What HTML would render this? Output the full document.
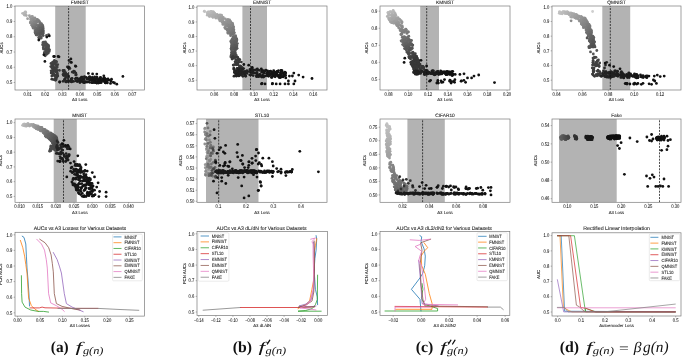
<!DOCTYPE html>
<html><head><meta charset="utf-8"><style>
html,body{margin:0;padding:0;background:#fff;}
body{width:682px;height:357px;overflow:hidden;position:relative;}
svg{position:absolute;left:0;top:0;will-change:transform;}
svg text{font-family:"Liberation Sans", sans-serif;fill:#262626;text-rendering:geometricPrecision;stroke:#262626;stroke-width:0.09px;}
svg text.cs{font-family:"Liberation Serif",serif;fill:#111;stroke:none;}
.cap{position:absolute;top:337px;font-family:"Liberation Serif",serif;font-size:14px;color:#111;white-space:nowrap;}
.cap b{font-weight:bold;}
.cap i{font-style:italic;}
.cap sub{font-size:9.5px;vertical-align:-3px;font-style:italic;}
</style></head><body>
<svg width="682" height="357" viewBox="0 0 682 357" xmlns="http://www.w3.org/2000/svg">
<clipPath id="c0"><rect x="15" y="6" width="129.5" height="84"/></clipPath>
<clipPath id="c1"><rect x="197" y="6" width="130" height="84"/></clipPath>
<clipPath id="c2"><rect x="380" y="6" width="130" height="84"/></clipPath>
<clipPath id="c3"><rect x="552" y="6" width="129" height="84"/></clipPath>
<clipPath id="c4"><rect x="15" y="119" width="129.6" height="83.30000000000001"/></clipPath>
<clipPath id="c5"><rect x="197" y="119" width="130" height="83.30000000000001"/></clipPath>
<clipPath id="c6"><rect x="380" y="119" width="130" height="83.30000000000001"/></clipPath>
<clipPath id="c7"><rect x="552" y="119" width="129" height="83.30000000000001"/></clipPath>
<clipPath id="c8"><rect x="15" y="232.3" width="129.6" height="83.80000000000001"/></clipPath>
<clipPath id="c9"><rect x="197" y="231.5" width="130.39999999999998" height="84.0"/></clipPath>
<clipPath id="c10"><rect x="380" y="231.5" width="129.8" height="84.0"/></clipPath>
<clipPath id="c11"><rect x="552" y="232.8" width="129" height="83.19999999999999"/></clipPath>
<g clip-path="url(#c0)">
<rect x="55.2" y="6" width="30.5" height="84" fill="#b3b3b3"/>
<circle cx="22.6" cy="13.3" r="1.4" fill="#bcbcbc"/>
<circle cx="25.0" cy="12.2" r="1.4" fill="#b9b9b9"/>
<circle cx="25.5" cy="12.0" r="1.4" fill="#b9b9b9"/>
<circle cx="23.9" cy="13.3" r="1.4" fill="#b9b9b9"/>
<circle cx="24.8" cy="12.7" r="1.4" fill="#b8b8b8"/>
<circle cx="23.8" cy="13.7" r="1.4" fill="#b8b8b8"/>
<circle cx="25.8" cy="12.7" r="1.4" fill="#b6b6b6"/>
<circle cx="24.3" cy="15.0" r="1.4" fill="#b3b3b3"/>
<circle cx="24.9" cy="14.9" r="1.4" fill="#b1b1b1"/>
<circle cx="26.3" cy="15.5" r="1.4" fill="#acacac"/>
<circle cx="29.4" cy="15.7" r="1.4" fill="#a4a4a4"/>
<circle cx="27.6" cy="18.7" r="1.4" fill="#a0a0a0"/>
<circle cx="30.7" cy="17.2" r="1.4" fill="#9d9d9d"/>
<circle cx="30.5" cy="17.4" r="1.4" fill="#9d9d9d"/>
<circle cx="31.3" cy="16.9" r="1.4" fill="#9c9c9c"/>
<circle cx="32.4" cy="16.3" r="1.4" fill="#9c9c9c"/>
<circle cx="31.8" cy="17.0" r="1.4" fill="#9b9b9b"/>
<circle cx="31.3" cy="17.8" r="1.4" fill="#9a9a9a"/>
<circle cx="30.7" cy="19.4" r="1.4" fill="#969696"/>
<circle cx="33.4" cy="18.4" r="1.4" fill="#939393"/>
<circle cx="32.2" cy="19.6" r="1.4" fill="#929292"/>
<circle cx="32.6" cy="19.4" r="1.4" fill="#929292"/>
<circle cx="33.1" cy="19.1" r="1.4" fill="#929292"/>
<circle cx="34.9" cy="17.9" r="1.4" fill="#919191"/>
<circle cx="34.2" cy="18.8" r="1.4" fill="#909090"/>
<circle cx="31.1" cy="21.3" r="1.4" fill="#909090"/>
<circle cx="30.5" cy="22.2" r="1.4" fill="#8f8f8f"/>
<circle cx="30.4" cy="22.9" r="1.4" fill="#8d8d8d"/>
<circle cx="33.3" cy="20.8" r="1.4" fill="#8c8c8c"/>
<circle cx="34.0" cy="20.9" r="1.4" fill="#8a8a8a"/>
<circle cx="31.4" cy="22.9" r="1.4" fill="#8a8a8a"/>
<circle cx="32.4" cy="22.6" r="1.4" fill="#898989"/>
<circle cx="37.2" cy="19.3" r="1.4" fill="#888888"/>
<circle cx="37.0" cy="19.7" r="1.4" fill="#878787"/>
<circle cx="36.7" cy="20.1" r="1.4" fill="#868686"/>
<circle cx="34.5" cy="22.0" r="1.4" fill="#868686"/>
<circle cx="36.7" cy="20.4" r="1.4" fill="#858585"/>
<circle cx="33.9" cy="22.9" r="1.4" fill="#858585"/>
<circle cx="33.8" cy="23.0" r="1.4" fill="#848484"/>
<circle cx="35.8" cy="21.7" r="1.4" fill="#848484"/>
<circle cx="31.6" cy="25.0" r="1.4" fill="#848484"/>
<circle cx="37.0" cy="20.9" r="1.4" fill="#838383"/>
<circle cx="36.2" cy="21.7" r="1.4" fill="#838383"/>
<circle cx="38.4" cy="20.1" r="1.4" fill="#828282"/>
<circle cx="35.7" cy="22.3" r="1.4" fill="#828282"/>
<circle cx="36.2" cy="22.0" r="1.4" fill="#828282"/>
<circle cx="32.1" cy="25.2" r="1.4" fill="#828282"/>
<circle cx="32.9" cy="24.9" r="1.4" fill="#818181"/>
<circle cx="37.0" cy="21.9" r="1.4" fill="#808080"/>
<circle cx="37.3" cy="22.1" r="1.4" fill="#7f7f7f"/>
<circle cx="37.7" cy="21.7" r="1.4" fill="#7f7f7f"/>
<circle cx="34.2" cy="24.5" r="1.4" fill="#7f7f7f"/>
<circle cx="32.5" cy="26.0" r="1.4" fill="#7f7f7f"/>
<circle cx="39.4" cy="21.3" r="1.4" fill="#7c7c7c"/>
<circle cx="35.9" cy="24.3" r="1.4" fill="#7c7c7c"/>
<circle cx="34.6" cy="25.6" r="1.4" fill="#7b7b7b"/>
<circle cx="32.9" cy="27.0" r="1.4" fill="#7b7b7b"/>
<circle cx="36.1" cy="24.9" r="1.4" fill="#797979"/>
<circle cx="33.1" cy="27.8" r="1.4" fill="#777777"/>
<circle cx="33.9" cy="27.3" r="1.4" fill="#777777"/>
<circle cx="33.4" cy="28.2" r="1.4" fill="#767676"/>
<circle cx="40.2" cy="23.0" r="1.4" fill="#757575"/>
<circle cx="37.4" cy="25.2" r="1.4" fill="#757575"/>
<circle cx="34.6" cy="27.4" r="1.4" fill="#757575"/>
<circle cx="35.2" cy="27.1" r="1.4" fill="#757575"/>
<circle cx="34.1" cy="28.0" r="1.4" fill="#757575"/>
<circle cx="38.3" cy="25.3" r="1.4" fill="#737373"/>
<circle cx="39.2" cy="24.7" r="1.4" fill="#727272"/>
<circle cx="37.6" cy="26.4" r="1.4" fill="#717171"/>
<circle cx="41.4" cy="23.6" r="1.4" fill="#717171"/>
<circle cx="35.8" cy="28.1" r="1.4" fill="#707070"/>
<circle cx="35.3" cy="28.7" r="1.4" fill="#707070"/>
<circle cx="40.0" cy="25.4" r="1.4" fill="#6f6f6f"/>
<circle cx="36.2" cy="28.4" r="1.4" fill="#6f6f6f"/>
<circle cx="41.3" cy="24.8" r="1.4" fill="#6e6e6e"/>
<circle cx="39.3" cy="26.4" r="1.4" fill="#6d6d6d"/>
<circle cx="39.3" cy="26.6" r="1.4" fill="#6d6d6d"/>
<circle cx="37.1" cy="28.4" r="1.4" fill="#6d6d6d"/>
<circle cx="41.4" cy="25.2" r="1.4" fill="#6c6c6c"/>
<circle cx="40.9" cy="25.7" r="1.4" fill="#6c6c6c"/>
<circle cx="42.1" cy="24.8" r="1.4" fill="#6c6c6c"/>
<circle cx="41.7" cy="25.2" r="1.4" fill="#6b6b6b"/>
<circle cx="37.9" cy="28.2" r="1.4" fill="#6b6b6b"/>
<circle cx="39.0" cy="27.6" r="1.4" fill="#6b6b6b"/>
<circle cx="35.1" cy="30.7" r="1.4" fill="#6a6a6a"/>
<circle cx="42.2" cy="25.5" r="1.4" fill="#696969"/>
<circle cx="39.9" cy="27.4" r="1.4" fill="#696969"/>
<circle cx="36.3" cy="30.3" r="1.4" fill="#696969"/>
<circle cx="37.6" cy="29.3" r="1.4" fill="#696969"/>
<circle cx="35.3" cy="31.2" r="1.4" fill="#696969"/>
<circle cx="36.4" cy="30.3" r="1.4" fill="#686868"/>
<circle cx="42.3" cy="25.8" r="1.4" fill="#686868"/>
<circle cx="37.5" cy="29.6" r="1.4" fill="#686868"/>
<circle cx="40.9" cy="27.0" r="1.4" fill="#686868"/>
<circle cx="40.3" cy="27.5" r="1.4" fill="#686868"/>
<circle cx="39.8" cy="27.9" r="1.4" fill="#686868"/>
<circle cx="42.8" cy="26.0" r="1.4" fill="#666666"/>
<circle cx="39.9" cy="28.4" r="1.4" fill="#666666"/>
<circle cx="42.8" cy="26.2" r="1.4" fill="#666666"/>
<circle cx="35.2" cy="32.3" r="1.4" fill="#656565"/>
<circle cx="36.3" cy="31.7" r="1.4" fill="#646464"/>
<circle cx="38.0" cy="30.4" r="1.4" fill="#646464"/>
<circle cx="38.3" cy="30.2" r="1.4" fill="#646464"/>
<circle cx="39.1" cy="29.7" r="1.4" fill="#646464"/>
<circle cx="35.9" cy="32.3" r="1.4" fill="#646464"/>
<circle cx="41.2" cy="28.2" r="1.4" fill="#636363"/>
<circle cx="40.7" cy="28.8" r="1.4" fill="#636363"/>
<circle cx="41.9" cy="28.0" r="1.4" fill="#626262"/>
<circle cx="42.7" cy="27.4" r="1.4" fill="#626262"/>
<circle cx="40.9" cy="28.9" r="1.4" fill="#626262"/>
<circle cx="37.2" cy="31.9" r="1.4" fill="#626262"/>
<circle cx="40.9" cy="29.1" r="1.4" fill="#626262"/>
<circle cx="35.9" cy="33.2" r="1.4" fill="#616161"/>
<circle cx="35.5" cy="33.6" r="1.4" fill="#616161"/>
<circle cx="41.9" cy="28.6" r="1.4" fill="#616161"/>
<circle cx="39.2" cy="31.1" r="1.4" fill="#606060"/>
<circle cx="43.1" cy="28.1" r="1.4" fill="#5f5f5f"/>
<circle cx="38.5" cy="31.9" r="1.4" fill="#5f5f5f"/>
<circle cx="42.9" cy="28.6" r="1.4" fill="#5e5e5e"/>
<circle cx="40.2" cy="30.8" r="1.4" fill="#5e5e5e"/>
<circle cx="42.4" cy="29.5" r="1.4" fill="#5d5d5d"/>
<circle cx="37.8" cy="33.3" r="1.4" fill="#5c5c5c"/>
<circle cx="42.4" cy="29.7" r="1.4" fill="#5c5c5c"/>
<circle cx="36.2" cy="34.9" r="1.4" fill="#5b5b5b"/>
<circle cx="39.9" cy="32.0" r="1.4" fill="#5b5b5b"/>
<circle cx="40.8" cy="31.5" r="1.4" fill="#5b5b5b"/>
<circle cx="37.7" cy="34.0" r="1.4" fill="#5a5a5a"/>
<circle cx="41.3" cy="31.3" r="1.4" fill="#5a5a5a"/>
<circle cx="36.9" cy="34.9" r="1.4" fill="#5a5a5a"/>
<circle cx="43.2" cy="30.0" r="1.4" fill="#5a5a5a"/>
<circle cx="42.8" cy="30.3" r="1.4" fill="#595959"/>
<circle cx="42.1" cy="31.6" r="1.4" fill="#575757"/>
<circle cx="42.7" cy="31.7" r="1.4" fill="#555555"/>
<circle cx="43.2" cy="31.4" r="1.4" fill="#555555"/>
<circle cx="41.0" cy="36.6" r="1.4" fill="#555555"/>
<circle cx="39.6" cy="38.5" r="1.4" fill="#555555"/>
<circle cx="40.0" cy="34.5" r="1.4" fill="#555555"/>
<circle cx="39.7" cy="38.0" r="1.4" fill="#555555"/>
<circle cx="38.7" cy="37.4" r="1.4" fill="#555555"/>
<circle cx="42.4" cy="33.8" r="1.4" fill="#555555"/>
<circle cx="42.3" cy="32.7" r="1.4" fill="#555555"/>
<circle cx="43.2" cy="35.6" r="1.4" fill="#555555"/>
<circle cx="41.3" cy="38.0" r="1.4" fill="#555555"/>
<circle cx="40.7" cy="33.5" r="1.4" fill="#555555"/>
<circle cx="42.8" cy="34.9" r="1.4" fill="#555555"/>
<circle cx="41.9" cy="32.6" r="1.4" fill="#555555"/>
<circle cx="43.3" cy="32.9" r="1.4" fill="#555555"/>
<circle cx="40.8" cy="34.0" r="1.4" fill="#555555"/>
<circle cx="39.4" cy="36.1" r="1.4" fill="#555555"/>
<circle cx="42.9" cy="33.5" r="1.4" fill="#555555"/>
<circle cx="46.5" cy="35.4" r="1.4" fill="#555555"/>
<circle cx="48.6" cy="34.6" r="1.4" fill="#555555"/>
<circle cx="43.5" cy="42.1" r="1.4" fill="#545454"/>
<circle cx="42.9" cy="42.7" r="1.4" fill="#535353"/>
<circle cx="45.3" cy="41.8" r="1.4" fill="#535353"/>
<circle cx="45.2" cy="42.3" r="1.4" fill="#535353"/>
<circle cx="44.4" cy="42.8" r="1.4" fill="#535353"/>
<circle cx="42.7" cy="44.7" r="1.4" fill="#525252"/>
<circle cx="44.4" cy="43.9" r="1.4" fill="#525252"/>
<circle cx="43.0" cy="44.9" r="1.4" fill="#515151"/>
<circle cx="46.0" cy="43.6" r="1.4" fill="#515151"/>
<circle cx="45.9" cy="43.8" r="1.4" fill="#515151"/>
<circle cx="44.0" cy="45.1" r="1.4" fill="#515151"/>
<circle cx="46.6" cy="43.9" r="1.4" fill="#515151"/>
<circle cx="44.8" cy="45.4" r="1.4" fill="#505050"/>
<circle cx="46.4" cy="44.8" r="1.4" fill="#505050"/>
<circle cx="46.7" cy="44.9" r="1.4" fill="#505050"/>
<circle cx="43.5" cy="47.1" r="1.4" fill="#4f4f4f"/>
<circle cx="47.9" cy="44.9" r="1.4" fill="#4f4f4f"/>
<circle cx="43.3" cy="47.7" r="1.4" fill="#4f4f4f"/>
<circle cx="46.6" cy="46.1" r="1.4" fill="#4f4f4f"/>
<circle cx="48.4" cy="45.3" r="1.4" fill="#4f4f4f"/>
<circle cx="47.6" cy="45.8" r="1.4" fill="#4f4f4f"/>
<circle cx="46.6" cy="46.8" r="1.4" fill="#4e4e4e"/>
<circle cx="48.5" cy="46.3" r="1.4" fill="#4e4e4e"/>
<circle cx="46.3" cy="47.5" r="1.4" fill="#4e4e4e"/>
<circle cx="43.4" cy="49.1" r="1.4" fill="#4e4e4e"/>
<circle cx="44.9" cy="49.1" r="1.4" fill="#4d4d4d"/>
<circle cx="47.0" cy="48.1" r="1.4" fill="#4d4d4d"/>
<circle cx="47.3" cy="48.2" r="1.4" fill="#4d4d4d"/>
<circle cx="46.2" cy="48.8" r="1.4" fill="#4d4d4d"/>
<circle cx="48.6" cy="48.0" r="1.4" fill="#4c4c4c"/>
<circle cx="45.4" cy="49.6" r="1.4" fill="#4c4c4c"/>
<circle cx="47.1" cy="49.0" r="1.4" fill="#4c4c4c"/>
<circle cx="45.7" cy="49.7" r="1.4" fill="#4c4c4c"/>
<circle cx="46.7" cy="50.5" r="1.4" fill="#4b4b4b"/>
<circle cx="45.8" cy="51.2" r="1.4" fill="#4b4b4b"/>
<circle cx="49.2" cy="49.8" r="1.4" fill="#4b4b4b"/>
<circle cx="46.7" cy="51.1" r="1.4" fill="#4b4b4b"/>
<circle cx="49.4" cy="49.8" r="1.4" fill="#4a4a4a"/>
<circle cx="46.9" cy="51.3" r="1.4" fill="#4a4a4a"/>
<circle cx="44.4" cy="52.7" r="1.4" fill="#4a4a4a"/>
<circle cx="44.3" cy="52.9" r="1.4" fill="#4a4a4a"/>
<circle cx="44.5" cy="52.9" r="1.4" fill="#4a4a4a"/>
<circle cx="49.2" cy="51.4" r="1.4" fill="#494949"/>
<circle cx="45.3" cy="53.5" r="1.4" fill="#494949"/>
<circle cx="47.9" cy="52.4" r="1.4" fill="#494949"/>
<circle cx="47.1" cy="53.3" r="1.4" fill="#484848"/>
<circle cx="46.5" cy="53.8" r="1.4" fill="#484848"/>
<circle cx="48.1" cy="53.2" r="1.4" fill="#484848"/>
<circle cx="46.4" cy="54.4" r="1.4" fill="#484848"/>
<circle cx="45.2" cy="55.8" r="1.4" fill="#474747"/>
<circle cx="54.4" cy="60.5" r="1.4" fill="#414141"/>
<circle cx="52.7" cy="62.1" r="1.4" fill="#414141"/>
<circle cx="53.1" cy="62.2" r="1.4" fill="#414141"/>
<circle cx="51.0" cy="63.4" r="1.4" fill="#404040"/>
<circle cx="55.6" cy="61.6" r="1.4" fill="#404040"/>
<circle cx="54.4" cy="62.2" r="1.4" fill="#404040"/>
<circle cx="56.2" cy="61.6" r="1.4" fill="#404040"/>
<circle cx="56.3" cy="61.9" r="1.4" fill="#404040"/>
<circle cx="56.2" cy="61.9" r="1.4" fill="#404040"/>
<circle cx="53.0" cy="63.4" r="1.4" fill="#404040"/>
<circle cx="51.8" cy="65.0" r="1.4" fill="#3f3f3f"/>
<circle cx="55.3" cy="63.5" r="1.4" fill="#3f3f3f"/>
<circle cx="53.7" cy="64.7" r="1.4" fill="#3f3f3f"/>
<circle cx="50.8" cy="66.6" r="1.4" fill="#3f3f3f"/>
<circle cx="53.2" cy="66.2" r="1.4" fill="#3f3f3f"/>
<circle cx="56.4" cy="64.9" r="1.4" fill="#3f3f3f"/>
<circle cx="52.8" cy="66.8" r="1.4" fill="#3e3e3e"/>
<circle cx="57.7" cy="64.6" r="1.4" fill="#3e3e3e"/>
<circle cx="56.6" cy="65.7" r="1.4" fill="#3e3e3e"/>
<circle cx="51.9" cy="68.0" r="1.4" fill="#3e3e3e"/>
<circle cx="56.9" cy="65.9" r="1.4" fill="#3e3e3e"/>
<circle cx="54.5" cy="67.9" r="1.4" fill="#3d3d3d"/>
<circle cx="54.7" cy="68.0" r="1.4" fill="#3d3d3d"/>
<circle cx="57.1" cy="67.0" r="1.4" fill="#3d3d3d"/>
<circle cx="54.9" cy="68.0" r="1.4" fill="#3d3d3d"/>
<circle cx="56.8" cy="67.3" r="1.4" fill="#3d3d3d"/>
<circle cx="52.9" cy="69.4" r="1.4" fill="#3d3d3d"/>
<circle cx="55.7" cy="68.5" r="1.4" fill="#3d3d3d"/>
<circle cx="54.4" cy="69.1" r="1.4" fill="#3d3d3d"/>
<circle cx="51.1" cy="70.8" r="1.4" fill="#3d3d3d"/>
<circle cx="55.9" cy="68.7" r="1.4" fill="#3d3d3d"/>
<circle cx="53.0" cy="70.3" r="1.4" fill="#3d3d3d"/>
<circle cx="53.7" cy="70.5" r="1.4" fill="#3c3c3c"/>
<circle cx="55.0" cy="70.5" r="1.4" fill="#3c3c3c"/>
<circle cx="54.1" cy="71.4" r="1.4" fill="#3c3c3c"/>
<circle cx="52.2" cy="72.3" r="1.4" fill="#3c3c3c"/>
<circle cx="52.5" cy="72.2" r="1.4" fill="#3c3c3c"/>
<circle cx="57.2" cy="70.3" r="1.4" fill="#3c3c3c"/>
<circle cx="51.2" cy="73.0" r="1.4" fill="#3c3c3c"/>
<circle cx="56.4" cy="71.0" r="1.4" fill="#3c3c3c"/>
<circle cx="59.4" cy="70.4" r="1.4" fill="#3b3b3b"/>
<circle cx="53.6" cy="73.4" r="1.4" fill="#3b3b3b"/>
<circle cx="56.5" cy="72.3" r="1.4" fill="#3b3b3b"/>
<circle cx="56.8" cy="72.3" r="1.4" fill="#3b3b3b"/>
<circle cx="52.7" cy="75.0" r="1.4" fill="#3a3a3a"/>
<circle cx="51.8" cy="76.1" r="1.4" fill="#3a3a3a"/>
<circle cx="57.4" cy="73.7" r="1.4" fill="#3a3a3a"/>
<circle cx="54.9" cy="75.1" r="1.4" fill="#3a3a3a"/>
<circle cx="57.0" cy="74.7" r="1.4" fill="#3a3a3a"/>
<circle cx="54.5" cy="76.1" r="1.4" fill="#3a3a3a"/>
<circle cx="57.4" cy="75.4" r="1.4" fill="#393939"/>
<circle cx="57.8" cy="76.1" r="1.4" fill="#393939"/>
<circle cx="51.8" cy="79.2" r="1.4" fill="#393939"/>
<circle cx="56.3" cy="77.4" r="1.4" fill="#393939"/>
<circle cx="56.6" cy="77.6" r="1.4" fill="#383838"/>
<circle cx="55.8" cy="78.2" r="1.4" fill="#383838"/>
<circle cx="53.3" cy="79.6" r="1.4" fill="#383838"/>
<circle cx="55.2" cy="78.7" r="1.4" fill="#383838"/>
<circle cx="56.1" cy="79.6" r="1.4" fill="#383838"/>
<circle cx="55.4" cy="80.3" r="1.4" fill="#373737"/>
<circle cx="63.0" cy="70.4" r="1.4" fill="#303030"/>
<circle cx="63.5" cy="71.1" r="1.4" fill="#303030"/>
<circle cx="64.3" cy="70.5" r="1.4" fill="#303030"/>
<circle cx="63.7" cy="71.2" r="1.4" fill="#303030"/>
<circle cx="63.7" cy="71.8" r="1.4" fill="#303030"/>
<circle cx="64.4" cy="71.9" r="1.4" fill="#303030"/>
<circle cx="64.4" cy="73.0" r="1.4" fill="#303030"/>
<circle cx="65.6" cy="72.6" r="1.4" fill="#303030"/>
<circle cx="66.2" cy="74.3" r="1.4" fill="#303030"/>
<circle cx="66.7" cy="74.6" r="1.4" fill="#303030"/>
<circle cx="66.9" cy="75.0" r="1.4" fill="#303030"/>
<circle cx="67.6" cy="74.7" r="1.4" fill="#303030"/>
<circle cx="68.4" cy="75.8" r="1.4" fill="#303030"/>
<circle cx="68.6" cy="76.7" r="1.4" fill="#303030"/>
<circle cx="67.3" cy="66.8" r="1.4" fill="#303030"/>
<circle cx="68.9" cy="67.1" r="1.4" fill="#303030"/>
<circle cx="68.9" cy="67.3" r="1.4" fill="#303030"/>
<circle cx="69.2" cy="68.4" r="1.4" fill="#303030"/>
<circle cx="69.9" cy="68.4" r="1.4" fill="#303030"/>
<circle cx="72.2" cy="72.1" r="1.4" fill="#303030"/>
<circle cx="73.7" cy="71.1" r="1.4" fill="#2a2a2a"/>
<circle cx="74.7" cy="71.7" r="1.4" fill="#2a2a2a"/>
<circle cx="73.7" cy="72.6" r="1.4" fill="#2a2a2a"/>
<circle cx="75.8" cy="73.1" r="1.4" fill="#2a2a2a"/>
<circle cx="75.7" cy="74.9" r="1.4" fill="#2a2a2a"/>
<circle cx="76.2" cy="74.7" r="1.4" fill="#2a2a2a"/>
<circle cx="63.1" cy="74.4" r="1.4" fill="#2c2c2c"/>
<circle cx="63.3" cy="75.1" r="1.4" fill="#2c2c2c"/>
<circle cx="63.6" cy="75.0" r="1.4" fill="#2c2c2c"/>
<circle cx="63.6" cy="75.3" r="1.4" fill="#2c2c2c"/>
<circle cx="64.6" cy="74.4" r="1.4" fill="#2c2c2c"/>
<circle cx="64.6" cy="74.6" r="1.4" fill="#2c2c2c"/>
<circle cx="65.0" cy="74.7" r="1.4" fill="#2c2c2c"/>
<circle cx="65.2" cy="75.6" r="1.4" fill="#2c2c2c"/>
<circle cx="66.2" cy="74.9" r="1.4" fill="#2c2c2c"/>
<circle cx="65.6" cy="76.9" r="1.4" fill="#2c2c2c"/>
<circle cx="66.6" cy="75.6" r="1.4" fill="#2c2c2c"/>
<circle cx="67.6" cy="75.5" r="1.4" fill="#2c2c2c"/>
<circle cx="67.2" cy="77.6" r="1.4" fill="#2c2c2c"/>
<circle cx="68.2" cy="77.5" r="1.4" fill="#2c2c2c"/>
<circle cx="63.0" cy="81.3" r="1.4" fill="#262626"/>
<circle cx="64.4" cy="79.7" r="1.4" fill="#252525"/>
<circle cx="65.0" cy="78.9" r="1.4" fill="#252525"/>
<circle cx="65.7" cy="81.7" r="1.4" fill="#242424"/>
<circle cx="66.1" cy="81.8" r="1.4" fill="#242424"/>
<circle cx="66.1" cy="81.9" r="1.4" fill="#242424"/>
<circle cx="67.1" cy="81.4" r="1.4" fill="#242424"/>
<circle cx="67.4" cy="80.6" r="1.4" fill="#242424"/>
<circle cx="68.3" cy="81.0" r="1.4" fill="#232323"/>
<circle cx="68.7" cy="81.4" r="1.4" fill="#232323"/>
<circle cx="70.4" cy="81.2" r="1.4" fill="#222222"/>
<circle cx="70.9" cy="80.3" r="1.4" fill="#222222"/>
<circle cx="71.1" cy="78.9" r="1.4" fill="#222222"/>
<circle cx="71.1" cy="81.3" r="1.4" fill="#222222"/>
<circle cx="71.1" cy="80.6" r="1.4" fill="#222222"/>
<circle cx="71.3" cy="79.8" r="1.4" fill="#222222"/>
<circle cx="71.6" cy="81.4" r="1.4" fill="#222222"/>
<circle cx="71.6" cy="81.9" r="1.4" fill="#222222"/>
<circle cx="72.1" cy="78.4" r="1.4" fill="#222222"/>
<circle cx="73.6" cy="81.4" r="1.4" fill="#212121"/>
<circle cx="75.3" cy="78.8" r="1.4" fill="#202020"/>
<circle cx="76.0" cy="80.8" r="1.4" fill="#202020"/>
<circle cx="76.2" cy="78.1" r="1.4" fill="#202020"/>
<circle cx="76.6" cy="81.1" r="1.4" fill="#202020"/>
<circle cx="77.0" cy="78.2" r="1.4" fill="#1f1f1f"/>
<circle cx="77.4" cy="81.5" r="1.4" fill="#1f1f1f"/>
<circle cx="78.3" cy="79.9" r="1.4" fill="#1f1f1f"/>
<circle cx="78.9" cy="79.0" r="1.4" fill="#1f1f1f"/>
<circle cx="79.0" cy="81.0" r="1.4" fill="#1f1f1f"/>
<circle cx="79.9" cy="82.5" r="1.4" fill="#1e1e1e"/>
<circle cx="80.2" cy="78.7" r="1.4" fill="#1e1e1e"/>
<circle cx="80.2" cy="80.3" r="1.4" fill="#1e1e1e"/>
<circle cx="80.3" cy="81.8" r="1.4" fill="#1e1e1e"/>
<circle cx="80.9" cy="79.0" r="1.4" fill="#1e1e1e"/>
<circle cx="81.1" cy="81.0" r="1.4" fill="#1e1e1e"/>
<circle cx="81.4" cy="77.2" r="1.4" fill="#1e1e1e"/>
<circle cx="81.6" cy="78.1" r="1.4" fill="#1d1d1d"/>
<circle cx="81.7" cy="79.0" r="1.4" fill="#1d1d1d"/>
<circle cx="82.0" cy="79.7" r="1.4" fill="#1d1d1d"/>
<circle cx="82.2" cy="78.2" r="1.4" fill="#1d1d1d"/>
<circle cx="82.5" cy="77.1" r="1.4" fill="#1d1d1d"/>
<circle cx="82.6" cy="82.1" r="1.4" fill="#1d1d1d"/>
<circle cx="83.7" cy="79.6" r="1.4" fill="#1c1c1c"/>
<circle cx="83.9" cy="82.5" r="1.4" fill="#1c1c1c"/>
<circle cx="84.2" cy="79.0" r="1.4" fill="#1c1c1c"/>
<circle cx="84.5" cy="76.7" r="1.4" fill="#1c1c1c"/>
<circle cx="84.6" cy="82.7" r="1.4" fill="#1c1c1c"/>
<circle cx="84.6" cy="81.7" r="1.4" fill="#1c1c1c"/>
<circle cx="85.9" cy="81.6" r="1.4" fill="#1c1c1c"/>
<circle cx="86.3" cy="77.5" r="1.4" fill="#1b1b1b"/>
<circle cx="86.9" cy="82.2" r="1.4" fill="#1b1b1b"/>
<circle cx="87.1" cy="79.0" r="1.4" fill="#1b1b1b"/>
<circle cx="87.7" cy="78.5" r="1.4" fill="#1b1b1b"/>
<circle cx="88.0" cy="81.6" r="1.4" fill="#1b1b1b"/>
<circle cx="89.1" cy="79.3" r="1.4" fill="#1a1a1a"/>
<circle cx="89.3" cy="76.8" r="1.4" fill="#1a1a1a"/>
<circle cx="89.5" cy="82.3" r="1.4" fill="#1a1a1a"/>
<circle cx="89.8" cy="77.7" r="1.4" fill="#1a1a1a"/>
<circle cx="89.9" cy="79.7" r="1.4" fill="#1a1a1a"/>
<circle cx="89.9" cy="77.0" r="1.4" fill="#1a1a1a"/>
<circle cx="90.0" cy="79.5" r="1.4" fill="#1a1a1a"/>
<circle cx="90.7" cy="79.9" r="1.4" fill="#191919"/>
<circle cx="90.8" cy="79.1" r="1.4" fill="#191919"/>
<circle cx="91.2" cy="78.4" r="1.4" fill="#191919"/>
<circle cx="91.2" cy="77.8" r="1.4" fill="#191919"/>
<circle cx="91.5" cy="82.5" r="1.4" fill="#191919"/>
<circle cx="91.7" cy="80.1" r="1.4" fill="#191919"/>
<circle cx="91.7" cy="78.2" r="1.4" fill="#191919"/>
<circle cx="92.5" cy="77.5" r="1.4" fill="#191919"/>
<circle cx="92.5" cy="82.7" r="1.4" fill="#191919"/>
<circle cx="93.0" cy="80.2" r="1.4" fill="#181818"/>
<circle cx="93.0" cy="82.6" r="1.4" fill="#181818"/>
<circle cx="93.2" cy="78.3" r="1.4" fill="#181818"/>
<circle cx="93.4" cy="79.4" r="1.4" fill="#181818"/>
<circle cx="94.0" cy="80.6" r="1.4" fill="#181818"/>
<circle cx="94.0" cy="79.1" r="1.4" fill="#181818"/>
<circle cx="94.2" cy="80.3" r="1.4" fill="#181818"/>
<circle cx="94.4" cy="79.7" r="1.4" fill="#181818"/>
<circle cx="94.5" cy="80.9" r="1.4" fill="#181818"/>
<circle cx="94.7" cy="77.0" r="1.4" fill="#181818"/>
<circle cx="95.0" cy="82.7" r="1.4" fill="#181818"/>
<circle cx="95.3" cy="79.8" r="1.4" fill="#171717"/>
<circle cx="95.4" cy="82.2" r="1.4" fill="#171717"/>
<circle cx="95.7" cy="79.4" r="1.4" fill="#171717"/>
<circle cx="96.0" cy="79.4" r="1.4" fill="#171717"/>
<circle cx="96.6" cy="82.9" r="1.4" fill="#171717"/>
<circle cx="96.7" cy="82.3" r="1.4" fill="#171717"/>
<circle cx="96.8" cy="83.0" r="1.4" fill="#171717"/>
<circle cx="96.9" cy="77.2" r="1.4" fill="#171717"/>
<circle cx="97.2" cy="79.4" r="1.4" fill="#171717"/>
<circle cx="97.9" cy="80.8" r="1.4" fill="#161616"/>
<circle cx="98.1" cy="79.3" r="1.4" fill="#161616"/>
<circle cx="98.4" cy="82.4" r="1.4" fill="#161616"/>
<circle cx="98.4" cy="83.0" r="1.4" fill="#161616"/>
<circle cx="99.2" cy="82.7" r="1.4" fill="#161616"/>
<circle cx="99.7" cy="79.4" r="1.4" fill="#161616"/>
<circle cx="99.7" cy="80.6" r="1.4" fill="#151515"/>
<circle cx="99.9" cy="77.8" r="1.4" fill="#151515"/>
<circle cx="100.2" cy="82.5" r="1.4" fill="#151515"/>
<circle cx="101.3" cy="82.5" r="1.4" fill="#151515"/>
<circle cx="101.6" cy="81.1" r="1.4" fill="#151515"/>
<circle cx="102.2" cy="80.4" r="1.4" fill="#141414"/>
<circle cx="102.5" cy="79.2" r="1.4" fill="#141414"/>
<circle cx="102.6" cy="78.8" r="1.4" fill="#141414"/>
<circle cx="103.3" cy="79.4" r="1.4" fill="#141414"/>
<circle cx="104.2" cy="81.5" r="1.4" fill="#141414"/>
<circle cx="104.2" cy="77.7" r="1.4" fill="#141414"/>
<circle cx="104.4" cy="80.2" r="1.4" fill="#131313"/>
<circle cx="104.8" cy="79.3" r="1.4" fill="#131313"/>
<circle cx="105.0" cy="78.6" r="1.4" fill="#131313"/>
<circle cx="105.2" cy="82.8" r="1.4" fill="#131313"/>
<circle cx="105.3" cy="79.1" r="1.4" fill="#131313"/>
<circle cx="105.5" cy="80.7" r="1.4" fill="#131313"/>
<circle cx="105.6" cy="82.9" r="1.4" fill="#131313"/>
<circle cx="106.4" cy="79.8" r="1.4" fill="#131313"/>
<circle cx="106.6" cy="80.2" r="1.4" fill="#121212"/>
<circle cx="106.6" cy="80.7" r="1.4" fill="#121212"/>
<circle cx="106.9" cy="82.3" r="1.4" fill="#121212"/>
<circle cx="107.3" cy="82.9" r="1.4" fill="#121212"/>
<circle cx="108.0" cy="79.0" r="1.4" fill="#121212"/>
<circle cx="59.8" cy="82" r="1.4" fill="#2a2a2a"/>
<circle cx="75.3" cy="66" r="1.4" fill="#2a2a2a"/>
<circle cx="69" cy="60.5" r="1.4" fill="#2a2a2a"/>
<circle cx="70.7" cy="62.2" r="1.4" fill="#2a2a2a"/>
<circle cx="68.2" cy="67.2" r="1.4" fill="#2a2a2a"/>
<circle cx="111" cy="81" r="1.4" fill="#111111"/>
<circle cx="113.2" cy="82.3" r="1.4" fill="#111111"/>
<circle cx="110.5" cy="83.4" r="1.4" fill="#111111"/>
<circle cx="114.5" cy="83.0" r="1.4" fill="#111111"/>
<circle cx="108.8" cy="80.2" r="1.4" fill="#111111"/>
<circle cx="46.8" cy="37.1" r="1.4" fill="#151515"/>
<circle cx="49.3" cy="35.9" r="1.4" fill="#151515"/>
<circle cx="38.8" cy="40" r="1.4" fill="#151515"/>
<circle cx="43.9" cy="54.8" r="1.4" fill="#151515"/>
<circle cx="54.4" cy="56.5" r="1.4" fill="#151515"/>
<circle cx="59" cy="56.8" r="1.4" fill="#151515"/>
<circle cx="44.9" cy="61.4" r="1.4" fill="#151515"/>
<circle cx="53.7" cy="56.5" r="1.4" fill="#151515"/>
<circle cx="58.1" cy="56.5" r="1.4" fill="#151515"/>
<circle cx="70.9" cy="58.9" r="1.4" fill="#151515"/>
<circle cx="71.4" cy="62.4" r="1.4" fill="#151515"/>
<circle cx="75.8" cy="66.3" r="1.4" fill="#151515"/>
<circle cx="68.4" cy="67.7" r="1.4" fill="#151515"/>
<circle cx="59.6" cy="82" r="1.4" fill="#151515"/>
<circle cx="88.4" cy="73.4" r="1.4" fill="#151515"/>
<circle cx="92.6" cy="73.9" r="1.4" fill="#151515"/>
<circle cx="96.8" cy="74.1" r="1.4" fill="#151515"/>
<circle cx="103.8" cy="75.8" r="1.4" fill="#151515"/>
<circle cx="100.6" cy="77.5" r="1.4" fill="#151515"/>
<circle cx="111.5" cy="79.2" r="1.4" fill="#151515"/>
<circle cx="106.9" cy="80" r="1.4" fill="#151515"/>
<circle cx="122.9" cy="76.4" r="1.4" fill="#151515"/>
<circle cx="116.8" cy="84.2" r="1.4" fill="#151515"/>
<line x1="68.6" y1="90" x2="68.6" y2="6" stroke="#111" stroke-width="0.75" stroke-dasharray="2,1.2"/>
</g>
<rect x="15" y="6" width="129.5" height="84" fill="none" stroke="#7a7a7a" stroke-width="0.7"/>
<line x1="27.50" y1="90" x2="27.50" y2="91.3" stroke="#7a7a7a" stroke-width="0.6"/>
<text x="27.50" y="96.1" font-size="5.3" text-anchor="middle" textLength="8.15" lengthAdjust="spacingAndGlyphs">0.01</text>
<line x1="44.95" y1="90" x2="44.95" y2="91.3" stroke="#7a7a7a" stroke-width="0.6"/>
<text x="44.95" y="96.1" font-size="5.3" text-anchor="middle" textLength="8.15" lengthAdjust="spacingAndGlyphs">0.02</text>
<line x1="62.40" y1="90" x2="62.40" y2="91.3" stroke="#7a7a7a" stroke-width="0.6"/>
<text x="62.40" y="96.1" font-size="5.3" text-anchor="middle" textLength="8.15" lengthAdjust="spacingAndGlyphs">0.03</text>
<line x1="79.85" y1="90" x2="79.85" y2="91.3" stroke="#7a7a7a" stroke-width="0.6"/>
<text x="79.85" y="96.1" font-size="5.3" text-anchor="middle" textLength="8.15" lengthAdjust="spacingAndGlyphs">0.04</text>
<line x1="97.30" y1="90" x2="97.30" y2="91.3" stroke="#7a7a7a" stroke-width="0.6"/>
<text x="97.30" y="96.1" font-size="5.3" text-anchor="middle" textLength="8.15" lengthAdjust="spacingAndGlyphs">0.05</text>
<line x1="114.75" y1="90" x2="114.75" y2="91.3" stroke="#7a7a7a" stroke-width="0.6"/>
<text x="114.75" y="96.1" font-size="5.3" text-anchor="middle" textLength="8.15" lengthAdjust="spacingAndGlyphs">0.06</text>
<line x1="132.20" y1="90" x2="132.20" y2="91.3" stroke="#7a7a7a" stroke-width="0.6"/>
<text x="132.20" y="96.1" font-size="5.3" text-anchor="middle" textLength="8.15" lengthAdjust="spacingAndGlyphs">0.07</text>
<line x1="13.7" y1="82.50" x2="15" y2="82.50" stroke="#7a7a7a" stroke-width="0.6"/>
<text x="12.3" y="84.20" font-size="5.3" text-anchor="end" textLength="5.82" lengthAdjust="spacingAndGlyphs">0.5</text>
<line x1="13.7" y1="67.26" x2="15" y2="67.26" stroke="#7a7a7a" stroke-width="0.6"/>
<text x="12.3" y="68.96" font-size="5.3" text-anchor="end" textLength="5.82" lengthAdjust="spacingAndGlyphs">0.6</text>
<line x1="13.7" y1="52.02" x2="15" y2="52.02" stroke="#7a7a7a" stroke-width="0.6"/>
<text x="12.3" y="53.72" font-size="5.3" text-anchor="end" textLength="5.82" lengthAdjust="spacingAndGlyphs">0.7</text>
<line x1="13.7" y1="36.78" x2="15" y2="36.78" stroke="#7a7a7a" stroke-width="0.6"/>
<text x="12.3" y="38.48" font-size="5.3" text-anchor="end" textLength="5.82" lengthAdjust="spacingAndGlyphs">0.8</text>
<line x1="13.7" y1="21.54" x2="15" y2="21.54" stroke="#7a7a7a" stroke-width="0.6"/>
<text x="12.3" y="23.24" font-size="5.3" text-anchor="end" textLength="5.82" lengthAdjust="spacingAndGlyphs">0.9</text>
<line x1="13.7" y1="6.30" x2="15" y2="6.30" stroke="#7a7a7a" stroke-width="0.6"/>
<text x="12.3" y="8.00" font-size="5.3" text-anchor="end" textLength="5.82" lengthAdjust="spacingAndGlyphs">1.0</text>
<text x="79.75" y="3.7" font-size="4.8" text-anchor="middle">FMNIST</text>
<text x="79.75" y="101.2" font-size="4.3" text-anchor="middle">A3 Loss</text>
<text x="0" y="0" font-size="4.3" text-anchor="middle" transform="translate(2.5,48.0) rotate(-90)">AUCs</text>
<g clip-path="url(#c1)">
<rect x="242.4" y="6" width="24.599999999999994" height="84" fill="#b3b3b3"/>
<circle cx="204.3" cy="11.2" r="1.4" fill="#c3c3c3"/>
<circle cx="204.6" cy="11.6" r="1.4" fill="#c2c2c2"/>
<circle cx="207.1" cy="12.6" r="1.4" fill="#bdbdbd"/>
<circle cx="208.1" cy="12.0" r="1.4" fill="#bdbdbd"/>
<circle cx="208.6" cy="12.2" r="1.4" fill="#bcbcbc"/>
<circle cx="209.6" cy="11.9" r="1.4" fill="#bbbbbb"/>
<circle cx="207.5" cy="13.7" r="1.4" fill="#bbbbbb"/>
<circle cx="210.9" cy="11.5" r="1.4" fill="#bababa"/>
<circle cx="211.5" cy="11.4" r="1.4" fill="#bababa"/>
<circle cx="208.1" cy="14.5" r="1.4" fill="#b8b8b8"/>
<circle cx="207.3" cy="15.2" r="1.4" fill="#b8b8b8"/>
<circle cx="209.1" cy="14.3" r="1.4" fill="#b7b7b7"/>
<circle cx="213.0" cy="11.9" r="1.4" fill="#b7b7b7"/>
<circle cx="213.4" cy="11.9" r="1.4" fill="#b6b6b6"/>
<circle cx="208.9" cy="15.2" r="1.4" fill="#b6b6b6"/>
<circle cx="212.0" cy="13.1" r="1.4" fill="#b6b6b6"/>
<circle cx="211.6" cy="13.6" r="1.4" fill="#b6b6b6"/>
<circle cx="211.6" cy="13.8" r="1.4" fill="#b5b5b5"/>
<circle cx="209.2" cy="15.6" r="1.4" fill="#b5b5b5"/>
<circle cx="213.7" cy="12.7" r="1.4" fill="#b5b5b5"/>
<circle cx="211.9" cy="13.9" r="1.4" fill="#b5b5b5"/>
<circle cx="213.5" cy="13.0" r="1.4" fill="#b4b4b4"/>
<circle cx="210.8" cy="15.5" r="1.4" fill="#b3b3b3"/>
<circle cx="213.7" cy="13.5" r="1.4" fill="#b3b3b3"/>
<circle cx="209.4" cy="16.5" r="1.4" fill="#b3b3b3"/>
<circle cx="214.6" cy="13.1" r="1.4" fill="#b3b3b3"/>
<circle cx="214.4" cy="13.3" r="1.4" fill="#b3b3b3"/>
<circle cx="210.7" cy="16.1" r="1.4" fill="#b2b2b2"/>
<circle cx="212.1" cy="15.5" r="1.4" fill="#b1b1b1"/>
<circle cx="211.7" cy="15.8" r="1.4" fill="#b1b1b1"/>
<circle cx="214.2" cy="14.1" r="1.4" fill="#b1b1b1"/>
<circle cx="211.8" cy="15.7" r="1.4" fill="#b1b1b1"/>
<circle cx="213.6" cy="14.6" r="1.4" fill="#b1b1b1"/>
<circle cx="213.2" cy="15.7" r="1.4" fill="#b0b0b0"/>
<circle cx="213.8" cy="15.8" r="1.4" fill="#afafaf"/>
<circle cx="214.0" cy="15.7" r="1.4" fill="#afafaf"/>
<circle cx="215.3" cy="15.0" r="1.4" fill="#aeaeae"/>
<circle cx="212.9" cy="17.1" r="1.4" fill="#adadad"/>
<circle cx="217.2" cy="14.4" r="1.4" fill="#adadad"/>
<circle cx="216.4" cy="15.0" r="1.4" fill="#adadad"/>
<circle cx="212.9" cy="17.3" r="1.4" fill="#adadad"/>
<circle cx="214.7" cy="16.3" r="1.4" fill="#adadad"/>
<circle cx="215.9" cy="15.6" r="1.4" fill="#adadad"/>
<circle cx="216.8" cy="15.7" r="1.4" fill="#ababab"/>
<circle cx="217.9" cy="15.4" r="1.4" fill="#aaaaaa"/>
<circle cx="215.7" cy="16.9" r="1.4" fill="#aaaaaa"/>
<circle cx="216.8" cy="16.2" r="1.4" fill="#aaaaaa"/>
<circle cx="218.6" cy="15.7" r="1.4" fill="#a9a9a9"/>
<circle cx="218.6" cy="15.7" r="1.4" fill="#a9a9a9"/>
<circle cx="220.0" cy="15.0" r="1.4" fill="#a9a9a9"/>
<circle cx="215.8" cy="17.8" r="1.4" fill="#a8a8a8"/>
<circle cx="219.1" cy="15.8" r="1.4" fill="#a8a8a8"/>
<circle cx="215.9" cy="17.9" r="1.4" fill="#a8a8a8"/>
<circle cx="218.7" cy="16.2" r="1.4" fill="#a8a8a8"/>
<circle cx="216.2" cy="17.9" r="1.4" fill="#a8a8a8"/>
<circle cx="220.1" cy="15.6" r="1.4" fill="#a7a7a7"/>
<circle cx="220.5" cy="15.6" r="1.4" fill="#a7a7a7"/>
<circle cx="220.0" cy="16.0" r="1.4" fill="#a7a7a7"/>
<circle cx="219.4" cy="16.6" r="1.4" fill="#a6a6a6"/>
<circle cx="221.6" cy="15.2" r="1.4" fill="#a6a6a6"/>
<circle cx="218.4" cy="17.8" r="1.4" fill="#a5a5a5"/>
<circle cx="218.8" cy="17.8" r="1.4" fill="#a5a5a5"/>
<circle cx="220.0" cy="17.4" r="1.4" fill="#a4a4a4"/>
<circle cx="219.8" cy="18.6" r="1.4" fill="#a2a2a2"/>
<circle cx="219.1" cy="19.2" r="1.4" fill="#a2a2a2"/>
<circle cx="222.0" cy="17.3" r="1.4" fill="#a2a2a2"/>
<circle cx="220.7" cy="18.4" r="1.4" fill="#a1a1a1"/>
<circle cx="221.5" cy="18.1" r="1.4" fill="#a1a1a1"/>
<circle cx="219.8" cy="19.3" r="1.4" fill="#a1a1a1"/>
<circle cx="221.8" cy="18.0" r="1.4" fill="#a1a1a1"/>
<circle cx="223.3" cy="17.4" r="1.4" fill="#a0a0a0"/>
<circle cx="221.8" cy="18.6" r="1.4" fill="#a0a0a0"/>
<circle cx="222.1" cy="18.6" r="1.4" fill="#9f9f9f"/>
<circle cx="220.4" cy="20.2" r="1.4" fill="#9e9e9e"/>
<circle cx="223.1" cy="18.5" r="1.4" fill="#9e9e9e"/>
<circle cx="219.8" cy="20.8" r="1.4" fill="#9e9e9e"/>
<circle cx="222.1" cy="19.4" r="1.4" fill="#9d9d9d"/>
<circle cx="222.6" cy="19.7" r="1.4" fill="#9c9c9c"/>
<circle cx="223.1" cy="19.9" r="1.4" fill="#9b9b9b"/>
<circle cx="225.3" cy="18.8" r="1.4" fill="#9b9b9b"/>
<circle cx="221.7" cy="21.6" r="1.4" fill="#9a9a9a"/>
<circle cx="222.0" cy="21.5" r="1.4" fill="#9a9a9a"/>
<circle cx="227.5" cy="19.6" r="1.4" fill="#969696"/>
<circle cx="222.7" cy="23.0" r="1.4" fill="#969696"/>
<circle cx="224.2" cy="22.1" r="1.4" fill="#969696"/>
<circle cx="227.4" cy="20.1" r="1.4" fill="#969696"/>
<circle cx="226.6" cy="20.6" r="1.4" fill="#969696"/>
<circle cx="228.2" cy="19.7" r="1.4" fill="#959595"/>
<circle cx="224.7" cy="22.3" r="1.4" fill="#959595"/>
<circle cx="223.7" cy="23.2" r="1.4" fill="#949494"/>
<circle cx="228.2" cy="20.4" r="1.4" fill="#949494"/>
<circle cx="224.9" cy="22.6" r="1.4" fill="#949494"/>
<circle cx="226.7" cy="21.4" r="1.4" fill="#949494"/>
<circle cx="229.6" cy="19.9" r="1.4" fill="#939393"/>
<circle cx="222.9" cy="24.4" r="1.4" fill="#939393"/>
<circle cx="225.1" cy="23.3" r="1.4" fill="#929292"/>
<circle cx="224.8" cy="23.7" r="1.4" fill="#929292"/>
<circle cx="228.8" cy="21.2" r="1.4" fill="#929292"/>
<circle cx="226.3" cy="23.1" r="1.4" fill="#919191"/>
<circle cx="224.5" cy="24.4" r="1.4" fill="#919191"/>
<circle cx="225.1" cy="24.0" r="1.4" fill="#919191"/>
<circle cx="229.9" cy="20.9" r="1.4" fill="#919191"/>
<circle cx="228.4" cy="22.2" r="1.4" fill="#909090"/>
<circle cx="228.2" cy="22.7" r="1.4" fill="#909090"/>
<circle cx="230.5" cy="21.8" r="1.4" fill="#8f8f8f"/>
<circle cx="226.4" cy="24.5" r="1.4" fill="#8f8f8f"/>
<circle cx="230.6" cy="21.7" r="1.4" fill="#8e8e8e"/>
<circle cx="230.2" cy="22.1" r="1.4" fill="#8e8e8e"/>
<circle cx="227.4" cy="24.5" r="1.4" fill="#8d8d8d"/>
<circle cx="225.8" cy="26.2" r="1.4" fill="#8c8c8c"/>
<circle cx="225.9" cy="26.2" r="1.4" fill="#8c8c8c"/>
<circle cx="228.3" cy="24.6" r="1.4" fill="#8c8c8c"/>
<circle cx="224.8" cy="27.6" r="1.4" fill="#8b8b8b"/>
<circle cx="229.9" cy="24.3" r="1.4" fill="#8b8b8b"/>
<circle cx="227.9" cy="26.0" r="1.4" fill="#8a8a8a"/>
<circle cx="232.3" cy="23.2" r="1.4" fill="#8a8a8a"/>
<circle cx="229.0" cy="25.6" r="1.4" fill="#898989"/>
<circle cx="232.0" cy="23.6" r="1.4" fill="#898989"/>
<circle cx="228.4" cy="26.1" r="1.4" fill="#898989"/>
<circle cx="230.3" cy="24.9" r="1.4" fill="#898989"/>
<circle cx="225.3" cy="28.5" r="1.4" fill="#898989"/>
<circle cx="232.5" cy="23.9" r="1.4" fill="#888888"/>
<circle cx="232.0" cy="24.2" r="1.4" fill="#888888"/>
<circle cx="229.9" cy="25.8" r="1.4" fill="#888888"/>
<circle cx="231.5" cy="25.3" r="1.4" fill="#878787"/>
<circle cx="229.7" cy="26.5" r="1.4" fill="#878787"/>
<circle cx="232.9" cy="25.1" r="1.4" fill="#858585"/>
<circle cx="227.3" cy="28.8" r="1.4" fill="#858585"/>
<circle cx="226.8" cy="29.2" r="1.4" fill="#858585"/>
<circle cx="229.0" cy="28.0" r="1.4" fill="#858585"/>
<circle cx="227.0" cy="29.4" r="1.4" fill="#858585"/>
<circle cx="230.1" cy="27.6" r="1.4" fill="#848484"/>
<circle cx="227.2" cy="29.5" r="1.4" fill="#848484"/>
<circle cx="228.5" cy="29.2" r="1.4" fill="#838383"/>
<circle cx="228.1" cy="29.4" r="1.4" fill="#838383"/>
<circle cx="230.7" cy="28.0" r="1.4" fill="#838383"/>
<circle cx="229.3" cy="29.0" r="1.4" fill="#838383"/>
<circle cx="227.6" cy="30.5" r="1.4" fill="#828282"/>
<circle cx="233.1" cy="26.9" r="1.4" fill="#828282"/>
<circle cx="232.3" cy="27.5" r="1.4" fill="#828282"/>
<circle cx="228.2" cy="30.2" r="1.4" fill="#828282"/>
<circle cx="233.6" cy="26.8" r="1.4" fill="#818181"/>
<circle cx="228.2" cy="30.4" r="1.4" fill="#818181"/>
<circle cx="232.8" cy="27.6" r="1.4" fill="#818181"/>
<circle cx="228.8" cy="30.4" r="1.4" fill="#818181"/>
<circle cx="232.9" cy="28.0" r="1.4" fill="#808080"/>
<circle cx="232.4" cy="28.5" r="1.4" fill="#808080"/>
<circle cx="233.1" cy="28.1" r="1.4" fill="#7f7f7f"/>
<circle cx="231.1" cy="29.5" r="1.4" fill="#7f7f7f"/>
<circle cx="230.2" cy="30.2" r="1.4" fill="#7f7f7f"/>
<circle cx="232.3" cy="28.8" r="1.4" fill="#7f7f7f"/>
<circle cx="228.2" cy="31.7" r="1.4" fill="#7f7f7f"/>
<circle cx="232.7" cy="29.0" r="1.4" fill="#7e7e7e"/>
<circle cx="227.9" cy="32.3" r="1.4" fill="#7e7e7e"/>
<circle cx="229.1" cy="32.2" r="1.4" fill="#7d7d7d"/>
<circle cx="228.1" cy="33.3" r="1.4" fill="#7c7c7c"/>
<circle cx="233.8" cy="29.7" r="1.4" fill="#7c7c7c"/>
<circle cx="232.0" cy="31.1" r="1.4" fill="#7b7b7b"/>
<circle cx="233.8" cy="29.9" r="1.4" fill="#7b7b7b"/>
<circle cx="230.8" cy="32.1" r="1.4" fill="#7b7b7b"/>
<circle cx="232.9" cy="31.0" r="1.4" fill="#7a7a7a"/>
<circle cx="232.0" cy="31.8" r="1.4" fill="#7a7a7a"/>
<circle cx="232.5" cy="32.1" r="1.4" fill="#797979"/>
<circle cx="230.5" cy="33.8" r="1.4" fill="#787878"/>
<circle cx="232.1" cy="33.0" r="1.4" fill="#777777"/>
<circle cx="230.7" cy="34.0" r="1.4" fill="#777777"/>
<circle cx="233.8" cy="32.2" r="1.4" fill="#777777"/>
<circle cx="232.2" cy="33.3" r="1.4" fill="#777777"/>
<circle cx="234.4" cy="32.8" r="1.4" fill="#757575"/>
<circle cx="232.4" cy="34.2" r="1.4" fill="#757575"/>
<circle cx="233.2" cy="33.8" r="1.4" fill="#757575"/>
<circle cx="230.6" cy="35.7" r="1.4" fill="#747474"/>
<circle cx="233.4" cy="33.9" r="1.4" fill="#747474"/>
<circle cx="233.3" cy="36.4" r="1.4" fill="#707070"/>
<circle cx="233.1" cy="37.2" r="1.4" fill="#6e6e6e"/>
<circle cx="235.5" cy="35.6" r="1.4" fill="#6e6e6e"/>
<circle cx="233.5" cy="37.6" r="1.4" fill="#6d6d6d"/>
<circle cx="235.6" cy="36.6" r="1.4" fill="#6c6c6c"/>
<circle cx="233.6" cy="38.1" r="1.4" fill="#6c6c6c"/>
<circle cx="232.1" cy="39.2" r="1.4" fill="#6c6c6c"/>
<circle cx="233.7" cy="38.5" r="1.4" fill="#6b6b6b"/>
<circle cx="232.2" cy="40.1" r="1.4" fill="#6a6a6a"/>
<circle cx="231.4" cy="40.8" r="1.4" fill="#6a6a6a"/>
<circle cx="231.0" cy="41.1" r="1.4" fill="#6a6a6a"/>
<circle cx="235.7" cy="38.2" r="1.4" fill="#696969"/>
<circle cx="231.8" cy="41.0" r="1.4" fill="#696969"/>
<circle cx="230.9" cy="41.6" r="1.4" fill="#696969"/>
<circle cx="232.5" cy="40.8" r="1.4" fill="#686868"/>
<circle cx="233.7" cy="40.5" r="1.4" fill="#686868"/>
<circle cx="236.6" cy="38.9" r="1.4" fill="#676767"/>
<circle cx="231.3" cy="42.5" r="1.4" fill="#676767"/>
<circle cx="236.7" cy="39.0" r="1.4" fill="#676767"/>
<circle cx="232.5" cy="42.2" r="1.4" fill="#666666"/>
<circle cx="234.3" cy="41.1" r="1.4" fill="#666666"/>
<circle cx="232.0" cy="42.6" r="1.4" fill="#666666"/>
<circle cx="236.4" cy="39.8" r="1.4" fill="#656565"/>
<circle cx="235.7" cy="40.5" r="1.4" fill="#656565"/>
<circle cx="232.4" cy="42.7" r="1.4" fill="#656565"/>
<circle cx="235.8" cy="40.4" r="1.4" fill="#656565"/>
<circle cx="236.3" cy="40.4" r="1.4" fill="#656565"/>
<circle cx="236.9" cy="40.0" r="1.4" fill="#646464"/>
<circle cx="233.8" cy="42.1" r="1.4" fill="#646464"/>
<circle cx="234.4" cy="41.9" r="1.4" fill="#646464"/>
<circle cx="234.4" cy="42.1" r="1.4" fill="#636363"/>
<circle cx="231.9" cy="43.9" r="1.4" fill="#636363"/>
<circle cx="236.5" cy="40.9" r="1.4" fill="#636363"/>
<circle cx="235.8" cy="41.4" r="1.4" fill="#636363"/>
<circle cx="236.3" cy="41.1" r="1.4" fill="#636363"/>
<circle cx="234.0" cy="42.8" r="1.4" fill="#636363"/>
<circle cx="232.0" cy="44.4" r="1.4" fill="#626262"/>
<circle cx="232.4" cy="44.6" r="1.4" fill="#616161"/>
<circle cx="234.8" cy="43.2" r="1.4" fill="#616161"/>
<circle cx="234.3" cy="43.6" r="1.4" fill="#616161"/>
<circle cx="236.0" cy="42.4" r="1.4" fill="#616161"/>
<circle cx="235.9" cy="42.9" r="1.4" fill="#606060"/>
<circle cx="231.6" cy="45.8" r="1.4" fill="#606060"/>
<circle cx="231.9" cy="46.1" r="1.4" fill="#5f5f5f"/>
<circle cx="235.2" cy="44.0" r="1.4" fill="#5f5f5f"/>
<circle cx="231.8" cy="46.6" r="1.4" fill="#5e5e5e"/>
<circle cx="233.7" cy="45.3" r="1.4" fill="#5e5e5e"/>
<circle cx="237.4" cy="43.6" r="1.4" fill="#5d5d5d"/>
<circle cx="231.7" cy="47.8" r="1.4" fill="#5c5c5c"/>
<circle cx="234.9" cy="45.8" r="1.4" fill="#5c5c5c"/>
<circle cx="235.4" cy="45.5" r="1.4" fill="#5c5c5c"/>
<circle cx="231.3" cy="48.3" r="1.4" fill="#5c5c5c"/>
<circle cx="231.2" cy="48.5" r="1.4" fill="#5c5c5c"/>
<circle cx="234.8" cy="46.4" r="1.4" fill="#5b5b5b"/>
<circle cx="234.9" cy="46.4" r="1.4" fill="#5b5b5b"/>
<circle cx="235.4" cy="46.1" r="1.4" fill="#5b5b5b"/>
<circle cx="235.6" cy="46.0" r="1.4" fill="#5b5b5b"/>
<circle cx="233.4" cy="47.6" r="1.4" fill="#5a5a5a"/>
<circle cx="233.3" cy="47.8" r="1.4" fill="#5a5a5a"/>
<circle cx="236.5" cy="45.7" r="1.4" fill="#5a5a5a"/>
<circle cx="236.9" cy="45.7" r="1.4" fill="#5a5a5a"/>
<circle cx="232.8" cy="48.6" r="1.4" fill="#595959"/>
<circle cx="235.4" cy="46.9" r="1.4" fill="#595959"/>
<circle cx="231.3" cy="49.7" r="1.4" fill="#595959"/>
<circle cx="234.5" cy="47.7" r="1.4" fill="#595959"/>
<circle cx="236.7" cy="46.6" r="1.4" fill="#585858"/>
<circle cx="232.7" cy="49.6" r="1.4" fill="#585858"/>
<circle cx="234.9" cy="48.5" r="1.4" fill="#575757"/>
<circle cx="235.5" cy="48.4" r="1.4" fill="#565656"/>
<circle cx="236.1" cy="48.2" r="1.4" fill="#565656"/>
<circle cx="235.6" cy="48.9" r="1.4" fill="#555555"/>
<circle cx="237.1" cy="48.3" r="1.4" fill="#555555"/>
<circle cx="236.2" cy="49.0" r="1.4" fill="#545454"/>
<circle cx="232.3" cy="51.8" r="1.4" fill="#545454"/>
<circle cx="231.9" cy="52.1" r="1.4" fill="#545454"/>
<circle cx="235.2" cy="50.0" r="1.4" fill="#545454"/>
<circle cx="231.5" cy="52.6" r="1.4" fill="#535353"/>
<circle cx="234.9" cy="50.4" r="1.4" fill="#535353"/>
<circle cx="234.0" cy="51.8" r="1.4" fill="#525252"/>
<circle cx="232.7" cy="52.6" r="1.4" fill="#525252"/>
<circle cx="233.7" cy="52.0" r="1.4" fill="#525252"/>
<circle cx="232.9" cy="53.0" r="1.4" fill="#515151"/>
<circle cx="233.9" cy="52.5" r="1.4" fill="#515151"/>
<circle cx="232.0" cy="53.8" r="1.4" fill="#515151"/>
<circle cx="231.8" cy="54.5" r="1.4" fill="#4f4f4f"/>
<circle cx="232.4" cy="54.3" r="1.4" fill="#4f4f4f"/>
<circle cx="231.2" cy="55.1" r="1.4" fill="#4f4f4f"/>
<circle cx="235.3" cy="52.4" r="1.4" fill="#4f4f4f"/>
<circle cx="231.6" cy="54.9" r="1.4" fill="#4f4f4f"/>
<circle cx="231.0" cy="56.1" r="1.4" fill="#4e4e4e"/>
<circle cx="232.8" cy="54.9" r="1.4" fill="#4e4e4e"/>
<circle cx="232.6" cy="55.2" r="1.4" fill="#4d4d4d"/>
<circle cx="233.7" cy="54.8" r="1.4" fill="#4d4d4d"/>
<circle cx="234.8" cy="54.2" r="1.4" fill="#4c4c4c"/>
<circle cx="231.5" cy="56.5" r="1.4" fill="#4c4c4c"/>
<circle cx="230.9" cy="57.1" r="1.4" fill="#4c4c4c"/>
<circle cx="235.7" cy="54.3" r="1.4" fill="#4b4b4b"/>
<circle cx="233.7" cy="55.8" r="1.4" fill="#4b4b4b"/>
<circle cx="234.8" cy="55.2" r="1.4" fill="#4b4b4b"/>
<circle cx="234.9" cy="55.3" r="1.4" fill="#4a4a4a"/>
<circle cx="235.8" cy="57.1" r="1.4" fill="#4a4a4a"/>
<circle cx="233.8" cy="57.1" r="1.4" fill="#4a4a4a"/>
<circle cx="234.6" cy="56.4" r="1.4" fill="#4a4a4a"/>
<circle cx="234.7" cy="55.6" r="1.4" fill="#4a4a4a"/>
<circle cx="236.4" cy="55.7" r="1.4" fill="#4a4a4a"/>
<circle cx="235.9" cy="57.1" r="1.4" fill="#4a4a4a"/>
<circle cx="234.0" cy="56.1" r="1.4" fill="#4a4a4a"/>
<circle cx="233.2" cy="56.3" r="1.4" fill="#3c3c3c"/>
<circle cx="232.4" cy="57.7" r="1.4" fill="#3b3b3b"/>
<circle cx="232.7" cy="57.8" r="1.4" fill="#3b3b3b"/>
<circle cx="232.8" cy="58.2" r="1.4" fill="#3b3b3b"/>
<circle cx="232.4" cy="58.6" r="1.4" fill="#3b3b3b"/>
<circle cx="234.3" cy="57.6" r="1.4" fill="#3b3b3b"/>
<circle cx="235.5" cy="57.1" r="1.4" fill="#3b3b3b"/>
<circle cx="232.1" cy="59.1" r="1.4" fill="#3b3b3b"/>
<circle cx="237.5" cy="57.3" r="1.4" fill="#3a3a3a"/>
<circle cx="237.7" cy="57.4" r="1.4" fill="#3a3a3a"/>
<circle cx="235.7" cy="59.7" r="1.4" fill="#3a3a3a"/>
<circle cx="238.4" cy="59.0" r="1.4" fill="#3a3a3a"/>
<circle cx="237.2" cy="60.5" r="1.4" fill="#393939"/>
<circle cx="238.1" cy="60.2" r="1.4" fill="#393939"/>
<circle cx="235.1" cy="61.8" r="1.4" fill="#393939"/>
<circle cx="238.9" cy="60.0" r="1.4" fill="#393939"/>
<circle cx="239.4" cy="59.8" r="1.4" fill="#393939"/>
<circle cx="239.8" cy="59.6" r="1.4" fill="#393939"/>
<circle cx="235.7" cy="61.9" r="1.4" fill="#393939"/>
<circle cx="238.6" cy="60.8" r="1.4" fill="#393939"/>
<circle cx="233.2" cy="65.1" r="1.4" fill="#383838"/>
<circle cx="234.4" cy="64.6" r="1.4" fill="#383838"/>
<circle cx="238.8" cy="62.3" r="1.4" fill="#383838"/>
<circle cx="237.3" cy="63.2" r="1.4" fill="#383838"/>
<circle cx="235.5" cy="64.3" r="1.4" fill="#383838"/>
<circle cx="237.2" cy="64.1" r="1.4" fill="#383838"/>
<circle cx="237.1" cy="64.1" r="1.4" fill="#383838"/>
<circle cx="236.3" cy="64.8" r="1.4" fill="#383838"/>
<circle cx="241.3" cy="62.1" r="1.4" fill="#383838"/>
<circle cx="237.8" cy="64.5" r="1.4" fill="#383838"/>
<circle cx="233.8" cy="68.0" r="1.4" fill="#373737"/>
<circle cx="239.2" cy="65.8" r="1.4" fill="#373737"/>
<circle cx="234.1" cy="68.9" r="1.4" fill="#373737"/>
<circle cx="240.6" cy="65.9" r="1.4" fill="#373737"/>
<circle cx="240.3" cy="66.4" r="1.4" fill="#373737"/>
<circle cx="237.2" cy="68.5" r="1.4" fill="#363636"/>
<circle cx="237.6" cy="68.4" r="1.4" fill="#363636"/>
<circle cx="240.0" cy="67.5" r="1.4" fill="#363636"/>
<circle cx="239.9" cy="67.6" r="1.4" fill="#363636"/>
<circle cx="240.6" cy="67.2" r="1.4" fill="#363636"/>
<circle cx="241.7" cy="67.5" r="1.4" fill="#363636"/>
<circle cx="242.2" cy="67.6" r="1.4" fill="#363636"/>
<circle cx="240.0" cy="68.9" r="1.4" fill="#363636"/>
<circle cx="241.8" cy="68.6" r="1.4" fill="#353535"/>
<circle cx="234.9" cy="72.3" r="1.4" fill="#353535"/>
<circle cx="236.0" cy="72.0" r="1.4" fill="#353535"/>
<circle cx="240.9" cy="69.5" r="1.4" fill="#353535"/>
<circle cx="238.7" cy="71.3" r="1.4" fill="#353535"/>
<circle cx="235.1" cy="73.4" r="1.4" fill="#353535"/>
<circle cx="236.1" cy="72.9" r="1.4" fill="#353535"/>
<circle cx="241.0" cy="71.9" r="1.4" fill="#343434"/>
<circle cx="241.1" cy="72.0" r="1.4" fill="#343434"/>
<circle cx="239.6" cy="72.8" r="1.4" fill="#343434"/>
<circle cx="240.8" cy="74.6" r="1.4" fill="#333333"/>
<circle cx="241.0" cy="74.7" r="1.4" fill="#333333"/>
<circle cx="233.9" cy="68.9" r="1.4" fill="#262626"/>
<circle cx="234.1" cy="69.4" r="1.4" fill="#262626"/>
<circle cx="234.0" cy="76.2" r="1.4" fill="#262626"/>
<circle cx="234.4" cy="72.2" r="1.4" fill="#252525"/>
<circle cx="234.7" cy="70.8" r="1.4" fill="#252525"/>
<circle cx="235.2" cy="71.7" r="1.4" fill="#252525"/>
<circle cx="235.5" cy="75.8" r="1.4" fill="#252525"/>
<circle cx="235.9" cy="73.2" r="1.4" fill="#252525"/>
<circle cx="236.4" cy="70.6" r="1.4" fill="#252525"/>
<circle cx="236.3" cy="75.0" r="1.4" fill="#252525"/>
<circle cx="236.5" cy="72.2" r="1.4" fill="#252525"/>
<circle cx="236.5" cy="76.0" r="1.4" fill="#252525"/>
<circle cx="236.7" cy="75.8" r="1.4" fill="#242424"/>
<circle cx="236.8" cy="74.6" r="1.4" fill="#242424"/>
<circle cx="237.1" cy="73.9" r="1.4" fill="#242424"/>
<circle cx="237.4" cy="73.7" r="1.4" fill="#242424"/>
<circle cx="237.6" cy="72.2" r="1.4" fill="#242424"/>
<circle cx="237.8" cy="69.0" r="1.4" fill="#242424"/>
<circle cx="237.7" cy="75.1" r="1.4" fill="#242424"/>
<circle cx="237.9" cy="70.9" r="1.4" fill="#242424"/>
<circle cx="238.7" cy="75.1" r="1.4" fill="#242424"/>
<circle cx="238.9" cy="75.9" r="1.4" fill="#242424"/>
<circle cx="239.2" cy="68.7" r="1.4" fill="#242424"/>
<circle cx="239.1" cy="74.0" r="1.4" fill="#242424"/>
<circle cx="239.3" cy="73.7" r="1.4" fill="#242424"/>
<circle cx="239.6" cy="69.8" r="1.4" fill="#232323"/>
<circle cx="239.4" cy="75.5" r="1.4" fill="#232323"/>
<circle cx="239.7" cy="71.4" r="1.4" fill="#232323"/>
<circle cx="239.7" cy="73.9" r="1.4" fill="#232323"/>
<circle cx="239.8" cy="73.6" r="1.4" fill="#232323"/>
<circle cx="240.2" cy="70.6" r="1.4" fill="#232323"/>
<circle cx="240.2" cy="72.6" r="1.4" fill="#232323"/>
<circle cx="240.7" cy="69.6" r="1.4" fill="#232323"/>
<circle cx="240.9" cy="68.9" r="1.4" fill="#232323"/>
<circle cx="241.7" cy="74.4" r="1.4" fill="#232323"/>
<circle cx="241.9" cy="72.0" r="1.4" fill="#232323"/>
<circle cx="242.6" cy="69.5" r="1.4" fill="#222222"/>
<circle cx="242.7" cy="71.8" r="1.4" fill="#222222"/>
<circle cx="242.7" cy="72.6" r="1.4" fill="#222222"/>
<circle cx="242.8" cy="76.3" r="1.4" fill="#222222"/>
<circle cx="243.6" cy="68.6" r="1.4" fill="#222222"/>
<circle cx="243.7" cy="71.7" r="1.4" fill="#222222"/>
<circle cx="244.3" cy="73.5" r="1.4" fill="#222222"/>
<circle cx="244.5" cy="74.6" r="1.4" fill="#222222"/>
<circle cx="244.7" cy="73.4" r="1.4" fill="#212121"/>
<circle cx="245.1" cy="71.5" r="1.4" fill="#212121"/>
<circle cx="245.1" cy="75.1" r="1.4" fill="#212121"/>
<circle cx="245.4" cy="72.5" r="1.4" fill="#212121"/>
<circle cx="245.6" cy="76.1" r="1.4" fill="#212121"/>
<circle cx="245.7" cy="76.2" r="1.4" fill="#212121"/>
<circle cx="246.9" cy="70.7" r="1.4" fill="#212121"/>
<circle cx="246.9" cy="73.4" r="1.4" fill="#212121"/>
<circle cx="248.0" cy="71.6" r="1.4" fill="#202020"/>
<circle cx="249.7" cy="74.8" r="1.4" fill="#1f1f1f"/>
<circle cx="249.9" cy="69.4" r="1.4" fill="#1f1f1f"/>
<circle cx="250.1" cy="71.8" r="1.4" fill="#1f1f1f"/>
<circle cx="250.4" cy="70.5" r="1.4" fill="#1f1f1f"/>
<circle cx="251.2" cy="69.2" r="1.4" fill="#1f1f1f"/>
<circle cx="251.6" cy="69.2" r="1.4" fill="#1f1f1f"/>
<circle cx="251.4" cy="74.8" r="1.4" fill="#1f1f1f"/>
<circle cx="251.6" cy="72.4" r="1.4" fill="#1f1f1f"/>
<circle cx="251.9" cy="70.6" r="1.4" fill="#1f1f1f"/>
<circle cx="252.0" cy="72.2" r="1.4" fill="#1f1f1f"/>
<circle cx="252.4" cy="72.5" r="1.4" fill="#1e1e1e"/>
<circle cx="252.8" cy="71.8" r="1.4" fill="#1e1e1e"/>
<circle cx="253.2" cy="69.8" r="1.4" fill="#1e1e1e"/>
<circle cx="253.3" cy="69.8" r="1.4" fill="#1e1e1e"/>
<circle cx="253.2" cy="75.6" r="1.4" fill="#1e1e1e"/>
<circle cx="254.1" cy="73.0" r="1.4" fill="#1e1e1e"/>
<circle cx="255.2" cy="70.2" r="1.4" fill="#1d1d1d"/>
<circle cx="256.3" cy="73.2" r="1.4" fill="#1d1d1d"/>
<circle cx="256.7" cy="69.3" r="1.4" fill="#1d1d1d"/>
<circle cx="256.4" cy="76.0" r="1.4" fill="#1d1d1d"/>
<circle cx="256.6" cy="76.7" r="1.4" fill="#1d1d1d"/>
<circle cx="256.9" cy="74.0" r="1.4" fill="#1d1d1d"/>
<circle cx="257.0" cy="72.4" r="1.4" fill="#1d1d1d"/>
<circle cx="257.3" cy="69.0" r="1.4" fill="#1d1d1d"/>
<circle cx="257.4" cy="69.7" r="1.4" fill="#1d1d1d"/>
<circle cx="257.6" cy="76.0" r="1.4" fill="#1c1c1c"/>
<circle cx="258.5" cy="76.7" r="1.4" fill="#1c1c1c"/>
<circle cx="259.2" cy="70.3" r="1.4" fill="#1c1c1c"/>
<circle cx="259.2" cy="74.7" r="1.4" fill="#1c1c1c"/>
<circle cx="259.7" cy="75.6" r="1.4" fill="#1c1c1c"/>
<circle cx="259.8" cy="76.1" r="1.4" fill="#1c1c1c"/>
<circle cx="260.0" cy="74.4" r="1.4" fill="#1b1b1b"/>
<circle cx="260.4" cy="76.0" r="1.4" fill="#1b1b1b"/>
<circle cx="261.5" cy="72.1" r="1.4" fill="#1b1b1b"/>
<circle cx="261.8" cy="70.4" r="1.4" fill="#1b1b1b"/>
<circle cx="261.7" cy="76.5" r="1.4" fill="#1b1b1b"/>
<circle cx="261.9" cy="77.1" r="1.4" fill="#1b1b1b"/>
<circle cx="262.4" cy="71.7" r="1.4" fill="#1b1b1b"/>
<circle cx="262.6" cy="75.2" r="1.4" fill="#1a1a1a"/>
<circle cx="263.0" cy="70.7" r="1.4" fill="#1a1a1a"/>
<circle cx="263.4" cy="76.7" r="1.4" fill="#1a1a1a"/>
<circle cx="263.5" cy="77.0" r="1.4" fill="#1a1a1a"/>
<circle cx="263.8" cy="73.3" r="1.4" fill="#1a1a1a"/>
<circle cx="263.9" cy="71.7" r="1.4" fill="#1a1a1a"/>
<circle cx="263.9" cy="71.3" r="1.4" fill="#1a1a1a"/>
<circle cx="264.7" cy="70.9" r="1.4" fill="#1a1a1a"/>
<circle cx="264.9" cy="76.1" r="1.4" fill="#1a1a1a"/>
<circle cx="265.1" cy="71.1" r="1.4" fill="#1a1a1a"/>
<circle cx="265.9" cy="70.2" r="1.4" fill="#191919"/>
<circle cx="266.5" cy="73.5" r="1.4" fill="#191919"/>
<circle cx="267.1" cy="75.7" r="1.4" fill="#191919"/>
<circle cx="267.6" cy="73.0" r="1.4" fill="#191919"/>
<circle cx="267.6" cy="75.7" r="1.4" fill="#191919"/>
<circle cx="267.7" cy="74.0" r="1.4" fill="#181818"/>
<circle cx="268.6" cy="73.4" r="1.4" fill="#181818"/>
<circle cx="268.5" cy="76.3" r="1.4" fill="#181818"/>
<circle cx="269.2" cy="74.0" r="1.4" fill="#181818"/>
<circle cx="269.5" cy="73.5" r="1.4" fill="#181818"/>
<circle cx="269.6" cy="71.5" r="1.4" fill="#181818"/>
<circle cx="269.8" cy="74.4" r="1.4" fill="#181818"/>
<circle cx="269.9" cy="75.6" r="1.4" fill="#181818"/>
<circle cx="270.6" cy="71.2" r="1.4" fill="#171717"/>
<circle cx="270.5" cy="74.8" r="1.4" fill="#171717"/>
<circle cx="271.6" cy="71.8" r="1.4" fill="#171717"/>
<circle cx="271.6" cy="73.4" r="1.4" fill="#171717"/>
<circle cx="271.5" cy="77.4" r="1.4" fill="#171717"/>
<circle cx="271.9" cy="77.3" r="1.4" fill="#171717"/>
<circle cx="272.0" cy="74.1" r="1.4" fill="#171717"/>
<circle cx="272.1" cy="72.9" r="1.4" fill="#171717"/>
<circle cx="272.7" cy="75.5" r="1.4" fill="#171717"/>
<circle cx="272.9" cy="72.7" r="1.4" fill="#161616"/>
<circle cx="273.2" cy="73.9" r="1.4" fill="#161616"/>
<circle cx="273.2" cy="75.8" r="1.4" fill="#161616"/>
<circle cx="273.2" cy="75.7" r="1.4" fill="#161616"/>
<circle cx="273.7" cy="70.7" r="1.4" fill="#161616"/>
<circle cx="273.7" cy="75.5" r="1.4" fill="#161616"/>
<circle cx="273.9" cy="73.8" r="1.4" fill="#161616"/>
<circle cx="274.8" cy="72.2" r="1.4" fill="#161616"/>
<circle cx="275.0" cy="75.0" r="1.4" fill="#161616"/>
<circle cx="275.1" cy="76.8" r="1.4" fill="#161616"/>
<circle cx="275.7" cy="73.6" r="1.4" fill="#151515"/>
<circle cx="276.7" cy="73.8" r="1.4" fill="#151515"/>
<circle cx="277.0" cy="71.3" r="1.4" fill="#151515"/>
<circle cx="277.2" cy="72.0" r="1.4" fill="#151515"/>
<circle cx="277.3" cy="72.4" r="1.4" fill="#151515"/>
<circle cx="277.6" cy="71.9" r="1.4" fill="#151515"/>
<circle cx="277.5" cy="75.7" r="1.4" fill="#151515"/>
<circle cx="277.7" cy="72.1" r="1.4" fill="#151515"/>
<circle cx="277.6" cy="75.7" r="1.4" fill="#151515"/>
<circle cx="277.8" cy="76.1" r="1.4" fill="#151515"/>
<circle cx="278.1" cy="75.5" r="1.4" fill="#141414"/>
<circle cx="278.5" cy="70.7" r="1.4" fill="#141414"/>
<circle cx="279.2" cy="77.5" r="1.4" fill="#141414"/>
<circle cx="279.9" cy="76.6" r="1.4" fill="#141414"/>
<circle cx="280.0" cy="77.0" r="1.4" fill="#141414"/>
<circle cx="280.3" cy="72.8" r="1.4" fill="#141414"/>
<circle cx="280.2" cy="75.2" r="1.4" fill="#141414"/>
<circle cx="280.5" cy="77.6" r="1.4" fill="#131313"/>
<circle cx="280.8" cy="73.8" r="1.4" fill="#131313"/>
<circle cx="280.8" cy="76.1" r="1.4" fill="#131313"/>
<circle cx="281.1" cy="70.3" r="1.4" fill="#131313"/>
<circle cx="281.2" cy="71.0" r="1.4" fill="#131313"/>
<circle cx="281.2" cy="70.9" r="1.4" fill="#131313"/>
<circle cx="281.5" cy="74.0" r="1.4" fill="#131313"/>
<circle cx="281.8" cy="76.5" r="1.4" fill="#131313"/>
<circle cx="282.1" cy="76.6" r="1.4" fill="#131313"/>
<circle cx="282.7" cy="72.7" r="1.4" fill="#131313"/>
<circle cx="283.0" cy="73.4" r="1.4" fill="#131313"/>
<circle cx="283.1" cy="76.9" r="1.4" fill="#121212"/>
<circle cx="283.9" cy="75.0" r="1.4" fill="#121212"/>
<circle cx="284.5" cy="75.7" r="1.4" fill="#121212"/>
<circle cx="284.8" cy="72.1" r="1.4" fill="#121212"/>
<circle cx="285.1" cy="72.6" r="1.4" fill="#121212"/>
<circle cx="285.0" cy="74.8" r="1.4" fill="#121212"/>
<circle cx="285.6" cy="75.4" r="1.4" fill="#121212"/>
<circle cx="285.7" cy="72.9" r="1.4" fill="#121212"/>
<circle cx="285.8" cy="77.9" r="1.4" fill="#111111"/>
<circle cx="243.8" cy="64.5" r="1.4" fill="#111111"/>
<circle cx="248.7" cy="65.2" r="1.4" fill="#111111"/>
<circle cx="252.2" cy="67.3" r="1.4" fill="#111111"/>
<circle cx="261.3" cy="68.8" r="1.4" fill="#111111"/>
<circle cx="267.6" cy="70.9" r="1.4" fill="#111111"/>
<circle cx="282" cy="70.7" r="1.4" fill="#111111"/>
<circle cx="293.8" cy="73.1" r="1.4" fill="#111111"/>
<circle cx="289.4" cy="76.1" r="1.4" fill="#111111"/>
<circle cx="292.4" cy="76" r="1.4" fill="#111111"/>
<circle cx="298.7" cy="75.1" r="1.4" fill="#111111"/>
<circle cx="303.1" cy="77.1" r="1.4" fill="#111111"/>
<circle cx="312" cy="78.5" r="1.4" fill="#111111"/>
<circle cx="261.5" cy="83.9" r="1.4" fill="#111111"/>
<circle cx="265" cy="83.9" r="1.4" fill="#111111"/>
<circle cx="272.3" cy="83.9" r="1.4" fill="#111111"/>
<circle cx="276.2" cy="83.9" r="1.4" fill="#111111"/>
<circle cx="280.1" cy="83.9" r="1.4" fill="#111111"/>
<circle cx="285" cy="83.9" r="1.4" fill="#111111"/>
<circle cx="288.4" cy="83.9" r="1.4" fill="#111111"/>
<circle cx="293.8" cy="83.9" r="1.4" fill="#111111"/>
<circle cx="288.4" cy="81" r="1.4" fill="#111111"/>
<circle cx="295" cy="81" r="1.4" fill="#111111"/>
<circle cx="262" cy="83.5" r="1.4" fill="#111111"/>
<circle cx="272.5" cy="83.5" r="1.4" fill="#111111"/>
<line x1="250.5" y1="90" x2="250.5" y2="6" stroke="#111" stroke-width="0.75" stroke-dasharray="2,1.2"/>
</g>
<rect x="197" y="6" width="130" height="84" fill="none" stroke="#7a7a7a" stroke-width="0.7"/>
<line x1="214.30" y1="90" x2="214.30" y2="91.3" stroke="#7a7a7a" stroke-width="0.6"/>
<text x="214.30" y="96.1" font-size="5.3" text-anchor="middle" textLength="8.15" lengthAdjust="spacingAndGlyphs">0.06</text>
<line x1="234.08" y1="90" x2="234.08" y2="91.3" stroke="#7a7a7a" stroke-width="0.6"/>
<text x="234.08" y="96.1" font-size="5.3" text-anchor="middle" textLength="8.15" lengthAdjust="spacingAndGlyphs">0.08</text>
<line x1="253.86" y1="90" x2="253.86" y2="91.3" stroke="#7a7a7a" stroke-width="0.6"/>
<text x="253.86" y="96.1" font-size="5.3" text-anchor="middle" textLength="8.15" lengthAdjust="spacingAndGlyphs">0.10</text>
<line x1="273.64" y1="90" x2="273.64" y2="91.3" stroke="#7a7a7a" stroke-width="0.6"/>
<text x="273.64" y="96.1" font-size="5.3" text-anchor="middle" textLength="8.15" lengthAdjust="spacingAndGlyphs">0.12</text>
<line x1="293.42" y1="90" x2="293.42" y2="91.3" stroke="#7a7a7a" stroke-width="0.6"/>
<text x="293.42" y="96.1" font-size="5.3" text-anchor="middle" textLength="8.15" lengthAdjust="spacingAndGlyphs">0.14</text>
<line x1="313.20" y1="90" x2="313.20" y2="91.3" stroke="#7a7a7a" stroke-width="0.6"/>
<text x="313.20" y="96.1" font-size="5.3" text-anchor="middle" textLength="8.15" lengthAdjust="spacingAndGlyphs">0.16</text>
<line x1="195.7" y1="80.20" x2="197" y2="80.20" stroke="#7a7a7a" stroke-width="0.6"/>
<text x="194.3" y="81.90" font-size="5.3" text-anchor="end" textLength="5.82" lengthAdjust="spacingAndGlyphs">0.5</text>
<line x1="195.7" y1="65.64" x2="197" y2="65.64" stroke="#7a7a7a" stroke-width="0.6"/>
<text x="194.3" y="67.34" font-size="5.3" text-anchor="end" textLength="5.82" lengthAdjust="spacingAndGlyphs">0.6</text>
<line x1="195.7" y1="51.08" x2="197" y2="51.08" stroke="#7a7a7a" stroke-width="0.6"/>
<text x="194.3" y="52.78" font-size="5.3" text-anchor="end" textLength="5.82" lengthAdjust="spacingAndGlyphs">0.7</text>
<line x1="195.7" y1="36.52" x2="197" y2="36.52" stroke="#7a7a7a" stroke-width="0.6"/>
<text x="194.3" y="38.22" font-size="5.3" text-anchor="end" textLength="5.82" lengthAdjust="spacingAndGlyphs">0.8</text>
<line x1="195.7" y1="21.96" x2="197" y2="21.96" stroke="#7a7a7a" stroke-width="0.6"/>
<text x="194.3" y="23.66" font-size="5.3" text-anchor="end" textLength="5.82" lengthAdjust="spacingAndGlyphs">0.9</text>
<line x1="195.7" y1="7.40" x2="197" y2="7.40" stroke="#7a7a7a" stroke-width="0.6"/>
<text x="194.3" y="9.10" font-size="5.3" text-anchor="end" textLength="5.82" lengthAdjust="spacingAndGlyphs">1.0</text>
<text x="262.0" y="3.7" font-size="4.8" text-anchor="middle">EMNIST</text>
<text x="262.0" y="101.2" font-size="4.3" text-anchor="middle">A3 Loss</text>
<text x="0" y="0" font-size="4.3" text-anchor="middle" transform="translate(185.5,48.0) rotate(-90)">AUCs</text>
<g clip-path="url(#c2)">
<rect x="420.2" y="6" width="18.80000000000001" height="84" fill="#b3b3b3"/>
<circle cx="387.9" cy="12.6" r="1.4" fill="#bbbbbb"/>
<circle cx="388.7" cy="12.4" r="1.4" fill="#bababa"/>
<circle cx="389.8" cy="12.0" r="1.4" fill="#bababa"/>
<circle cx="388.1" cy="12.9" r="1.4" fill="#bababa"/>
<circle cx="390.5" cy="11.7" r="1.4" fill="#bababa"/>
<circle cx="393.2" cy="10.5" r="1.4" fill="#b9b9b9"/>
<circle cx="389.8" cy="12.4" r="1.4" fill="#b9b9b9"/>
<circle cx="391.6" cy="11.9" r="1.4" fill="#b8b8b8"/>
<circle cx="389.1" cy="14.3" r="1.4" fill="#b6b6b6"/>
<circle cx="388.8" cy="14.5" r="1.4" fill="#b6b6b6"/>
<circle cx="392.6" cy="12.6" r="1.4" fill="#b6b6b6"/>
<circle cx="394.1" cy="11.9" r="1.4" fill="#b5b5b5"/>
<circle cx="388.9" cy="14.9" r="1.4" fill="#b5b5b5"/>
<circle cx="389.2" cy="15.2" r="1.4" fill="#b4b4b4"/>
<circle cx="389.6" cy="15.1" r="1.4" fill="#b3b3b3"/>
<circle cx="387.3" cy="16.4" r="1.4" fill="#b3b3b3"/>
<circle cx="392.1" cy="14.1" r="1.4" fill="#b3b3b3"/>
<circle cx="392.2" cy="15.0" r="1.4" fill="#b1b1b1"/>
<circle cx="391.7" cy="15.3" r="1.4" fill="#b1b1b1"/>
<circle cx="395.1" cy="13.5" r="1.4" fill="#b1b1b1"/>
<circle cx="393.3" cy="14.9" r="1.4" fill="#b0b0b0"/>
<circle cx="392.6" cy="15.7" r="1.4" fill="#afafaf"/>
<circle cx="395.1" cy="14.5" r="1.4" fill="#aeaeae"/>
<circle cx="388.7" cy="18.0" r="1.4" fill="#aeaeae"/>
<circle cx="392.9" cy="15.9" r="1.4" fill="#aeaeae"/>
<circle cx="394.3" cy="15.5" r="1.4" fill="#adadad"/>
<circle cx="394.6" cy="15.3" r="1.4" fill="#adadad"/>
<circle cx="392.7" cy="16.4" r="1.4" fill="#adadad"/>
<circle cx="391.1" cy="17.6" r="1.4" fill="#acacac"/>
<circle cx="388.8" cy="19.0" r="1.4" fill="#acacac"/>
<circle cx="395.9" cy="15.4" r="1.4" fill="#acacac"/>
<circle cx="393.7" cy="17.0" r="1.4" fill="#ababab"/>
<circle cx="390.1" cy="19.1" r="1.4" fill="#aaaaaa"/>
<circle cx="395.1" cy="16.6" r="1.4" fill="#aaaaaa"/>
<circle cx="390.8" cy="19.0" r="1.4" fill="#aaaaaa"/>
<circle cx="393.6" cy="17.5" r="1.4" fill="#aaaaaa"/>
<circle cx="389.6" cy="19.6" r="1.4" fill="#aaaaaa"/>
<circle cx="389.5" cy="20.0" r="1.4" fill="#a9a9a9"/>
<circle cx="393.8" cy="18.3" r="1.4" fill="#a8a8a8"/>
<circle cx="392.5" cy="19.1" r="1.4" fill="#a8a8a8"/>
<circle cx="393.4" cy="18.7" r="1.4" fill="#a7a7a7"/>
<circle cx="394.8" cy="18.2" r="1.4" fill="#a7a7a7"/>
<circle cx="393.2" cy="19.3" r="1.4" fill="#a6a6a6"/>
<circle cx="392.4" cy="19.9" r="1.4" fill="#a6a6a6"/>
<circle cx="396.6" cy="18.1" r="1.4" fill="#a5a5a5"/>
<circle cx="390.3" cy="21.7" r="1.4" fill="#a5a5a5"/>
<circle cx="392.8" cy="20.4" r="1.4" fill="#a5a5a5"/>
<circle cx="398.0" cy="17.7" r="1.4" fill="#a4a4a4"/>
<circle cx="397.7" cy="18.1" r="1.4" fill="#a4a4a4"/>
<circle cx="395.7" cy="19.7" r="1.4" fill="#a3a3a3"/>
<circle cx="398.1" cy="18.7" r="1.4" fill="#a2a2a2"/>
<circle cx="395.7" cy="20.2" r="1.4" fill="#a2a2a2"/>
<circle cx="391.8" cy="22.2" r="1.4" fill="#a2a2a2"/>
<circle cx="391.5" cy="22.4" r="1.4" fill="#a2a2a2"/>
<circle cx="396.9" cy="19.6" r="1.4" fill="#a2a2a2"/>
<circle cx="398.3" cy="18.9" r="1.4" fill="#a2a2a2"/>
<circle cx="398.2" cy="19.0" r="1.4" fill="#a1a1a1"/>
<circle cx="391.7" cy="22.6" r="1.4" fill="#a1a1a1"/>
<circle cx="394.1" cy="21.5" r="1.4" fill="#a1a1a1"/>
<circle cx="394.8" cy="21.3" r="1.4" fill="#a0a0a0"/>
<circle cx="397.2" cy="20.3" r="1.4" fill="#a0a0a0"/>
<circle cx="393.1" cy="22.7" r="1.4" fill="#9f9f9f"/>
<circle cx="394.7" cy="21.8" r="1.4" fill="#9f9f9f"/>
<circle cx="399.8" cy="19.5" r="1.4" fill="#9e9e9e"/>
<circle cx="393.6" cy="22.9" r="1.4" fill="#9e9e9e"/>
<circle cx="393.7" cy="23.2" r="1.4" fill="#9e9e9e"/>
<circle cx="395.5" cy="23.2" r="1.4" fill="#9b9b9b"/>
<circle cx="397.7" cy="22.1" r="1.4" fill="#9b9b9b"/>
<circle cx="397.6" cy="22.1" r="1.4" fill="#9b9b9b"/>
<circle cx="397.7" cy="22.1" r="1.4" fill="#9b9b9b"/>
<circle cx="401.0" cy="20.6" r="1.4" fill="#9b9b9b"/>
<circle cx="396.0" cy="23.4" r="1.4" fill="#9a9a9a"/>
<circle cx="399.0" cy="22.5" r="1.4" fill="#999999"/>
<circle cx="396.3" cy="23.9" r="1.4" fill="#999999"/>
<circle cx="397.8" cy="23.1" r="1.4" fill="#999999"/>
<circle cx="396.3" cy="24.1" r="1.4" fill="#999999"/>
<circle cx="398.1" cy="23.3" r="1.4" fill="#989898"/>
<circle cx="402.0" cy="21.8" r="1.4" fill="#979797"/>
<circle cx="397.6" cy="24.7" r="1.4" fill="#969696"/>
<circle cx="401.8" cy="22.5" r="1.4" fill="#969696"/>
<circle cx="401.8" cy="22.8" r="1.4" fill="#959595"/>
<circle cx="397.2" cy="25.2" r="1.4" fill="#959595"/>
<circle cx="396.9" cy="25.4" r="1.4" fill="#959595"/>
<circle cx="399.8" cy="24.8" r="1.4" fill="#939393"/>
<circle cx="397.8" cy="26.0" r="1.4" fill="#939393"/>
<circle cx="398.2" cy="26.3" r="1.4" fill="#929292"/>
<circle cx="401.2" cy="25.7" r="1.4" fill="#909090"/>
<circle cx="402.2" cy="25.8" r="1.4" fill="#8e8e8e"/>
<circle cx="401.9" cy="26.5" r="1.4" fill="#8d8d8d"/>
<circle cx="398.8" cy="28.1" r="1.4" fill="#8d8d8d"/>
<circle cx="402.0" cy="27.0" r="1.4" fill="#8c8c8c"/>
<circle cx="402.4" cy="27.4" r="1.4" fill="#8b8b8b"/>
<circle cx="401.1" cy="28.6" r="1.4" fill="#8a8a8a"/>
<circle cx="400.4" cy="30.0" r="1.4" fill="#878787"/>
<circle cx="400.3" cy="30.3" r="1.4" fill="#878787"/>
<circle cx="402.0" cy="29.7" r="1.4" fill="#868686"/>
<circle cx="400.4" cy="30.6" r="1.4" fill="#868686"/>
<circle cx="401.6" cy="30.4" r="1.4" fill="#858585"/>
<circle cx="401.1" cy="30.9" r="1.4" fill="#858585"/>
<circle cx="402.4" cy="30.2" r="1.4" fill="#858585"/>
<circle cx="403.0" cy="30.5" r="1.4" fill="#838383"/>
<circle cx="405.8" cy="29.2" r="1.4" fill="#838383"/>
<circle cx="405.7" cy="29.4" r="1.4" fill="#838383"/>
<circle cx="403.9" cy="30.4" r="1.4" fill="#838383"/>
<circle cx="405.9" cy="29.7" r="1.4" fill="#828282"/>
<circle cx="406.3" cy="29.8" r="1.4" fill="#818181"/>
<circle cx="405.6" cy="30.2" r="1.4" fill="#818181"/>
<circle cx="403.5" cy="31.5" r="1.4" fill="#818181"/>
<circle cx="402.2" cy="32.4" r="1.4" fill="#808080"/>
<circle cx="401.9" cy="33.6" r="1.4" fill="#7e7e7e"/>
<circle cx="404.4" cy="32.3" r="1.4" fill="#7e7e7e"/>
<circle cx="406.4" cy="31.3" r="1.4" fill="#7e7e7e"/>
<circle cx="400.8" cy="34.4" r="1.4" fill="#7e7e7e"/>
<circle cx="401.7" cy="34.2" r="1.4" fill="#7d7d7d"/>
<circle cx="401.4" cy="34.5" r="1.4" fill="#7d7d7d"/>
<circle cx="408.0" cy="31.9" r="1.4" fill="#7b7b7b"/>
<circle cx="408.4" cy="31.9" r="1.4" fill="#7a7a7a"/>
<circle cx="406.9" cy="33.4" r="1.4" fill="#797979"/>
<circle cx="402.3" cy="37.2" r="1.4" fill="#767676"/>
<circle cx="403.1" cy="37.1" r="1.4" fill="#757575"/>
<circle cx="404.4" cy="36.7" r="1.4" fill="#757575"/>
<circle cx="403.9" cy="37.1" r="1.4" fill="#747474"/>
<circle cx="404.4" cy="37.5" r="1.4" fill="#737373"/>
<circle cx="404.9" cy="37.4" r="1.4" fill="#737373"/>
<circle cx="403.7" cy="38.1" r="1.4" fill="#727272"/>
<circle cx="404.0" cy="38.7" r="1.4" fill="#717171"/>
<circle cx="405.0" cy="38.1" r="1.4" fill="#717171"/>
<circle cx="408.8" cy="36.2" r="1.4" fill="#717171"/>
<circle cx="402.5" cy="39.7" r="1.4" fill="#707070"/>
<circle cx="408.2" cy="36.8" r="1.4" fill="#707070"/>
<circle cx="406.7" cy="37.7" r="1.4" fill="#707070"/>
<circle cx="401.1" cy="40.8" r="1.4" fill="#707070"/>
<circle cx="403.6" cy="39.8" r="1.4" fill="#6f6f6f"/>
<circle cx="406.4" cy="38.4" r="1.4" fill="#6f6f6f"/>
<circle cx="407.2" cy="38.2" r="1.4" fill="#6e6e6e"/>
<circle cx="402.8" cy="40.8" r="1.4" fill="#6e6e6e"/>
<circle cx="401.8" cy="41.4" r="1.4" fill="#6e6e6e"/>
<circle cx="403.8" cy="40.8" r="1.4" fill="#6c6c6c"/>
<circle cx="405.2" cy="40.1" r="1.4" fill="#6c6c6c"/>
<circle cx="403.5" cy="41.7" r="1.4" fill="#6b6b6b"/>
<circle cx="408.6" cy="39.0" r="1.4" fill="#6b6b6b"/>
<circle cx="408.1" cy="39.5" r="1.4" fill="#6a6a6a"/>
<circle cx="404.2" cy="41.6" r="1.4" fill="#6a6a6a"/>
<circle cx="406.5" cy="40.7" r="1.4" fill="#6a6a6a"/>
<circle cx="405.5" cy="41.3" r="1.4" fill="#696969"/>
<circle cx="404.4" cy="42.1" r="1.4" fill="#696969"/>
<circle cx="403.3" cy="42.8" r="1.4" fill="#696969"/>
<circle cx="409.7" cy="39.8" r="1.4" fill="#686868"/>
<circle cx="404.4" cy="42.7" r="1.4" fill="#686868"/>
<circle cx="409.4" cy="40.3" r="1.4" fill="#676767"/>
<circle cx="407.4" cy="41.4" r="1.4" fill="#676767"/>
<circle cx="402.6" cy="44.6" r="1.4" fill="#666666"/>
<circle cx="407.4" cy="42.2" r="1.4" fill="#656565"/>
<circle cx="405.3" cy="43.4" r="1.4" fill="#656565"/>
<circle cx="410.9" cy="40.6" r="1.4" fill="#656565"/>
<circle cx="409.8" cy="41.3" r="1.4" fill="#656565"/>
<circle cx="411.5" cy="40.5" r="1.4" fill="#646464"/>
<circle cx="404.8" cy="44.5" r="1.4" fill="#636363"/>
<circle cx="406.3" cy="43.7" r="1.4" fill="#636363"/>
<circle cx="406.6" cy="43.7" r="1.4" fill="#636363"/>
<circle cx="405.8" cy="44.5" r="1.4" fill="#626262"/>
<circle cx="406.7" cy="44.3" r="1.4" fill="#626262"/>
<circle cx="404.0" cy="45.9" r="1.4" fill="#616161"/>
<circle cx="404.6" cy="45.9" r="1.4" fill="#616161"/>
<circle cx="410.0" cy="43.4" r="1.4" fill="#606060"/>
<circle cx="409.5" cy="43.7" r="1.4" fill="#606060"/>
<circle cx="410.7" cy="43.3" r="1.4" fill="#606060"/>
<circle cx="409.1" cy="44.1" r="1.4" fill="#5f5f5f"/>
<circle cx="409.2" cy="44.1" r="1.4" fill="#5f5f5f"/>
<circle cx="405.9" cy="46.1" r="1.4" fill="#5f5f5f"/>
<circle cx="406.6" cy="46.1" r="1.4" fill="#5e5e5e"/>
<circle cx="408.4" cy="45.3" r="1.4" fill="#5e5e5e"/>
<circle cx="411.6" cy="43.8" r="1.4" fill="#5d5d5d"/>
<circle cx="406.7" cy="46.5" r="1.4" fill="#5d5d5d"/>
<circle cx="408.8" cy="45.6" r="1.4" fill="#5d5d5d"/>
<circle cx="406.0" cy="47.2" r="1.4" fill="#5c5c5c"/>
<circle cx="406.3" cy="47.1" r="1.4" fill="#5c5c5c"/>
<circle cx="411.0" cy="44.8" r="1.4" fill="#5c5c5c"/>
<circle cx="404.5" cy="48.6" r="1.4" fill="#5b5b5b"/>
<circle cx="407.0" cy="47.2" r="1.4" fill="#5b5b5b"/>
<circle cx="406.4" cy="47.6" r="1.4" fill="#5b5b5b"/>
<circle cx="407.9" cy="47.0" r="1.4" fill="#5b5b5b"/>
<circle cx="405.7" cy="48.2" r="1.4" fill="#5b5b5b"/>
<circle cx="407.5" cy="47.3" r="1.4" fill="#5a5a5a"/>
<circle cx="412.2" cy="45.3" r="1.4" fill="#5a5a5a"/>
<circle cx="405.6" cy="49.0" r="1.4" fill="#595959"/>
<circle cx="412.8" cy="45.1" r="1.4" fill="#595959"/>
<circle cx="412.6" cy="45.3" r="1.4" fill="#595959"/>
<circle cx="406.7" cy="48.5" r="1.4" fill="#595959"/>
<circle cx="409.4" cy="47.4" r="1.4" fill="#585858"/>
<circle cx="406.4" cy="49.3" r="1.4" fill="#575757"/>
<circle cx="406.2" cy="49.7" r="1.4" fill="#575757"/>
<circle cx="410.6" cy="47.8" r="1.4" fill="#565656"/>
<circle cx="409.3" cy="49.1" r="1.4" fill="#555555"/>
<circle cx="410.2" cy="48.7" r="1.4" fill="#545454"/>
<circle cx="412.2" cy="48.0" r="1.4" fill="#545454"/>
<circle cx="412.1" cy="48.6" r="1.4" fill="#535353"/>
<circle cx="410.1" cy="49.8" r="1.4" fill="#525252"/>
<circle cx="409.1" cy="50.3" r="1.4" fill="#525252"/>
<circle cx="409.4" cy="50.3" r="1.4" fill="#525252"/>
<circle cx="410.5" cy="49.9" r="1.4" fill="#525252"/>
<circle cx="406.8" cy="52.0" r="1.4" fill="#515151"/>
<circle cx="407.9" cy="51.9" r="1.4" fill="#505050"/>
<circle cx="408.5" cy="51.7" r="1.4" fill="#505050"/>
<circle cx="408.1" cy="53.5" r="1.4" fill="#4d4d4d"/>
<circle cx="409.2" cy="53.3" r="1.4" fill="#4c4c4c"/>
<circle cx="409.2" cy="54.0" r="1.4" fill="#4a4a4a"/>
<circle cx="412.9" cy="52.1" r="1.4" fill="#4a4a4a"/>
<circle cx="411.4" cy="53.0" r="1.4" fill="#4a4a4a"/>
<circle cx="408.8" cy="54.5" r="1.4" fill="#4a4a4a"/>
<circle cx="412.2" cy="53.4" r="1.4" fill="#484848"/>
<circle cx="413.6" cy="53.4" r="1.4" fill="#464646"/>
<circle cx="408.8" cy="56.8" r="1.4" fill="#454545"/>
<circle cx="413.4" cy="54.4" r="1.4" fill="#454545"/>
<circle cx="413.9" cy="54.3" r="1.4" fill="#444444"/>
<circle cx="413.0" cy="54.8" r="1.4" fill="#444444"/>
<circle cx="415.3" cy="53.7" r="1.4" fill="#444444"/>
<circle cx="414.6" cy="54.1" r="1.4" fill="#444444"/>
<circle cx="410.3" cy="56.5" r="1.4" fill="#444444"/>
<circle cx="409.2" cy="57.7" r="1.4" fill="#424242"/>
<circle cx="411.6" cy="56.6" r="1.4" fill="#424242"/>
<circle cx="411.4" cy="56.8" r="1.4" fill="#424242"/>
<circle cx="409.5" cy="57.9" r="1.4" fill="#424242"/>
<circle cx="414.1" cy="55.7" r="1.4" fill="#414141"/>
<circle cx="413.1" cy="56.3" r="1.4" fill="#414141"/>
<circle cx="413.2" cy="56.4" r="1.4" fill="#414141"/>
<circle cx="413.9" cy="56.1" r="1.4" fill="#414141"/>
<circle cx="412.3" cy="56.9" r="1.4" fill="#404040"/>
<circle cx="414.9" cy="55.7" r="1.4" fill="#404040"/>
<circle cx="412.1" cy="57.3" r="1.4" fill="#404040"/>
<circle cx="415.1" cy="55.7" r="1.4" fill="#404040"/>
<circle cx="410.6" cy="58.9" r="1.4" fill="#3e3e3e"/>
<circle cx="416.1" cy="56.1" r="1.4" fill="#3e3e3e"/>
<circle cx="416.6" cy="56.5" r="1.4" fill="#3c3c3c"/>
<circle cx="415.9" cy="57.0" r="1.4" fill="#3c3c3c"/>
<circle cx="413.8" cy="58.3" r="1.4" fill="#3c3c3c"/>
<circle cx="416.4" cy="57.2" r="1.4" fill="#3b3b3b"/>
<circle cx="414.7" cy="58.4" r="1.4" fill="#3b3b3b"/>
<circle cx="416.8" cy="57.3" r="1.4" fill="#3b3b3b"/>
<circle cx="414.3" cy="59.1" r="1.4" fill="#3a3a3a"/>
<circle cx="422.6" cy="66.7" r="1.4" fill="#383838"/>
<circle cx="413.2" cy="67.3" r="1.4" fill="#383838"/>
<circle cx="418.0" cy="62.5" r="1.4" fill="#383838"/>
<circle cx="416.3" cy="64.0" r="1.4" fill="#383838"/>
<circle cx="411.3" cy="64.3" r="1.4" fill="#383838"/>
<circle cx="416.2" cy="66.8" r="1.4" fill="#383838"/>
<circle cx="411.5" cy="63.3" r="1.4" fill="#383838"/>
<circle cx="414.0" cy="63.8" r="1.4" fill="#383838"/>
<circle cx="423.0" cy="67.8" r="1.4" fill="#383838"/>
<circle cx="414.7" cy="61.1" r="1.4" fill="#383838"/>
<circle cx="423.0" cy="66.5" r="1.4" fill="#383838"/>
<circle cx="420.0" cy="64.1" r="1.4" fill="#383838"/>
<circle cx="417.4" cy="58.5" r="1.4" fill="#383838"/>
<circle cx="418.5" cy="62.4" r="1.4" fill="#383838"/>
<circle cx="419.6" cy="65.4" r="1.4" fill="#383838"/>
<circle cx="422.3" cy="67.2" r="1.4" fill="#383838"/>
<circle cx="418.2" cy="61.0" r="1.4" fill="#383838"/>
<circle cx="416.5" cy="67.4" r="1.4" fill="#383838"/>
<circle cx="415.9" cy="65.1" r="1.4" fill="#383838"/>
<circle cx="413.7" cy="60.5" r="1.4" fill="#383838"/>
<circle cx="412.6" cy="65.9" r="1.4" fill="#383838"/>
<circle cx="413.5" cy="69.1" r="1.4" fill="#383838"/>
<circle cx="412.2" cy="65.5" r="1.4" fill="#383838"/>
<circle cx="418.6" cy="66.3" r="1.4" fill="#383838"/>
<circle cx="419.6" cy="69.2" r="1.4" fill="#383838"/>
<circle cx="417.1" cy="68.5" r="1.4" fill="#383838"/>
<circle cx="412.3" cy="63.9" r="1.4" fill="#383838"/>
<circle cx="423.8" cy="68.9" r="1.4" fill="#383838"/>
<circle cx="415.6" cy="59.5" r="1.4" fill="#383838"/>
<circle cx="416.8" cy="61.1" r="1.4" fill="#383838"/>
<circle cx="423.7" cy="67.3" r="1.4" fill="#383838"/>
<circle cx="416.0" cy="68.5" r="1.4" fill="#383838"/>
<circle cx="414.3" cy="61.4" r="1.4" fill="#383838"/>
<circle cx="416.3" cy="68.9" r="1.4" fill="#383838"/>
<circle cx="418.3" cy="61.2" r="1.4" fill="#383838"/>
<circle cx="419.0" cy="63.6" r="1.4" fill="#383838"/>
<circle cx="418.2" cy="64.2" r="1.4" fill="#383838"/>
<circle cx="411.8" cy="61.6" r="1.4" fill="#383838"/>
<circle cx="416.8" cy="65.8" r="1.4" fill="#383838"/>
<circle cx="412.5" cy="63.5" r="1.4" fill="#383838"/>
<circle cx="419.4" cy="66.8" r="1.4" fill="#383838"/>
<circle cx="417.7" cy="63.8" r="1.4" fill="#383838"/>
<circle cx="415.9" cy="63.5" r="1.4" fill="#383838"/>
<circle cx="417.1" cy="67.1" r="1.4" fill="#383838"/>
<circle cx="421.0" cy="68.4" r="1.4" fill="#383838"/>
<circle cx="418.6" cy="60.1" r="1.4" fill="#383838"/>
<circle cx="415.5" cy="61.2" r="1.4" fill="#383838"/>
<circle cx="421.6" cy="66.1" r="1.4" fill="#383838"/>
<circle cx="417.6" cy="64.7" r="1.4" fill="#383838"/>
<circle cx="414.2" cy="60.6" r="1.4" fill="#383838"/>
<circle cx="413.0" cy="63.1" r="1.4" fill="#383838"/>
<circle cx="417.8" cy="63.0" r="1.4" fill="#383838"/>
<circle cx="418.4" cy="64.2" r="1.4" fill="#383838"/>
<circle cx="418.2" cy="62.6" r="1.4" fill="#383838"/>
<circle cx="416.1" cy="61.6" r="1.4" fill="#383838"/>
<circle cx="416.7" cy="58.8" r="1.4" fill="#383838"/>
<circle cx="415.3" cy="68.8" r="1.4" fill="#383838"/>
<circle cx="418.4" cy="63.1" r="1.4" fill="#383838"/>
<circle cx="413.0" cy="60.9" r="1.4" fill="#383838"/>
<circle cx="410.7" cy="62.4" r="1.4" fill="#383838"/>
<circle cx="418.3" cy="66.9" r="1.4" fill="#383838"/>
<circle cx="412.5" cy="63.7" r="1.4" fill="#383838"/>
<circle cx="414.7" cy="65.5" r="1.4" fill="#383838"/>
<circle cx="417.1" cy="67.0" r="1.4" fill="#383838"/>
<circle cx="417.9" cy="61.4" r="1.4" fill="#383838"/>
<circle cx="414.6" cy="67.5" r="1.4" fill="#383838"/>
<circle cx="417.0" cy="67.9" r="1.4" fill="#383838"/>
<circle cx="414.5" cy="66.1" r="1.4" fill="#383838"/>
<circle cx="415.3" cy="66.2" r="1.4" fill="#383838"/>
<circle cx="415.5" cy="63.2" r="1.4" fill="#383838"/>
<circle cx="413.6" cy="72.5" r="1.4" fill="#252525"/>
<circle cx="414.1" cy="71.2" r="1.4" fill="#252525"/>
<circle cx="414.8" cy="72.0" r="1.4" fill="#252525"/>
<circle cx="414.8" cy="72.0" r="1.4" fill="#252525"/>
<circle cx="415.2" cy="74.1" r="1.4" fill="#242424"/>
<circle cx="415.4" cy="71.0" r="1.4" fill="#242424"/>
<circle cx="415.5" cy="73.6" r="1.4" fill="#242424"/>
<circle cx="416.1" cy="71.6" r="1.4" fill="#242424"/>
<circle cx="416.3" cy="72.8" r="1.4" fill="#242424"/>
<circle cx="416.7" cy="74.4" r="1.4" fill="#242424"/>
<circle cx="417.1" cy="71.2" r="1.4" fill="#232323"/>
<circle cx="417.7" cy="70.9" r="1.4" fill="#232323"/>
<circle cx="417.8" cy="72.1" r="1.4" fill="#232323"/>
<circle cx="418.1" cy="72.2" r="1.4" fill="#232323"/>
<circle cx="418.1" cy="74.0" r="1.4" fill="#232323"/>
<circle cx="418.3" cy="72.7" r="1.4" fill="#232323"/>
<circle cx="418.4" cy="72.9" r="1.4" fill="#232323"/>
<circle cx="418.5" cy="73.5" r="1.4" fill="#232323"/>
<circle cx="418.6" cy="73.2" r="1.4" fill="#232323"/>
<circle cx="418.7" cy="71.6" r="1.4" fill="#232323"/>
<circle cx="418.8" cy="71.8" r="1.4" fill="#232323"/>
<circle cx="419.0" cy="72.9" r="1.4" fill="#232323"/>
<circle cx="419.3" cy="71.7" r="1.4" fill="#222222"/>
<circle cx="419.8" cy="72.3" r="1.4" fill="#222222"/>
<circle cx="419.9" cy="72.3" r="1.4" fill="#222222"/>
<circle cx="420.4" cy="72.8" r="1.4" fill="#222222"/>
<circle cx="420.5" cy="73.4" r="1.4" fill="#222222"/>
<circle cx="420.9" cy="71.6" r="1.4" fill="#222222"/>
<circle cx="421.5" cy="70.6" r="1.4" fill="#212121"/>
<circle cx="422.5" cy="71.5" r="1.4" fill="#212121"/>
<circle cx="424.1" cy="74.1" r="1.4" fill="#202020"/>
<circle cx="424.3" cy="71.9" r="1.4" fill="#202020"/>
<circle cx="424.4" cy="72.6" r="1.4" fill="#202020"/>
<circle cx="424.4" cy="72.4" r="1.4" fill="#202020"/>
<circle cx="424.4" cy="74.5" r="1.4" fill="#202020"/>
<circle cx="425.0" cy="73.8" r="1.4" fill="#202020"/>
<circle cx="425.2" cy="74.3" r="1.4" fill="#1f1f1f"/>
<circle cx="425.3" cy="73.0" r="1.4" fill="#1f1f1f"/>
<circle cx="425.4" cy="73.5" r="1.4" fill="#1f1f1f"/>
<circle cx="425.5" cy="70.5" r="1.4" fill="#1f1f1f"/>
<circle cx="426.0" cy="72.2" r="1.4" fill="#1f1f1f"/>
<circle cx="426.1" cy="73.8" r="1.4" fill="#1f1f1f"/>
<circle cx="426.7" cy="74.1" r="1.4" fill="#1f1f1f"/>
<circle cx="426.8" cy="70.8" r="1.4" fill="#1f1f1f"/>
<circle cx="427.1" cy="71.4" r="1.4" fill="#1e1e1e"/>
<circle cx="427.2" cy="70.6" r="1.4" fill="#1e1e1e"/>
<circle cx="427.4" cy="73.9" r="1.4" fill="#1e1e1e"/>
<circle cx="427.6" cy="73.5" r="1.4" fill="#1e1e1e"/>
<circle cx="428.0" cy="72.5" r="1.4" fill="#1e1e1e"/>
<circle cx="428.6" cy="72.5" r="1.4" fill="#1e1e1e"/>
<circle cx="428.7" cy="73.5" r="1.4" fill="#1e1e1e"/>
<circle cx="429.1" cy="72.5" r="1.4" fill="#1d1d1d"/>
<circle cx="430.6" cy="73.1" r="1.4" fill="#1d1d1d"/>
<circle cx="430.7" cy="73.3" r="1.4" fill="#1d1d1d"/>
<circle cx="430.8" cy="73.4" r="1.4" fill="#1d1d1d"/>
<circle cx="431.7" cy="73.7" r="1.4" fill="#1c1c1c"/>
<circle cx="432.0" cy="71.3" r="1.4" fill="#1c1c1c"/>
<circle cx="432.1" cy="70.8" r="1.4" fill="#1c1c1c"/>
<circle cx="432.8" cy="71.0" r="1.4" fill="#1c1c1c"/>
<circle cx="432.9" cy="71.2" r="1.4" fill="#1c1c1c"/>
<circle cx="433.0" cy="72.3" r="1.4" fill="#1c1c1c"/>
<circle cx="433.4" cy="70.8" r="1.4" fill="#1b1b1b"/>
<circle cx="433.5" cy="73.8" r="1.4" fill="#1b1b1b"/>
<circle cx="433.6" cy="74.2" r="1.4" fill="#1b1b1b"/>
<circle cx="434.4" cy="73.8" r="1.4" fill="#1b1b1b"/>
<circle cx="434.5" cy="74.5" r="1.4" fill="#1b1b1b"/>
<circle cx="434.6" cy="74.8" r="1.4" fill="#1b1b1b"/>
<circle cx="434.7" cy="73.8" r="1.4" fill="#1b1b1b"/>
<circle cx="434.8" cy="74.5" r="1.4" fill="#1b1b1b"/>
<circle cx="435.4" cy="72.9" r="1.4" fill="#1a1a1a"/>
<circle cx="435.7" cy="74.3" r="1.4" fill="#1a1a1a"/>
<circle cx="436.5" cy="72.0" r="1.4" fill="#1a1a1a"/>
<circle cx="437.5" cy="71.7" r="1.4" fill="#191919"/>
<circle cx="437.8" cy="72.4" r="1.4" fill="#191919"/>
<circle cx="437.8" cy="73.6" r="1.4" fill="#191919"/>
<circle cx="438.0" cy="71.3" r="1.4" fill="#191919"/>
<circle cx="438.7" cy="74.5" r="1.4" fill="#191919"/>
<circle cx="440.2" cy="72.7" r="1.4" fill="#181818"/>
<circle cx="440.3" cy="74.0" r="1.4" fill="#181818"/>
<circle cx="440.6" cy="71.0" r="1.4" fill="#181818"/>
<circle cx="440.8" cy="73.7" r="1.4" fill="#181818"/>
<circle cx="441.3" cy="71.7" r="1.4" fill="#171717"/>
<circle cx="441.8" cy="71.9" r="1.4" fill="#171717"/>
<circle cx="441.8" cy="73.9" r="1.4" fill="#171717"/>
<circle cx="443.3" cy="72.4" r="1.4" fill="#161616"/>
<circle cx="443.3" cy="72.1" r="1.4" fill="#161616"/>
<circle cx="443.7" cy="72.5" r="1.4" fill="#161616"/>
<circle cx="443.7" cy="72.9" r="1.4" fill="#161616"/>
<circle cx="443.9" cy="71.8" r="1.4" fill="#161616"/>
<circle cx="444.5" cy="72.0" r="1.4" fill="#161616"/>
<circle cx="445.3" cy="72.4" r="1.4" fill="#151515"/>
<circle cx="445.8" cy="72.5" r="1.4" fill="#151515"/>
<circle cx="445.8" cy="73.9" r="1.4" fill="#151515"/>
<circle cx="445.8" cy="74.1" r="1.4" fill="#151515"/>
<circle cx="445.9" cy="74.1" r="1.4" fill="#151515"/>
<circle cx="446.1" cy="74.7" r="1.4" fill="#151515"/>
<circle cx="446.4" cy="71.6" r="1.4" fill="#151515"/>
<circle cx="446.7" cy="71.9" r="1.4" fill="#151515"/>
<circle cx="446.8" cy="72.5" r="1.4" fill="#151515"/>
<circle cx="447.2" cy="73.0" r="1.4" fill="#141414"/>
<circle cx="447.3" cy="72.9" r="1.4" fill="#141414"/>
<circle cx="447.4" cy="74.5" r="1.4" fill="#141414"/>
<circle cx="447.5" cy="71.9" r="1.4" fill="#141414"/>
<circle cx="447.6" cy="71.6" r="1.4" fill="#141414"/>
<circle cx="447.6" cy="71.9" r="1.4" fill="#141414"/>
<circle cx="447.9" cy="73.2" r="1.4" fill="#141414"/>
<circle cx="447.9" cy="73.5" r="1.4" fill="#141414"/>
<circle cx="448.0" cy="72.4" r="1.4" fill="#141414"/>
<circle cx="448.8" cy="72.9" r="1.4" fill="#141414"/>
<circle cx="449.3" cy="73.3" r="1.4" fill="#131313"/>
<circle cx="449.5" cy="74.1" r="1.4" fill="#131313"/>
<circle cx="449.5" cy="72.0" r="1.4" fill="#131313"/>
<circle cx="449.6" cy="74.3" r="1.4" fill="#131313"/>
<circle cx="450.0" cy="72.8" r="1.4" fill="#131313"/>
<circle cx="450.0" cy="72.1" r="1.4" fill="#131313"/>
<circle cx="450.6" cy="73.5" r="1.4" fill="#131313"/>
<circle cx="450.7" cy="74.0" r="1.4" fill="#131313"/>
<circle cx="450.7" cy="73.5" r="1.4" fill="#131313"/>
<circle cx="450.9" cy="73.0" r="1.4" fill="#131313"/>
<circle cx="451.0" cy="73.6" r="1.4" fill="#131313"/>
<circle cx="451.2" cy="73.2" r="1.4" fill="#121212"/>
<circle cx="451.5" cy="72.4" r="1.4" fill="#121212"/>
<circle cx="451.8" cy="75.3" r="1.4" fill="#121212"/>
<circle cx="451.8" cy="71.7" r="1.4" fill="#121212"/>
<circle cx="451.9" cy="72.9" r="1.4" fill="#121212"/>
<circle cx="452.4" cy="74.5" r="1.4" fill="#121212"/>
<circle cx="452.4" cy="75.6" r="1.4" fill="#121212"/>
<circle cx="452.7" cy="71.3" r="1.4" fill="#121212"/>
<circle cx="452.9" cy="74.6" r="1.4" fill="#121212"/>
<circle cx="453.2" cy="74.2" r="1.4" fill="#111111"/>
<circle cx="429.6" cy="81.2" r="1.4" fill="#111111"/>
<circle cx="430.6" cy="80.3" r="1.4" fill="#111111"/>
<circle cx="436.8" cy="83.1" r="1.4" fill="#111111"/>
<circle cx="437.8" cy="80.4" r="1.4" fill="#111111"/>
<circle cx="437.7" cy="82.1" r="1.4" fill="#111111"/>
<circle cx="438.4" cy="83.1" r="1.4" fill="#111111"/>
<circle cx="441.0" cy="80.8" r="1.4" fill="#111111"/>
<circle cx="441.6" cy="82.4" r="1.4" fill="#111111"/>
<circle cx="443.0" cy="82.1" r="1.4" fill="#111111"/>
<circle cx="444.5" cy="79.6" r="1.4" fill="#111111"/>
<circle cx="449.9" cy="80.2" r="1.4" fill="#111111"/>
<circle cx="449.8" cy="81.3" r="1.4" fill="#111111"/>
<circle cx="450.3" cy="80.7" r="1.4" fill="#111111"/>
<circle cx="451.1" cy="83.1" r="1.4" fill="#111111"/>
<circle cx="451.4" cy="82.0" r="1.4" fill="#111111"/>
<circle cx="453.4" cy="81.4" r="1.4" fill="#111111"/>
<circle cx="454.9" cy="79.7" r="1.4" fill="#111111"/>
<circle cx="454.6" cy="82.3" r="1.4" fill="#111111"/>
<circle cx="461.1" cy="81.2" r="1.4" fill="#111111"/>
<circle cx="461.5" cy="80.9" r="1.4" fill="#111111"/>
<circle cx="463.9" cy="80.3" r="1.4" fill="#111111"/>
<circle cx="465.6" cy="82.3" r="1.4" fill="#111111"/>
<circle cx="404.8" cy="58.2" r="1.4" fill="#111111"/>
<circle cx="404.1" cy="62.4" r="1.4" fill="#111111"/>
<circle cx="421" cy="60.3" r="1.4" fill="#111111"/>
<circle cx="426.6" cy="66" r="1.4" fill="#111111"/>
<circle cx="455.2" cy="74.4" r="1.4" fill="#111111"/>
<circle cx="459.9" cy="74.4" r="1.4" fill="#111111"/>
<circle cx="464" cy="73.8" r="1.4" fill="#111111"/>
<circle cx="467.5" cy="77.9" r="1.4" fill="#111111"/>
<circle cx="471.6" cy="77.9" r="1.4" fill="#111111"/>
<circle cx="474" cy="76.1" r="1.4" fill="#111111"/>
<circle cx="478.7" cy="75" r="1.4" fill="#111111"/>
<circle cx="494.5" cy="82.6" r="1.4" fill="#111111"/>
<line x1="426.7" y1="90" x2="426.7" y2="6" stroke="#111" stroke-width="0.75" stroke-dasharray="2,1.2"/>
</g>
<rect x="380" y="6" width="130" height="84" fill="none" stroke="#7a7a7a" stroke-width="0.7"/>
<line x1="388.60" y1="90" x2="388.60" y2="91.3" stroke="#7a7a7a" stroke-width="0.6"/>
<text x="388.60" y="96.1" font-size="5.3" text-anchor="middle" textLength="8.15" lengthAdjust="spacingAndGlyphs">0.08</text>
<line x1="408.35" y1="90" x2="408.35" y2="91.3" stroke="#7a7a7a" stroke-width="0.6"/>
<text x="408.35" y="96.1" font-size="5.3" text-anchor="middle" textLength="8.15" lengthAdjust="spacingAndGlyphs">0.10</text>
<line x1="428.10" y1="90" x2="428.10" y2="91.3" stroke="#7a7a7a" stroke-width="0.6"/>
<text x="428.10" y="96.1" font-size="5.3" text-anchor="middle" textLength="8.15" lengthAdjust="spacingAndGlyphs">0.12</text>
<line x1="447.85" y1="90" x2="447.85" y2="91.3" stroke="#7a7a7a" stroke-width="0.6"/>
<text x="447.85" y="96.1" font-size="5.3" text-anchor="middle" textLength="8.15" lengthAdjust="spacingAndGlyphs">0.14</text>
<line x1="467.60" y1="90" x2="467.60" y2="91.3" stroke="#7a7a7a" stroke-width="0.6"/>
<text x="467.60" y="96.1" font-size="5.3" text-anchor="middle" textLength="8.15" lengthAdjust="spacingAndGlyphs">0.16</text>
<line x1="487.35" y1="90" x2="487.35" y2="91.3" stroke="#7a7a7a" stroke-width="0.6"/>
<text x="487.35" y="96.1" font-size="5.3" text-anchor="middle" textLength="8.15" lengthAdjust="spacingAndGlyphs">0.18</text>
<line x1="507.10" y1="90" x2="507.10" y2="91.3" stroke="#7a7a7a" stroke-width="0.6"/>
<text x="507.10" y="96.1" font-size="5.3" text-anchor="middle" textLength="8.15" lengthAdjust="spacingAndGlyphs">0.20</text>
<line x1="378.7" y1="79.40" x2="380" y2="79.40" stroke="#7a7a7a" stroke-width="0.6"/>
<text x="377.3" y="81.10" font-size="5.3" text-anchor="end" textLength="5.82" lengthAdjust="spacingAndGlyphs">0.5</text>
<line x1="378.7" y1="62.35" x2="380" y2="62.35" stroke="#7a7a7a" stroke-width="0.6"/>
<text x="377.3" y="64.05" font-size="5.3" text-anchor="end" textLength="5.82" lengthAdjust="spacingAndGlyphs">0.6</text>
<line x1="378.7" y1="45.30" x2="380" y2="45.30" stroke="#7a7a7a" stroke-width="0.6"/>
<text x="377.3" y="47.00" font-size="5.3" text-anchor="end" textLength="5.82" lengthAdjust="spacingAndGlyphs">0.7</text>
<line x1="378.7" y1="28.25" x2="380" y2="28.25" stroke="#7a7a7a" stroke-width="0.6"/>
<text x="377.3" y="29.95" font-size="5.3" text-anchor="end" textLength="5.82" lengthAdjust="spacingAndGlyphs">0.8</text>
<line x1="378.7" y1="11.20" x2="380" y2="11.20" stroke="#7a7a7a" stroke-width="0.6"/>
<text x="377.3" y="12.90" font-size="5.3" text-anchor="end" textLength="5.82" lengthAdjust="spacingAndGlyphs">0.9</text>
<text x="445.0" y="3.7" font-size="4.8" text-anchor="middle">KMNIST</text>
<text x="445.0" y="101.2" font-size="4.3" text-anchor="middle">A3 Loss</text>
<text x="0" y="0" font-size="4.3" text-anchor="middle" transform="translate(367.5,48.0) rotate(-90)">AUCs</text>
<g clip-path="url(#c3)">
<rect x="602.3" y="6" width="27.90000000000009" height="84" fill="#b3b3b3"/>
<circle cx="559.4" cy="11.9" r="1.4" fill="#c3c3c3"/>
<circle cx="559.8" cy="11.9" r="1.4" fill="#c3c3c3"/>
<circle cx="559.3" cy="13.3" r="1.4" fill="#c1c1c1"/>
<circle cx="560.3" cy="12.4" r="1.4" fill="#c1c1c1"/>
<circle cx="560.6" cy="13.6" r="1.4" fill="#bfbfbf"/>
<circle cx="563.0" cy="11.6" r="1.4" fill="#bebebe"/>
<circle cx="562.1" cy="12.7" r="1.4" fill="#bebebe"/>
<circle cx="563.6" cy="12.0" r="1.4" fill="#bdbdbd"/>
<circle cx="562.5" cy="13.2" r="1.4" fill="#bcbcbc"/>
<circle cx="562.2" cy="13.8" r="1.4" fill="#bcbcbc"/>
<circle cx="564.8" cy="11.7" r="1.4" fill="#bbbbbb"/>
<circle cx="565.6" cy="12.3" r="1.4" fill="#b9b9b9"/>
<circle cx="565.1" cy="13.0" r="1.4" fill="#b8b8b8"/>
<circle cx="566.2" cy="12.6" r="1.4" fill="#b7b7b7"/>
<circle cx="565.1" cy="13.6" r="1.4" fill="#b7b7b7"/>
<circle cx="566.8" cy="12.2" r="1.4" fill="#b7b7b7"/>
<circle cx="567.1" cy="11.9" r="1.4" fill="#b7b7b7"/>
<circle cx="567.4" cy="11.8" r="1.4" fill="#b7b7b7"/>
<circle cx="566.4" cy="12.8" r="1.4" fill="#b7b7b7"/>
<circle cx="566.6" cy="12.8" r="1.4" fill="#b6b6b6"/>
<circle cx="566.8" cy="13.7" r="1.4" fill="#b4b4b4"/>
<circle cx="567.5" cy="13.1" r="1.4" fill="#b4b4b4"/>
<circle cx="568.4" cy="12.4" r="1.4" fill="#b4b4b4"/>
<circle cx="568.6" cy="13.6" r="1.4" fill="#b2b2b2"/>
<circle cx="568.7" cy="14.0" r="1.4" fill="#b1b1b1"/>
<circle cx="569.4" cy="13.7" r="1.4" fill="#b0b0b0"/>
<circle cx="569.0" cy="14.3" r="1.4" fill="#b0b0b0"/>
<circle cx="570.9" cy="13.0" r="1.4" fill="#afafaf"/>
<circle cx="569.5" cy="14.7" r="1.4" fill="#aeaeae"/>
<circle cx="570.8" cy="14.2" r="1.4" fill="#adadad"/>
<circle cx="572.0" cy="13.4" r="1.4" fill="#adadad"/>
<circle cx="571.8" cy="13.7" r="1.4" fill="#adadad"/>
<circle cx="572.3" cy="14.2" r="1.4" fill="#ababab"/>
<circle cx="573.8" cy="13.7" r="1.4" fill="#a9a9a9"/>
<circle cx="572.2" cy="15.2" r="1.4" fill="#a9a9a9"/>
<circle cx="572.6" cy="14.9" r="1.4" fill="#a9a9a9"/>
<circle cx="570.7" cy="16.8" r="1.4" fill="#a9a9a9"/>
<circle cx="572.7" cy="15.1" r="1.4" fill="#a8a8a8"/>
<circle cx="571.2" cy="16.9" r="1.4" fill="#a8a8a8"/>
<circle cx="571.3" cy="16.9" r="1.4" fill="#a8a8a8"/>
<circle cx="572.1" cy="17.0" r="1.4" fill="#a6a6a6"/>
<circle cx="574.9" cy="14.6" r="1.4" fill="#a6a6a6"/>
<circle cx="574.0" cy="15.8" r="1.4" fill="#a5a5a5"/>
<circle cx="576.0" cy="14.4" r="1.4" fill="#a4a4a4"/>
<circle cx="575.2" cy="15.9" r="1.4" fill="#a3a3a3"/>
<circle cx="576.0" cy="15.4" r="1.4" fill="#a3a3a3"/>
<circle cx="574.4" cy="17.1" r="1.4" fill="#a2a2a2"/>
<circle cx="575.7" cy="16.0" r="1.4" fill="#a2a2a2"/>
<circle cx="576.8" cy="15.0" r="1.4" fill="#a2a2a2"/>
<circle cx="574.6" cy="17.7" r="1.4" fill="#a1a1a1"/>
<circle cx="577.4" cy="15.5" r="1.4" fill="#a0a0a0"/>
<circle cx="575.5" cy="18.0" r="1.4" fill="#9f9f9f"/>
<circle cx="576.0" cy="18.1" r="1.4" fill="#9e9e9e"/>
<circle cx="576.3" cy="18.3" r="1.4" fill="#9d9d9d"/>
<circle cx="577.6" cy="17.2" r="1.4" fill="#9d9d9d"/>
<circle cx="579.1" cy="16.2" r="1.4" fill="#9c9c9c"/>
<circle cx="577.2" cy="18.1" r="1.4" fill="#9c9c9c"/>
<circle cx="579.6" cy="17.2" r="1.4" fill="#9a9a9a"/>
<circle cx="581.2" cy="16.5" r="1.4" fill="#989898"/>
<circle cx="578.5" cy="19.3" r="1.4" fill="#989898"/>
<circle cx="581.9" cy="17.3" r="1.4" fill="#969696"/>
<circle cx="581.3" cy="18.1" r="1.4" fill="#969696"/>
<circle cx="581.0" cy="18.9" r="1.4" fill="#959595"/>
<circle cx="582.5" cy="17.7" r="1.4" fill="#949494"/>
<circle cx="579.3" cy="21.0" r="1.4" fill="#949494"/>
<circle cx="582.1" cy="18.9" r="1.4" fill="#939393"/>
<circle cx="580.6" cy="20.6" r="1.4" fill="#929292"/>
<circle cx="582.7" cy="18.9" r="1.4" fill="#929292"/>
<circle cx="582.5" cy="19.1" r="1.4" fill="#929292"/>
<circle cx="580.6" cy="20.9" r="1.4" fill="#929292"/>
<circle cx="584.1" cy="18.1" r="1.4" fill="#919191"/>
<circle cx="580.9" cy="21.1" r="1.4" fill="#919191"/>
<circle cx="584.3" cy="18.1" r="1.4" fill="#919191"/>
<circle cx="581.2" cy="21.2" r="1.4" fill="#909090"/>
<circle cx="583.4" cy="19.6" r="1.4" fill="#8f8f8f"/>
<circle cx="585.0" cy="18.2" r="1.4" fill="#8f8f8f"/>
<circle cx="582.6" cy="20.6" r="1.4" fill="#8f8f8f"/>
<circle cx="583.8" cy="20.0" r="1.4" fill="#8e8e8e"/>
<circle cx="584.2" cy="19.7" r="1.4" fill="#8e8e8e"/>
<circle cx="585.3" cy="18.8" r="1.4" fill="#8e8e8e"/>
<circle cx="581.7" cy="22.4" r="1.4" fill="#8d8d8d"/>
<circle cx="584.9" cy="19.6" r="1.4" fill="#8d8d8d"/>
<circle cx="581.8" cy="22.5" r="1.4" fill="#8d8d8d"/>
<circle cx="583.7" cy="20.8" r="1.4" fill="#8d8d8d"/>
<circle cx="583.5" cy="21.0" r="1.4" fill="#8d8d8d"/>
<circle cx="584.7" cy="20.1" r="1.4" fill="#8d8d8d"/>
<circle cx="581.4" cy="23.5" r="1.4" fill="#8c8c8c"/>
<circle cx="584.9" cy="20.4" r="1.4" fill="#8c8c8c"/>
<circle cx="584.5" cy="20.9" r="1.4" fill="#8b8b8b"/>
<circle cx="581.3" cy="24.1" r="1.4" fill="#8b8b8b"/>
<circle cx="584.0" cy="21.7" r="1.4" fill="#8b8b8b"/>
<circle cx="583.9" cy="22.0" r="1.4" fill="#8b8b8b"/>
<circle cx="585.9" cy="20.2" r="1.4" fill="#8b8b8b"/>
<circle cx="585.3" cy="20.8" r="1.4" fill="#8a8a8a"/>
<circle cx="584.3" cy="21.8" r="1.4" fill="#8a8a8a"/>
<circle cx="583.8" cy="22.6" r="1.4" fill="#8a8a8a"/>
<circle cx="586.3" cy="20.5" r="1.4" fill="#898989"/>
<circle cx="583.0" cy="23.6" r="1.4" fill="#898989"/>
<circle cx="583.9" cy="23.3" r="1.4" fill="#888888"/>
<circle cx="582.4" cy="24.9" r="1.4" fill="#888888"/>
<circle cx="585.7" cy="21.9" r="1.4" fill="#888888"/>
<circle cx="587.1" cy="21.7" r="1.4" fill="#868686"/>
<circle cx="583.9" cy="24.9" r="1.4" fill="#868686"/>
<circle cx="585.2" cy="23.9" r="1.4" fill="#858585"/>
<circle cx="584.5" cy="25.1" r="1.4" fill="#848484"/>
<circle cx="583.9" cy="25.7" r="1.4" fill="#848484"/>
<circle cx="583.4" cy="26.3" r="1.4" fill="#848484"/>
<circle cx="587.5" cy="22.7" r="1.4" fill="#838383"/>
<circle cx="587.4" cy="23.0" r="1.4" fill="#838383"/>
<circle cx="586.2" cy="24.2" r="1.4" fill="#838383"/>
<circle cx="583.4" cy="27.7" r="1.4" fill="#818181"/>
<circle cx="587.1" cy="24.9" r="1.4" fill="#808080"/>
<circle cx="587.0" cy="25.1" r="1.4" fill="#808080"/>
<circle cx="587.5" cy="25.2" r="1.4" fill="#7f7f7f"/>
<circle cx="587.3" cy="25.4" r="1.4" fill="#7f7f7f"/>
<circle cx="588.0" cy="24.9" r="1.4" fill="#7f7f7f"/>
<circle cx="586.0" cy="26.8" r="1.4" fill="#7f7f7f"/>
<circle cx="585.3" cy="27.5" r="1.4" fill="#7f7f7f"/>
<circle cx="588.9" cy="24.5" r="1.4" fill="#7e7e7e"/>
<circle cx="589.0" cy="24.5" r="1.4" fill="#7e7e7e"/>
<circle cx="587.2" cy="26.4" r="1.4" fill="#7e7e7e"/>
<circle cx="585.9" cy="27.9" r="1.4" fill="#7d7d7d"/>
<circle cx="588.6" cy="25.8" r="1.4" fill="#7c7c7c"/>
<circle cx="588.6" cy="25.8" r="1.4" fill="#7c7c7c"/>
<circle cx="587.7" cy="26.7" r="1.4" fill="#7c7c7c"/>
<circle cx="588.1" cy="26.5" r="1.4" fill="#7c7c7c"/>
<circle cx="589.1" cy="26.4" r="1.4" fill="#7a7a7a"/>
<circle cx="589.9" cy="25.8" r="1.4" fill="#7a7a7a"/>
<circle cx="588.7" cy="27.3" r="1.4" fill="#797979"/>
<circle cx="586.0" cy="29.9" r="1.4" fill="#797979"/>
<circle cx="589.9" cy="26.5" r="1.4" fill="#797979"/>
<circle cx="589.2" cy="27.8" r="1.4" fill="#787878"/>
<circle cx="588.3" cy="28.9" r="1.4" fill="#777777"/>
<circle cx="588.6" cy="29.2" r="1.4" fill="#767676"/>
<circle cx="586.9" cy="30.8" r="1.4" fill="#767676"/>
<circle cx="589.9" cy="28.1" r="1.4" fill="#767676"/>
<circle cx="588.7" cy="29.9" r="1.4" fill="#757575"/>
<circle cx="586.4" cy="32.3" r="1.4" fill="#757575"/>
<circle cx="587.8" cy="31.0" r="1.4" fill="#757575"/>
<circle cx="586.9" cy="32.9" r="1.4" fill="#737373"/>
<circle cx="589.9" cy="30.3" r="1.4" fill="#727272"/>
<circle cx="588.8" cy="31.4" r="1.4" fill="#727272"/>
<circle cx="590.4" cy="30.0" r="1.4" fill="#727272"/>
<circle cx="591.0" cy="29.8" r="1.4" fill="#727272"/>
<circle cx="589.1" cy="31.6" r="1.4" fill="#717171"/>
<circle cx="588.9" cy="32.1" r="1.4" fill="#717171"/>
<circle cx="587.5" cy="33.6" r="1.4" fill="#707070"/>
<circle cx="588.0" cy="33.2" r="1.4" fill="#707070"/>
<circle cx="589.7" cy="31.9" r="1.4" fill="#707070"/>
<circle cx="589.9" cy="31.8" r="1.4" fill="#707070"/>
<circle cx="588.9" cy="32.9" r="1.4" fill="#6f6f6f"/>
<circle cx="589.5" cy="32.3" r="1.4" fill="#6f6f6f"/>
<circle cx="588.9" cy="33.0" r="1.4" fill="#6f6f6f"/>
<circle cx="591.6" cy="30.9" r="1.4" fill="#6f6f6f"/>
<circle cx="590.1" cy="32.3" r="1.4" fill="#6f6f6f"/>
<circle cx="588.6" cy="33.9" r="1.4" fill="#6e6e6e"/>
<circle cx="591.1" cy="32.4" r="1.4" fill="#6d6d6d"/>
<circle cx="590.6" cy="32.9" r="1.4" fill="#6d6d6d"/>
<circle cx="591.1" cy="32.7" r="1.4" fill="#6c6c6c"/>
<circle cx="588.6" cy="35.4" r="1.4" fill="#6c6c6c"/>
<circle cx="589.7" cy="34.4" r="1.4" fill="#6b6b6b"/>
<circle cx="591.4" cy="32.9" r="1.4" fill="#6b6b6b"/>
<circle cx="588.2" cy="36.2" r="1.4" fill="#6b6b6b"/>
<circle cx="589.7" cy="34.9" r="1.4" fill="#6b6b6b"/>
<circle cx="589.1" cy="35.5" r="1.4" fill="#6b6b6b"/>
<circle cx="590.1" cy="34.8" r="1.4" fill="#6a6a6a"/>
<circle cx="590.8" cy="34.5" r="1.4" fill="#696969"/>
<circle cx="591.0" cy="35.1" r="1.4" fill="#686868"/>
<circle cx="590.4" cy="36.0" r="1.4" fill="#686868"/>
<circle cx="590.4" cy="36.5" r="1.4" fill="#676767"/>
<circle cx="591.3" cy="35.6" r="1.4" fill="#676767"/>
<circle cx="591.4" cy="36.1" r="1.4" fill="#666666"/>
<circle cx="592.1" cy="36.1" r="1.4" fill="#656565"/>
<circle cx="589.6" cy="38.4" r="1.4" fill="#656565"/>
<circle cx="590.1" cy="38.3" r="1.4" fill="#646464"/>
<circle cx="591.9" cy="37.0" r="1.4" fill="#636363"/>
<circle cx="592.8" cy="36.1" r="1.4" fill="#636363"/>
<circle cx="589.6" cy="39.7" r="1.4" fill="#626262"/>
<circle cx="593.2" cy="36.9" r="1.4" fill="#626262"/>
<circle cx="591.8" cy="38.4" r="1.4" fill="#616161"/>
<circle cx="589.3" cy="40.8" r="1.4" fill="#616161"/>
<circle cx="590.7" cy="39.6" r="1.4" fill="#616161"/>
<circle cx="589.7" cy="40.6" r="1.4" fill="#616161"/>
<circle cx="590.0" cy="40.4" r="1.4" fill="#616161"/>
<circle cx="589.7" cy="40.9" r="1.4" fill="#606060"/>
<circle cx="593.7" cy="37.3" r="1.4" fill="#606060"/>
<circle cx="591.3" cy="39.6" r="1.4" fill="#606060"/>
<circle cx="591.2" cy="40.2" r="1.4" fill="#5f5f5f"/>
<circle cx="590.0" cy="41.4" r="1.4" fill="#5f5f5f"/>
<circle cx="593.0" cy="38.7" r="1.4" fill="#5f5f5f"/>
<circle cx="590.8" cy="41.2" r="1.4" fill="#5e5e5e"/>
<circle cx="590.5" cy="41.6" r="1.4" fill="#5e5e5e"/>
<circle cx="591.1" cy="41.2" r="1.4" fill="#5d5d5d"/>
<circle cx="593.6" cy="39.0" r="1.4" fill="#5d5d5d"/>
<circle cx="591.9" cy="41.3" r="1.4" fill="#5c5c5c"/>
<circle cx="590.7" cy="42.5" r="1.4" fill="#5c5c5c"/>
<circle cx="593.3" cy="40.3" r="1.4" fill="#5b5b5b"/>
<circle cx="593.2" cy="40.5" r="1.4" fill="#5b5b5b"/>
<circle cx="593.1" cy="41.2" r="1.4" fill="#5a5a5a"/>
<circle cx="592.8" cy="42.0" r="1.4" fill="#595959"/>
<circle cx="593.3" cy="42.0" r="1.4" fill="#585858"/>
<circle cx="592.4" cy="42.9" r="1.4" fill="#585858"/>
<circle cx="591.0" cy="44.4" r="1.4" fill="#585858"/>
<circle cx="594.3" cy="42.0" r="1.4" fill="#575757"/>
<circle cx="593.6" cy="42.7" r="1.4" fill="#575757"/>
<circle cx="594.5" cy="41.8" r="1.4" fill="#575757"/>
<circle cx="589.3" cy="46.6" r="1.4" fill="#575757"/>
<circle cx="591.2" cy="45.1" r="1.4" fill="#565656"/>
<circle cx="593.5" cy="43.0" r="1.4" fill="#565656"/>
<circle cx="592.2" cy="44.3" r="1.4" fill="#565656"/>
<circle cx="592.5" cy="44.1" r="1.4" fill="#565656"/>
<circle cx="592.5" cy="44.5" r="1.4" fill="#555555"/>
<circle cx="589.0" cy="47.7" r="1.4" fill="#555555"/>
<circle cx="590.7" cy="46.3" r="1.4" fill="#555555"/>
<circle cx="591.2" cy="45.8" r="1.4" fill="#555555"/>
<circle cx="593.8" cy="43.5" r="1.4" fill="#555555"/>
<circle cx="589.9" cy="47.6" r="1.4" fill="#545454"/>
<circle cx="592.8" cy="45.2" r="1.4" fill="#545454"/>
<circle cx="592.6" cy="45.4" r="1.4" fill="#545454"/>
<circle cx="593.8" cy="44.5" r="1.4" fill="#535353"/>
<circle cx="591.7" cy="46.8" r="1.4" fill="#535353"/>
<circle cx="592.2" cy="46.8" r="1.4" fill="#525252"/>
<circle cx="593.0" cy="46.4" r="1.4" fill="#515151"/>
<circle cx="593.4" cy="46.5" r="1.4" fill="#505050"/>
<circle cx="593.0" cy="46.9" r="1.4" fill="#505050"/>
<circle cx="594.5" cy="45.7" r="1.4" fill="#505050"/>
<circle cx="593.3" cy="46.9" r="1.4" fill="#505050"/>
<circle cx="593.5" cy="46.7" r="1.4" fill="#505050"/>
<circle cx="594.0" cy="46.7" r="1.4" fill="#505050"/>
<circle cx="595.0" cy="46.9" r="1.4" fill="#505050"/>
<circle cx="594.9" cy="57.2" r="1.4" fill="#444444"/>
<circle cx="593.0" cy="58.1" r="1.4" fill="#444444"/>
<circle cx="594.0" cy="57.8" r="1.4" fill="#444444"/>
<circle cx="594.3" cy="57.7" r="1.4" fill="#444444"/>
<circle cx="596.0" cy="57.3" r="1.4" fill="#444444"/>
<circle cx="593.1" cy="60.5" r="1.4" fill="#434343"/>
<circle cx="593.3" cy="61.7" r="1.4" fill="#424242"/>
<circle cx="598.4" cy="59.8" r="1.4" fill="#424242"/>
<circle cx="592.9" cy="62.3" r="1.4" fill="#424242"/>
<circle cx="597.2" cy="60.9" r="1.4" fill="#424242"/>
<circle cx="597.9" cy="60.6" r="1.4" fill="#424242"/>
<circle cx="597.1" cy="61.8" r="1.4" fill="#424242"/>
<circle cx="595.8" cy="62.4" r="1.4" fill="#424242"/>
<circle cx="593.2" cy="64.2" r="1.4" fill="#414141"/>
<circle cx="592.6" cy="65.0" r="1.4" fill="#414141"/>
<circle cx="594.0" cy="64.5" r="1.4" fill="#414141"/>
<circle cx="595.8" cy="63.9" r="1.4" fill="#414141"/>
<circle cx="599.7" cy="62.9" r="1.4" fill="#414141"/>
<circle cx="595.0" cy="65.1" r="1.4" fill="#404040"/>
<circle cx="597.6" cy="64.3" r="1.4" fill="#404040"/>
<circle cx="595.9" cy="65.9" r="1.4" fill="#404040"/>
<circle cx="597.4" cy="65.5" r="1.4" fill="#404040"/>
<circle cx="592.3" cy="68.0" r="1.4" fill="#404040"/>
<circle cx="599.0" cy="65.5" r="1.4" fill="#3f3f3f"/>
<circle cx="594.0" cy="68.0" r="1.4" fill="#3f3f3f"/>
<circle cx="593.2" cy="68.3" r="1.4" fill="#3f3f3f"/>
<circle cx="599.2" cy="66.6" r="1.4" fill="#3f3f3f"/>
<circle cx="593.5" cy="69.2" r="1.4" fill="#3f3f3f"/>
<circle cx="593.8" cy="70.4" r="1.4" fill="#3e3e3e"/>
<circle cx="593.1" cy="71.1" r="1.4" fill="#3e3e3e"/>
<circle cx="594.1" cy="70.9" r="1.4" fill="#3e3e3e"/>
<circle cx="598.0" cy="70.2" r="1.4" fill="#3e3e3e"/>
<circle cx="593.4" cy="72.3" r="1.4" fill="#3d3d3d"/>
<circle cx="597.7" cy="71.1" r="1.4" fill="#3d3d3d"/>
<circle cx="598.2" cy="70.9" r="1.4" fill="#3d3d3d"/>
<circle cx="597.5" cy="71.2" r="1.4" fill="#3d3d3d"/>
<circle cx="592.5" cy="74.1" r="1.4" fill="#3d3d3d"/>
<circle cx="599.8" cy="71.6" r="1.4" fill="#3d3d3d"/>
<circle cx="592.8" cy="74.5" r="1.4" fill="#3d3d3d"/>
<circle cx="593.5" cy="75.3" r="1.4" fill="#3c3c3c"/>
<circle cx="600.0" cy="73.0" r="1.4" fill="#3c3c3c"/>
<circle cx="596.2" cy="74.7" r="1.4" fill="#3c3c3c"/>
<circle cx="596.6" cy="74.6" r="1.4" fill="#3c3c3c"/>
<circle cx="598.3" cy="74.0" r="1.4" fill="#3c3c3c"/>
<circle cx="598.0" cy="74.6" r="1.4" fill="#3b3b3b"/>
<circle cx="599.2" cy="74.3" r="1.4" fill="#3b3b3b"/>
<circle cx="594.6" cy="76.3" r="1.4" fill="#3b3b3b"/>
<circle cx="597.0" cy="75.8" r="1.4" fill="#3b3b3b"/>
<circle cx="598.8" cy="75.2" r="1.4" fill="#3b3b3b"/>
<circle cx="599.7" cy="75.2" r="1.4" fill="#3b3b3b"/>
<circle cx="602.6" cy="74.6" r="1.4" fill="#2a2a2a"/>
<circle cx="603.5" cy="71" r="1.4" fill="#2a2a2a"/>
<circle cx="604.5" cy="68" r="1.4" fill="#2a2a2a"/>
<circle cx="605.5" cy="65" r="1.4" fill="#2a2a2a"/>
<circle cx="606.7" cy="62.3" r="1.4" fill="#2a2a2a"/>
<circle cx="601.1" cy="76.3" r="1.4" fill="#262626"/>
<circle cx="601.7" cy="76.1" r="1.4" fill="#252525"/>
<circle cx="602.6" cy="73.2" r="1.4" fill="#252525"/>
<circle cx="603.2" cy="75.4" r="1.4" fill="#252525"/>
<circle cx="604.6" cy="75.6" r="1.4" fill="#242424"/>
<circle cx="604.9" cy="76.6" r="1.4" fill="#242424"/>
<circle cx="605.0" cy="72.7" r="1.4" fill="#242424"/>
<circle cx="605.3" cy="72.9" r="1.4" fill="#242424"/>
<circle cx="605.3" cy="73.5" r="1.4" fill="#242424"/>
<circle cx="605.8" cy="71.7" r="1.4" fill="#242424"/>
<circle cx="605.8" cy="74.1" r="1.4" fill="#242424"/>
<circle cx="606.0" cy="72.0" r="1.4" fill="#232323"/>
<circle cx="606.1" cy="76.8" r="1.4" fill="#232323"/>
<circle cx="606.8" cy="72.7" r="1.4" fill="#232323"/>
<circle cx="606.9" cy="77.1" r="1.4" fill="#232323"/>
<circle cx="607.3" cy="75.7" r="1.4" fill="#232323"/>
<circle cx="608.0" cy="77.1" r="1.4" fill="#232323"/>
<circle cx="608.3" cy="76.8" r="1.4" fill="#232323"/>
<circle cx="608.5" cy="73.4" r="1.4" fill="#222222"/>
<circle cx="608.6" cy="77.0" r="1.4" fill="#222222"/>
<circle cx="609.3" cy="72.1" r="1.4" fill="#222222"/>
<circle cx="609.9" cy="74.5" r="1.4" fill="#222222"/>
<circle cx="610.0" cy="72.6" r="1.4" fill="#222222"/>
<circle cx="610.2" cy="76.3" r="1.4" fill="#222222"/>
<circle cx="610.2" cy="73.9" r="1.4" fill="#222222"/>
<circle cx="610.3" cy="74.9" r="1.4" fill="#222222"/>
<circle cx="610.4" cy="77.6" r="1.4" fill="#222222"/>
<circle cx="610.6" cy="77.2" r="1.4" fill="#222222"/>
<circle cx="610.8" cy="75.3" r="1.4" fill="#212121"/>
<circle cx="611.2" cy="71.6" r="1.4" fill="#212121"/>
<circle cx="611.5" cy="75.7" r="1.4" fill="#212121"/>
<circle cx="611.5" cy="75.6" r="1.4" fill="#212121"/>
<circle cx="611.5" cy="72.3" r="1.4" fill="#212121"/>
<circle cx="611.7" cy="74.4" r="1.4" fill="#212121"/>
<circle cx="611.9" cy="75.4" r="1.4" fill="#212121"/>
<circle cx="612.0" cy="72.7" r="1.4" fill="#212121"/>
<circle cx="612.4" cy="76.7" r="1.4" fill="#212121"/>
<circle cx="613.0" cy="74.1" r="1.4" fill="#212121"/>
<circle cx="613.1" cy="74.2" r="1.4" fill="#202020"/>
<circle cx="613.9" cy="76.4" r="1.4" fill="#202020"/>
<circle cx="614.2" cy="73.1" r="1.4" fill="#202020"/>
<circle cx="614.6" cy="74.3" r="1.4" fill="#202020"/>
<circle cx="614.8" cy="71.0" r="1.4" fill="#202020"/>
<circle cx="614.8" cy="71.3" r="1.4" fill="#202020"/>
<circle cx="615.6" cy="71.0" r="1.4" fill="#1f1f1f"/>
<circle cx="616.0" cy="75.5" r="1.4" fill="#1f1f1f"/>
<circle cx="616.3" cy="74.2" r="1.4" fill="#1f1f1f"/>
<circle cx="616.6" cy="75.1" r="1.4" fill="#1f1f1f"/>
<circle cx="616.9" cy="73.2" r="1.4" fill="#1f1f1f"/>
<circle cx="617.2" cy="74.7" r="1.4" fill="#1f1f1f"/>
<circle cx="617.4" cy="75.7" r="1.4" fill="#1f1f1f"/>
<circle cx="617.6" cy="71.2" r="1.4" fill="#1f1f1f"/>
<circle cx="617.7" cy="73.7" r="1.4" fill="#1f1f1f"/>
<circle cx="617.9" cy="76.3" r="1.4" fill="#1e1e1e"/>
<circle cx="618.3" cy="75.4" r="1.4" fill="#1e1e1e"/>
<circle cx="618.7" cy="75.0" r="1.4" fill="#1e1e1e"/>
<circle cx="620.2" cy="74.8" r="1.4" fill="#1d1d1d"/>
<circle cx="620.8" cy="77.4" r="1.4" fill="#1d1d1d"/>
<circle cx="620.8" cy="72.7" r="1.4" fill="#1d1d1d"/>
<circle cx="621.0" cy="75.3" r="1.4" fill="#1d1d1d"/>
<circle cx="621.4" cy="71.7" r="1.4" fill="#1d1d1d"/>
<circle cx="621.5" cy="77.2" r="1.4" fill="#1d1d1d"/>
<circle cx="622.1" cy="73.1" r="1.4" fill="#1d1d1d"/>
<circle cx="622.3" cy="74.9" r="1.4" fill="#1d1d1d"/>
<circle cx="622.3" cy="72.9" r="1.4" fill="#1d1d1d"/>
<circle cx="622.4" cy="75.8" r="1.4" fill="#1d1d1d"/>
<circle cx="622.5" cy="74.6" r="1.4" fill="#1d1d1d"/>
<circle cx="623.2" cy="75.3" r="1.4" fill="#1c1c1c"/>
<circle cx="623.4" cy="74.3" r="1.4" fill="#1c1c1c"/>
<circle cx="623.5" cy="77.8" r="1.4" fill="#1c1c1c"/>
<circle cx="623.9" cy="77.8" r="1.4" fill="#1c1c1c"/>
<circle cx="624.3" cy="74.9" r="1.4" fill="#1c1c1c"/>
<circle cx="624.6" cy="76.0" r="1.4" fill="#1c1c1c"/>
<circle cx="624.7" cy="76.0" r="1.4" fill="#1c1c1c"/>
<circle cx="626.7" cy="74.4" r="1.4" fill="#1b1b1b"/>
<circle cx="627.2" cy="76.1" r="1.4" fill="#1b1b1b"/>
<circle cx="627.4" cy="77.6" r="1.4" fill="#1a1a1a"/>
<circle cx="627.4" cy="76.1" r="1.4" fill="#1a1a1a"/>
<circle cx="628.7" cy="73.7" r="1.4" fill="#1a1a1a"/>
<circle cx="628.9" cy="72.8" r="1.4" fill="#1a1a1a"/>
<circle cx="629.0" cy="75.8" r="1.4" fill="#1a1a1a"/>
<circle cx="629.2" cy="74.9" r="1.4" fill="#1a1a1a"/>
<circle cx="629.2" cy="77.6" r="1.4" fill="#1a1a1a"/>
<circle cx="630.5" cy="75.2" r="1.4" fill="#191919"/>
<circle cx="630.6" cy="73.8" r="1.4" fill="#191919"/>
<circle cx="631.2" cy="75.7" r="1.4" fill="#191919"/>
<circle cx="632.5" cy="76.3" r="1.4" fill="#181818"/>
<circle cx="632.6" cy="75.7" r="1.4" fill="#181818"/>
<circle cx="633.8" cy="76.4" r="1.4" fill="#181818"/>
<circle cx="634.5" cy="73.9" r="1.4" fill="#181818"/>
<circle cx="634.5" cy="74.8" r="1.4" fill="#181818"/>
<circle cx="635.4" cy="77.3" r="1.4" fill="#171717"/>
<circle cx="635.7" cy="75.2" r="1.4" fill="#171717"/>
<circle cx="635.7" cy="75.0" r="1.4" fill="#171717"/>
<circle cx="636.1" cy="76.0" r="1.4" fill="#171717"/>
<circle cx="636.1" cy="76.0" r="1.4" fill="#171717"/>
<circle cx="636.7" cy="77.9" r="1.4" fill="#171717"/>
<circle cx="636.7" cy="74.3" r="1.4" fill="#171717"/>
<circle cx="636.8" cy="77.5" r="1.4" fill="#171717"/>
<circle cx="637.7" cy="75.6" r="1.4" fill="#161616"/>
<circle cx="637.8" cy="77.6" r="1.4" fill="#161616"/>
<circle cx="637.8" cy="77.3" r="1.4" fill="#161616"/>
<circle cx="637.9" cy="77.6" r="1.4" fill="#161616"/>
<circle cx="640.5" cy="75.0" r="1.4" fill="#151515"/>
<circle cx="641.0" cy="76.5" r="1.4" fill="#151515"/>
<circle cx="641.0" cy="76.6" r="1.4" fill="#151515"/>
<circle cx="641.8" cy="77.1" r="1.4" fill="#141414"/>
<circle cx="643.0" cy="75.6" r="1.4" fill="#141414"/>
<circle cx="643.2" cy="77.5" r="1.4" fill="#141414"/>
<circle cx="645.5" cy="76.8" r="1.4" fill="#131313"/>
<circle cx="645.8" cy="76.2" r="1.4" fill="#131313"/>
<circle cx="646.8" cy="76.9" r="1.4" fill="#121212"/>
<circle cx="646.8" cy="77.7" r="1.4" fill="#121212"/>
<circle cx="647.0" cy="76.0" r="1.4" fill="#121212"/>
<circle cx="648.9" cy="76.1" r="1.4" fill="#111111"/>
<circle cx="625.2" cy="83.6" r="1.4" fill="#111111"/>
<circle cx="625.9" cy="83.4" r="1.4" fill="#111111"/>
<circle cx="626.4" cy="83.4" r="1.4" fill="#111111"/>
<circle cx="627.0" cy="83.3" r="1.4" fill="#111111"/>
<circle cx="627.0" cy="84.1" r="1.4" fill="#111111"/>
<circle cx="629.9" cy="84.0" r="1.4" fill="#111111"/>
<circle cx="633.6" cy="84.0" r="1.4" fill="#111111"/>
<circle cx="634.4" cy="84.1" r="1.4" fill="#111111"/>
<circle cx="634.7" cy="83.2" r="1.4" fill="#111111"/>
<circle cx="636.7" cy="84.1" r="1.4" fill="#111111"/>
<circle cx="637.9" cy="83.4" r="1.4" fill="#111111"/>
<circle cx="641.3" cy="84.3" r="1.4" fill="#111111"/>
<circle cx="643.0" cy="83.3" r="1.4" fill="#111111"/>
<circle cx="649.1" cy="83.8" r="1.4" fill="#111111"/>
<circle cx="651.6" cy="84.3" r="1.4" fill="#111111"/>
<circle cx="656.4" cy="83.4" r="1.4" fill="#111111"/>
<circle cx="571.1" cy="20.8" r="1.4" fill="#8a8a8a"/>
<circle cx="592.6" cy="11.5" r="1.4" fill="#cfcfcf"/>
<circle cx="590.5" cy="51.9" r="1.4" fill="#555555"/>
<circle cx="596.8" cy="50.5" r="1.4" fill="#555555"/>
<circle cx="593.3" cy="54" r="1.4" fill="#555555"/>
<circle cx="587.1" cy="38" r="1.4" fill="#555555"/>
<circle cx="589" cy="46.6" r="1.4" fill="#555555"/>
<circle cx="605.2" cy="63.1" r="1.4" fill="#111111"/>
<circle cx="609.5" cy="65.2" r="1.4" fill="#111111"/>
<circle cx="613.7" cy="66.6" r="1.4" fill="#111111"/>
<circle cx="620" cy="68.8" r="1.4" fill="#111111"/>
<circle cx="654.3" cy="76.1" r="1.4" fill="#111111"/>
<circle cx="657.3" cy="75.1" r="1.4" fill="#111111"/>
<circle cx="660.2" cy="76.6" r="1.4" fill="#111111"/>
<circle cx="664.2" cy="76.1" r="1.4" fill="#111111"/>
<circle cx="653.4" cy="80" r="1.4" fill="#111111"/>
<circle cx="654.8" cy="81" r="1.4" fill="#111111"/>
<line x1="610.3" y1="90" x2="610.3" y2="6" stroke="#111" stroke-width="0.75" stroke-dasharray="2,1.2"/>
</g>
<rect x="552" y="6" width="129" height="84" fill="none" stroke="#7a7a7a" stroke-width="0.7"/>
<line x1="556.50" y1="90" x2="556.50" y2="91.3" stroke="#7a7a7a" stroke-width="0.6"/>
<text x="556.50" y="96.1" font-size="5.3" text-anchor="middle" textLength="8.15" lengthAdjust="spacingAndGlyphs">0.04</text>
<line x1="582.40" y1="90" x2="582.40" y2="91.3" stroke="#7a7a7a" stroke-width="0.6"/>
<text x="582.40" y="96.1" font-size="5.3" text-anchor="middle" textLength="8.15" lengthAdjust="spacingAndGlyphs">0.06</text>
<line x1="608.30" y1="90" x2="608.30" y2="91.3" stroke="#7a7a7a" stroke-width="0.6"/>
<text x="608.30" y="96.1" font-size="5.3" text-anchor="middle" textLength="8.15" lengthAdjust="spacingAndGlyphs">0.08</text>
<line x1="634.20" y1="90" x2="634.20" y2="91.3" stroke="#7a7a7a" stroke-width="0.6"/>
<text x="634.20" y="96.1" font-size="5.3" text-anchor="middle" textLength="8.15" lengthAdjust="spacingAndGlyphs">0.10</text>
<line x1="660.10" y1="90" x2="660.10" y2="91.3" stroke="#7a7a7a" stroke-width="0.6"/>
<text x="660.10" y="96.1" font-size="5.3" text-anchor="middle" textLength="8.15" lengthAdjust="spacingAndGlyphs">0.12</text>
<line x1="550.7" y1="80.20" x2="552" y2="80.20" stroke="#7a7a7a" stroke-width="0.6"/>
<text x="549.3" y="81.90" font-size="5.3" text-anchor="end" textLength="5.82" lengthAdjust="spacingAndGlyphs">0.5</text>
<line x1="550.7" y1="65.52" x2="552" y2="65.52" stroke="#7a7a7a" stroke-width="0.6"/>
<text x="549.3" y="67.22" font-size="5.3" text-anchor="end" textLength="5.82" lengthAdjust="spacingAndGlyphs">0.6</text>
<line x1="550.7" y1="50.84" x2="552" y2="50.84" stroke="#7a7a7a" stroke-width="0.6"/>
<text x="549.3" y="52.54" font-size="5.3" text-anchor="end" textLength="5.82" lengthAdjust="spacingAndGlyphs">0.7</text>
<line x1="550.7" y1="36.16" x2="552" y2="36.16" stroke="#7a7a7a" stroke-width="0.6"/>
<text x="549.3" y="37.86" font-size="5.3" text-anchor="end" textLength="5.82" lengthAdjust="spacingAndGlyphs">0.8</text>
<line x1="550.7" y1="21.48" x2="552" y2="21.48" stroke="#7a7a7a" stroke-width="0.6"/>
<text x="549.3" y="23.18" font-size="5.3" text-anchor="end" textLength="5.82" lengthAdjust="spacingAndGlyphs">0.9</text>
<line x1="550.7" y1="6.80" x2="552" y2="6.80" stroke="#7a7a7a" stroke-width="0.6"/>
<text x="549.3" y="8.50" font-size="5.3" text-anchor="end" textLength="5.82" lengthAdjust="spacingAndGlyphs">1.0</text>
<text x="616.5" y="3.7" font-size="4.8" text-anchor="middle">QMNIST</text>
<text x="616.5" y="101.2" font-size="4.3" text-anchor="middle">A3 Loss</text>
<text x="0" y="0" font-size="4.3" text-anchor="middle" transform="translate(539.5,48.0) rotate(-90)">AUCs</text>
<g clip-path="url(#c4)">
<rect x="53.7" y="119" width="23.099999999999994" height="83.30000000000001" fill="#b3b3b3"/>
<circle cx="22.6" cy="125.3" r="1.4" fill="#bcbcbc"/>
<circle cx="23.4" cy="124.4" r="1.4" fill="#bcbcbc"/>
<circle cx="24.0" cy="124.1" r="1.4" fill="#bbbbbb"/>
<circle cx="24.1" cy="124.1" r="1.4" fill="#bbbbbb"/>
<circle cx="23.9" cy="125.4" r="1.4" fill="#b9b9b9"/>
<circle cx="24.0" cy="125.6" r="1.4" fill="#b8b8b8"/>
<circle cx="24.9" cy="124.2" r="1.4" fill="#b8b8b8"/>
<circle cx="24.5" cy="124.9" r="1.4" fill="#b8b8b8"/>
<circle cx="24.8" cy="125.7" r="1.4" fill="#b6b6b6"/>
<circle cx="25.2" cy="125.3" r="1.4" fill="#b6b6b6"/>
<circle cx="25.8" cy="124.5" r="1.4" fill="#b6b6b6"/>
<circle cx="25.2" cy="126.0" r="1.4" fill="#b5b5b5"/>
<circle cx="25.8" cy="125.0" r="1.4" fill="#b5b5b5"/>
<circle cx="26.1" cy="125.3" r="1.4" fill="#b4b4b4"/>
<circle cx="25.9" cy="125.7" r="1.4" fill="#b3b3b3"/>
<circle cx="26.5" cy="125.1" r="1.4" fill="#b3b3b3"/>
<circle cx="27.5" cy="123.8" r="1.4" fill="#b2b2b2"/>
<circle cx="26.4" cy="126.0" r="1.4" fill="#b2b2b2"/>
<circle cx="26.5" cy="125.9" r="1.4" fill="#b1b1b1"/>
<circle cx="27.9" cy="124.0" r="1.4" fill="#b1b1b1"/>
<circle cx="28.1" cy="123.7" r="1.4" fill="#b1b1b1"/>
<circle cx="27.4" cy="125.5" r="1.4" fill="#b0b0b0"/>
<circle cx="28.0" cy="125.1" r="1.4" fill="#afafaf"/>
<circle cx="28.4" cy="125.1" r="1.4" fill="#aeaeae"/>
<circle cx="29.7" cy="124.6" r="1.4" fill="#ababab"/>
<circle cx="29.5" cy="126.0" r="1.4" fill="#aaaaaa"/>
<circle cx="30.1" cy="125.6" r="1.4" fill="#a9a9a9"/>
<circle cx="31.3" cy="124.3" r="1.4" fill="#a8a8a8"/>
<circle cx="31.3" cy="124.8" r="1.4" fill="#a7a7a7"/>
<circle cx="31.7" cy="125.3" r="1.4" fill="#a5a5a5"/>
<circle cx="32.8" cy="125.2" r="1.4" fill="#a2a2a2"/>
<circle cx="33.4" cy="124.4" r="1.4" fill="#a2a2a2"/>
<circle cx="33.4" cy="124.9" r="1.4" fill="#a1a1a1"/>
<circle cx="33.5" cy="125.3" r="1.4" fill="#a0a0a0"/>
<circle cx="33.2" cy="126.0" r="1.4" fill="#a0a0a0"/>
<circle cx="33.8" cy="126.3" r="1.4" fill="#9e9e9e"/>
<circle cx="33.8" cy="126.4" r="1.4" fill="#9e9e9e"/>
<circle cx="33.8" cy="126.6" r="1.4" fill="#9e9e9e"/>
<circle cx="34.5" cy="125.7" r="1.4" fill="#9d9d9d"/>
<circle cx="34.9" cy="125.8" r="1.4" fill="#9c9c9c"/>
<circle cx="34.1" cy="127.3" r="1.4" fill="#9c9c9c"/>
<circle cx="35.4" cy="126.1" r="1.4" fill="#9a9a9a"/>
<circle cx="34.9" cy="126.9" r="1.4" fill="#9a9a9a"/>
<circle cx="35.6" cy="125.7" r="1.4" fill="#9a9a9a"/>
<circle cx="35.6" cy="125.9" r="1.4" fill="#9a9a9a"/>
<circle cx="35.7" cy="126.0" r="1.4" fill="#999999"/>
<circle cx="35.6" cy="126.4" r="1.4" fill="#999999"/>
<circle cx="35.8" cy="126.5" r="1.4" fill="#999999"/>
<circle cx="36.0" cy="127.3" r="1.4" fill="#979797"/>
<circle cx="36.0" cy="128.1" r="1.4" fill="#969696"/>
<circle cx="35.9" cy="128.2" r="1.4" fill="#969696"/>
<circle cx="37.2" cy="126.3" r="1.4" fill="#959595"/>
<circle cx="37.2" cy="126.7" r="1.4" fill="#959595"/>
<circle cx="37.7" cy="125.9" r="1.4" fill="#959595"/>
<circle cx="36.2" cy="128.6" r="1.4" fill="#949494"/>
<circle cx="37.0" cy="127.5" r="1.4" fill="#949494"/>
<circle cx="36.7" cy="128.9" r="1.4" fill="#939393"/>
<circle cx="37.2" cy="128.4" r="1.4" fill="#929292"/>
<circle cx="38.1" cy="127.1" r="1.4" fill="#929292"/>
<circle cx="38.3" cy="127.2" r="1.4" fill="#919191"/>
<circle cx="37.7" cy="128.2" r="1.4" fill="#919191"/>
<circle cx="38.6" cy="127.4" r="1.4" fill="#909090"/>
<circle cx="39.2" cy="126.9" r="1.4" fill="#8f8f8f"/>
<circle cx="38.0" cy="129.1" r="1.4" fill="#8f8f8f"/>
<circle cx="39.1" cy="127.5" r="1.4" fill="#8f8f8f"/>
<circle cx="38.2" cy="129.6" r="1.4" fill="#8e8e8e"/>
<circle cx="39.7" cy="127.3" r="1.4" fill="#8d8d8d"/>
<circle cx="39.4" cy="128.7" r="1.4" fill="#8c8c8c"/>
<circle cx="40.2" cy="127.4" r="1.4" fill="#8c8c8c"/>
<circle cx="39.5" cy="128.7" r="1.4" fill="#8c8c8c"/>
<circle cx="40.6" cy="128.0" r="1.4" fill="#8a8a8a"/>
<circle cx="41.0" cy="127.7" r="1.4" fill="#898989"/>
<circle cx="41.5" cy="127.4" r="1.4" fill="#898989"/>
<circle cx="40.3" cy="129.9" r="1.4" fill="#888888"/>
<circle cx="42.0" cy="127.7" r="1.4" fill="#878787"/>
<circle cx="40.3" cy="130.8" r="1.4" fill="#868686"/>
<circle cx="40.8" cy="130.0" r="1.4" fill="#868686"/>
<circle cx="41.6" cy="128.7" r="1.4" fill="#868686"/>
<circle cx="40.8" cy="130.8" r="1.4" fill="#858585"/>
<circle cx="42.0" cy="131.1" r="1.4" fill="#828282"/>
<circle cx="43.3" cy="129.3" r="1.4" fill="#818181"/>
<circle cx="42.8" cy="130.4" r="1.4" fill="#818181"/>
<circle cx="42.7" cy="131.2" r="1.4" fill="#808080"/>
<circle cx="43.0" cy="131.0" r="1.4" fill="#7f7f7f"/>
<circle cx="43.3" cy="130.5" r="1.4" fill="#7f7f7f"/>
<circle cx="44.1" cy="129.4" r="1.4" fill="#7f7f7f"/>
<circle cx="44.1" cy="129.7" r="1.4" fill="#7e7e7e"/>
<circle cx="44.5" cy="129.3" r="1.4" fill="#7e7e7e"/>
<circle cx="44.1" cy="130.8" r="1.4" fill="#7d7d7d"/>
<circle cx="43.4" cy="132.1" r="1.4" fill="#7c7c7c"/>
<circle cx="43.2" cy="132.8" r="1.4" fill="#7c7c7c"/>
<circle cx="44.0" cy="131.5" r="1.4" fill="#7c7c7c"/>
<circle cx="45.3" cy="130.0" r="1.4" fill="#7b7b7b"/>
<circle cx="44.3" cy="131.8" r="1.4" fill="#7b7b7b"/>
<circle cx="44.8" cy="132.0" r="1.4" fill="#797979"/>
<circle cx="44.3" cy="133.0" r="1.4" fill="#797979"/>
<circle cx="45.5" cy="131.9" r="1.4" fill="#787878"/>
<circle cx="44.6" cy="133.9" r="1.4" fill="#777777"/>
<circle cx="45.0" cy="133.3" r="1.4" fill="#777777"/>
<circle cx="45.0" cy="133.7" r="1.4" fill="#767676"/>
<circle cx="46.7" cy="131.0" r="1.4" fill="#767676"/>
<circle cx="45.2" cy="133.6" r="1.4" fill="#767676"/>
<circle cx="46.1" cy="132.3" r="1.4" fill="#757575"/>
<circle cx="46.0" cy="132.5" r="1.4" fill="#757575"/>
<circle cx="46.4" cy="132.1" r="1.4" fill="#757575"/>
<circle cx="47.1" cy="131.2" r="1.4" fill="#747474"/>
<circle cx="46.6" cy="132.4" r="1.4" fill="#747474"/>
<circle cx="46.1" cy="133.3" r="1.4" fill="#747474"/>
<circle cx="45.2" cy="135.0" r="1.4" fill="#737373"/>
<circle cx="45.3" cy="135.1" r="1.4" fill="#737373"/>
<circle cx="47.0" cy="132.7" r="1.4" fill="#727272"/>
<circle cx="46.4" cy="134.3" r="1.4" fill="#727272"/>
<circle cx="47.4" cy="132.5" r="1.4" fill="#727272"/>
<circle cx="46.4" cy="134.4" r="1.4" fill="#717171"/>
<circle cx="47.8" cy="132.2" r="1.4" fill="#717171"/>
<circle cx="47.5" cy="132.7" r="1.4" fill="#717171"/>
<circle cx="48.2" cy="131.6" r="1.4" fill="#717171"/>
<circle cx="47.5" cy="133.1" r="1.4" fill="#707070"/>
<circle cx="45.6" cy="136.3" r="1.4" fill="#707070"/>
<circle cx="46.5" cy="134.9" r="1.4" fill="#707070"/>
<circle cx="48.1" cy="132.4" r="1.4" fill="#707070"/>
<circle cx="47.7" cy="133.1" r="1.4" fill="#707070"/>
<circle cx="47.7" cy="133.1" r="1.4" fill="#707070"/>
<circle cx="46.9" cy="134.7" r="1.4" fill="#707070"/>
<circle cx="46.0" cy="136.3" r="1.4" fill="#6f6f6f"/>
<circle cx="46.1" cy="136.2" r="1.4" fill="#6f6f6f"/>
<circle cx="47.3" cy="134.3" r="1.4" fill="#6f6f6f"/>
<circle cx="46.3" cy="136.1" r="1.4" fill="#6f6f6f"/>
<circle cx="47.0" cy="135.3" r="1.4" fill="#6e6e6e"/>
<circle cx="47.6" cy="134.4" r="1.4" fill="#6e6e6e"/>
<circle cx="46.3" cy="137.1" r="1.4" fill="#6e6e6e"/>
<circle cx="47.5" cy="135.3" r="1.4" fill="#6d6d6d"/>
<circle cx="48.0" cy="135.2" r="1.4" fill="#6c6c6c"/>
<circle cx="48.6" cy="134.7" r="1.4" fill="#6b6b6b"/>
<circle cx="48.8" cy="134.9" r="1.4" fill="#6a6a6a"/>
<circle cx="47.6" cy="137.0" r="1.4" fill="#6a6a6a"/>
<circle cx="48.2" cy="136.0" r="1.4" fill="#6a6a6a"/>
<circle cx="49.0" cy="134.8" r="1.4" fill="#6a6a6a"/>
<circle cx="49.5" cy="134.2" r="1.4" fill="#6a6a6a"/>
<circle cx="50.6" cy="133.0" r="1.4" fill="#696969"/>
<circle cx="49.5" cy="135.2" r="1.4" fill="#686868"/>
<circle cx="48.5" cy="136.9" r="1.4" fill="#686868"/>
<circle cx="48.3" cy="137.5" r="1.4" fill="#686868"/>
<circle cx="48.3" cy="137.5" r="1.4" fill="#686868"/>
<circle cx="50.8" cy="133.3" r="1.4" fill="#686868"/>
<circle cx="48.3" cy="138.0" r="1.4" fill="#676767"/>
<circle cx="51.1" cy="133.6" r="1.4" fill="#666666"/>
<circle cx="50.4" cy="134.8" r="1.4" fill="#666666"/>
<circle cx="51.3" cy="133.7" r="1.4" fill="#666666"/>
<circle cx="49.9" cy="136.3" r="1.4" fill="#656565"/>
<circle cx="51.6" cy="134.0" r="1.4" fill="#646464"/>
<circle cx="51.2" cy="135.6" r="1.4" fill="#636363"/>
<circle cx="51.6" cy="135.1" r="1.4" fill="#636363"/>
<circle cx="51.5" cy="135.4" r="1.4" fill="#636363"/>
<circle cx="51.6" cy="135.4" r="1.4" fill="#626262"/>
<circle cx="50.9" cy="137.1" r="1.4" fill="#626262"/>
<circle cx="49.7" cy="139.2" r="1.4" fill="#626262"/>
<circle cx="50.0" cy="138.7" r="1.4" fill="#626262"/>
<circle cx="50.2" cy="138.6" r="1.4" fill="#616161"/>
<circle cx="49.9" cy="139.3" r="1.4" fill="#616161"/>
<circle cx="52.9" cy="134.3" r="1.4" fill="#616161"/>
<circle cx="52.4" cy="135.4" r="1.4" fill="#606060"/>
<circle cx="52.8" cy="134.8" r="1.4" fill="#606060"/>
<circle cx="51.8" cy="136.5" r="1.4" fill="#606060"/>
<circle cx="51.7" cy="136.9" r="1.4" fill="#606060"/>
<circle cx="50.6" cy="139.0" r="1.4" fill="#5f5f5f"/>
<circle cx="53.0" cy="135.4" r="1.4" fill="#5f5f5f"/>
<circle cx="53.1" cy="135.3" r="1.4" fill="#5f5f5f"/>
<circle cx="52.3" cy="136.8" r="1.4" fill="#5e5e5e"/>
<circle cx="50.9" cy="139.3" r="1.4" fill="#5e5e5e"/>
<circle cx="52.4" cy="136.9" r="1.4" fill="#5e5e5e"/>
<circle cx="51.1" cy="139.4" r="1.4" fill="#5e5e5e"/>
<circle cx="52.7" cy="137.2" r="1.4" fill="#5d5d5d"/>
<circle cx="52.0" cy="138.5" r="1.4" fill="#5d5d5d"/>
<circle cx="52.4" cy="137.8" r="1.4" fill="#5d5d5d"/>
<circle cx="51.0" cy="140.5" r="1.4" fill="#5c5c5c"/>
<circle cx="51.4" cy="140.2" r="1.4" fill="#5c5c5c"/>
<circle cx="52.4" cy="138.8" r="1.4" fill="#5b5b5b"/>
<circle cx="52.0" cy="139.6" r="1.4" fill="#5b5b5b"/>
<circle cx="54.4" cy="135.4" r="1.4" fill="#5b5b5b"/>
<circle cx="54.4" cy="135.9" r="1.4" fill="#5a5a5a"/>
<circle cx="53.5" cy="137.5" r="1.4" fill="#5a5a5a"/>
<circle cx="51.6" cy="140.8" r="1.4" fill="#5a5a5a"/>
<circle cx="51.5" cy="141.2" r="1.4" fill="#5a5a5a"/>
<circle cx="54.9" cy="136.1" r="1.4" fill="#595959"/>
<circle cx="54.3" cy="137.5" r="1.4" fill="#585858"/>
<circle cx="53.2" cy="139.8" r="1.4" fill="#585858"/>
<circle cx="53.2" cy="139.8" r="1.4" fill="#575757"/>
<circle cx="53.0" cy="140.3" r="1.4" fill="#575757"/>
<circle cx="54.3" cy="138.2" r="1.4" fill="#575757"/>
<circle cx="54.6" cy="137.7" r="1.4" fill="#575757"/>
<circle cx="54.6" cy="138.2" r="1.4" fill="#565656"/>
<circle cx="52.7" cy="141.5" r="1.4" fill="#565656"/>
<circle cx="52.4" cy="142.5" r="1.4" fill="#565656"/>
<circle cx="55.7" cy="136.9" r="1.4" fill="#555555"/>
<circle cx="54.9" cy="139.2" r="1.4" fill="#545454"/>
<circle cx="56.2" cy="137.0" r="1.4" fill="#545454"/>
<circle cx="55.0" cy="139.3" r="1.4" fill="#545454"/>
<circle cx="56.1" cy="137.6" r="1.4" fill="#535353"/>
<circle cx="52.9" cy="143.2" r="1.4" fill="#535353"/>
<circle cx="55.7" cy="138.4" r="1.4" fill="#535353"/>
<circle cx="55.7" cy="138.6" r="1.4" fill="#535353"/>
<circle cx="54.7" cy="140.3" r="1.4" fill="#535353"/>
<circle cx="53.1" cy="143.2" r="1.4" fill="#535353"/>
<circle cx="56.0" cy="138.2" r="1.4" fill="#535353"/>
<circle cx="54.7" cy="140.5" r="1.4" fill="#535353"/>
<circle cx="55.3" cy="139.9" r="1.4" fill="#525252"/>
<circle cx="56.3" cy="138.3" r="1.4" fill="#525252"/>
<circle cx="53.4" cy="143.5" r="1.4" fill="#515151"/>
<circle cx="56.7" cy="138.2" r="1.4" fill="#515151"/>
<circle cx="54.7" cy="141.9" r="1.4" fill="#515151"/>
<circle cx="56.0" cy="139.9" r="1.4" fill="#505050"/>
<circle cx="53.7" cy="144.1" r="1.4" fill="#505050"/>
<circle cx="54.7" cy="142.5" r="1.4" fill="#505050"/>
<circle cx="55.0" cy="142.1" r="1.4" fill="#505050"/>
<circle cx="54.0" cy="143.9" r="1.4" fill="#4f4f4f"/>
<circle cx="54.6" cy="142.9" r="1.4" fill="#4f4f4f"/>
<circle cx="54.1" cy="144.1" r="1.4" fill="#4f4f4f"/>
<circle cx="56.1" cy="141.2" r="1.4" fill="#4e4e4e"/>
<circle cx="56.3" cy="140.9" r="1.4" fill="#4e4e4e"/>
<circle cx="57.0" cy="139.9" r="1.4" fill="#4e4e4e"/>
<circle cx="55.0" cy="143.8" r="1.4" fill="#4d4d4d"/>
<circle cx="55.3" cy="143.4" r="1.4" fill="#4d4d4d"/>
<circle cx="56.1" cy="142.5" r="1.4" fill="#4c4c4c"/>
<circle cx="56.4" cy="142.5" r="1.4" fill="#4b4b4b"/>
<circle cx="55.4" cy="144.3" r="1.4" fill="#4b4b4b"/>
<circle cx="55.6" cy="144.1" r="1.4" fill="#4b4b4b"/>
<circle cx="56.2" cy="144.4" r="1.4" fill="#4a4a4a"/>
<circle cx="57.2" cy="144.4" r="1.4" fill="#4a4a4a"/>
<circle cx="55.9" cy="144.5" r="1.4" fill="#4a4a4a"/>
<circle cx="50.9" cy="145.9" r="1.4" fill="#4a4a4a"/>
<circle cx="50.9" cy="146.6" r="1.4" fill="#4a4a4a"/>
<circle cx="52.0" cy="146.2" r="1.4" fill="#4a4a4a"/>
<circle cx="50.8" cy="148.1" r="1.4" fill="#4a4a4a"/>
<circle cx="50.6" cy="148.7" r="1.4" fill="#4a4a4a"/>
<circle cx="53.0" cy="145.9" r="1.4" fill="#4a4a4a"/>
<circle cx="50.2" cy="149.5" r="1.4" fill="#4a4a4a"/>
<circle cx="51.2" cy="148.7" r="1.4" fill="#4a4a4a"/>
<circle cx="53.2" cy="146.4" r="1.4" fill="#4a4a4a"/>
<circle cx="49.9" cy="150.9" r="1.4" fill="#4a4a4a"/>
<circle cx="49.7" cy="151.2" r="1.4" fill="#4a4a4a"/>
<circle cx="52.8" cy="147.4" r="1.4" fill="#4a4a4a"/>
<circle cx="51.0" cy="150.5" r="1.4" fill="#4a4a4a"/>
<circle cx="52.6" cy="148.7" r="1.4" fill="#4a4a4a"/>
<circle cx="54.6" cy="146.5" r="1.4" fill="#4a4a4a"/>
<circle cx="55.3" cy="146.1" r="1.4" fill="#4a4a4a"/>
<circle cx="54.9" cy="147.7" r="1.4" fill="#4a4a4a"/>
<circle cx="55.5" cy="147.4" r="1.4" fill="#4a4a4a"/>
<circle cx="54.6" cy="149.3" r="1.4" fill="#4a4a4a"/>
<circle cx="54.7" cy="149.9" r="1.4" fill="#4a4a4a"/>
<circle cx="56.2" cy="148.4" r="1.4" fill="#4a4a4a"/>
<circle cx="55.7" cy="149.4" r="1.4" fill="#4a4a4a"/>
<circle cx="55.3" cy="150.1" r="1.4" fill="#4a4a4a"/>
<circle cx="55.9" cy="149.8" r="1.4" fill="#4a4a4a"/>
<circle cx="56.1" cy="150.7" r="1.4" fill="#4a4a4a"/>
<circle cx="57.1" cy="141.0" r="1.4" fill="#292929"/>
<circle cx="58.0" cy="142.4" r="1.4" fill="#282828"/>
<circle cx="56.9" cy="145.5" r="1.4" fill="#272727"/>
<circle cx="57.5" cy="146.0" r="1.4" fill="#272727"/>
<circle cx="56.5" cy="147.1" r="1.4" fill="#262626"/>
<circle cx="60.5" cy="145.0" r="1.4" fill="#262626"/>
<circle cx="57.1" cy="148.4" r="1.4" fill="#252525"/>
<circle cx="58.4" cy="147.8" r="1.4" fill="#252525"/>
<circle cx="63.3" cy="144.7" r="1.4" fill="#252525"/>
<circle cx="60.9" cy="147.0" r="1.4" fill="#252525"/>
<circle cx="62.7" cy="146.0" r="1.4" fill="#252525"/>
<circle cx="61.8" cy="146.8" r="1.4" fill="#252525"/>
<circle cx="60.5" cy="148.1" r="1.4" fill="#242424"/>
<circle cx="57.5" cy="150.1" r="1.4" fill="#242424"/>
<circle cx="58.8" cy="149.4" r="1.4" fill="#242424"/>
<circle cx="64.9" cy="146.3" r="1.4" fill="#242424"/>
<circle cx="61.9" cy="149.6" r="1.4" fill="#232323"/>
<circle cx="56.3" cy="153.4" r="1.4" fill="#232323"/>
<circle cx="66.4" cy="146.9" r="1.4" fill="#232323"/>
<circle cx="67.6" cy="146.1" r="1.4" fill="#232323"/>
<circle cx="67.0" cy="146.8" r="1.4" fill="#232323"/>
<circle cx="57.4" cy="153.3" r="1.4" fill="#232323"/>
<circle cx="62.2" cy="150.2" r="1.4" fill="#232323"/>
<circle cx="60.8" cy="152.1" r="1.4" fill="#222222"/>
<circle cx="68.9" cy="146.9" r="1.4" fill="#222222"/>
<circle cx="58.8" cy="153.8" r="1.4" fill="#222222"/>
<circle cx="59.4" cy="153.6" r="1.4" fill="#222222"/>
<circle cx="67.3" cy="148.7" r="1.4" fill="#222222"/>
<circle cx="68.1" cy="148.5" r="1.4" fill="#222222"/>
<circle cx="67.9" cy="148.6" r="1.4" fill="#222222"/>
<circle cx="62.4" cy="152.8" r="1.4" fill="#212121"/>
<circle cx="61.1" cy="153.9" r="1.4" fill="#212121"/>
<circle cx="60.1" cy="156.6" r="1.4" fill="#202020"/>
<circle cx="64.0" cy="155.0" r="1.4" fill="#202020"/>
<circle cx="66.1" cy="153.6" r="1.4" fill="#202020"/>
<circle cx="60.6" cy="158.3" r="1.4" fill="#1f1f1f"/>
<circle cx="61.5" cy="158.4" r="1.4" fill="#1f1f1f"/>
<circle cx="57.7" cy="161.1" r="1.4" fill="#1f1f1f"/>
<circle cx="64.8" cy="156.6" r="1.4" fill="#1f1f1f"/>
<circle cx="62.3" cy="158.5" r="1.4" fill="#1f1f1f"/>
<circle cx="66.5" cy="156.2" r="1.4" fill="#1e1e1e"/>
<circle cx="68.6" cy="155.0" r="1.4" fill="#1e1e1e"/>
<circle cx="59.5" cy="161.1" r="1.4" fill="#1e1e1e"/>
<circle cx="69.2" cy="154.7" r="1.4" fill="#1e1e1e"/>
<circle cx="62.7" cy="159.7" r="1.4" fill="#1e1e1e"/>
<circle cx="60.2" cy="161.4" r="1.4" fill="#1e1e1e"/>
<circle cx="69.0" cy="155.7" r="1.4" fill="#1e1e1e"/>
<circle cx="68.3" cy="156.3" r="1.4" fill="#1e1e1e"/>
<circle cx="67.5" cy="156.9" r="1.4" fill="#1e1e1e"/>
<circle cx="66.3" cy="158.3" r="1.4" fill="#1d1d1d"/>
<circle cx="63.3" cy="161.5" r="1.4" fill="#1d1d1d"/>
<circle cx="67.7" cy="159.5" r="1.4" fill="#1c1c1c"/>
<circle cx="66.3" cy="160.6" r="1.4" fill="#1c1c1c"/>
<circle cx="65.7" cy="161.5" r="1.4" fill="#1c1c1c"/>
<circle cx="68.1" cy="160.1" r="1.4" fill="#1c1c1c"/>
<circle cx="75.4" cy="164.1" r="1.4" fill="#191919"/>
<circle cx="72.0" cy="167.1" r="1.4" fill="#191919"/>
<circle cx="71.1" cy="167.9" r="1.4" fill="#191919"/>
<circle cx="75.2" cy="165.3" r="1.4" fill="#191919"/>
<circle cx="75.4" cy="165.3" r="1.4" fill="#191919"/>
<circle cx="77.4" cy="164.3" r="1.4" fill="#191919"/>
<circle cx="76.4" cy="165.2" r="1.4" fill="#191919"/>
<circle cx="77.3" cy="165.7" r="1.4" fill="#191919"/>
<circle cx="70.6" cy="171.2" r="1.4" fill="#191919"/>
<circle cx="79.5" cy="164.7" r="1.4" fill="#191919"/>
<circle cx="73.7" cy="169.5" r="1.4" fill="#191919"/>
<circle cx="79.3" cy="166.0" r="1.4" fill="#181818"/>
<circle cx="80.1" cy="165.7" r="1.4" fill="#181818"/>
<circle cx="75.6" cy="169.3" r="1.4" fill="#181818"/>
<circle cx="72.3" cy="172.3" r="1.4" fill="#181818"/>
<circle cx="73.8" cy="171.4" r="1.4" fill="#181818"/>
<circle cx="72.3" cy="172.6" r="1.4" fill="#181818"/>
<circle cx="76.6" cy="169.5" r="1.4" fill="#181818"/>
<circle cx="74.5" cy="171.1" r="1.4" fill="#181818"/>
<circle cx="75.0" cy="170.8" r="1.4" fill="#181818"/>
<circle cx="81.0" cy="167.4" r="1.4" fill="#181818"/>
<circle cx="78.2" cy="170.5" r="1.4" fill="#181818"/>
<circle cx="79.8" cy="169.5" r="1.4" fill="#181818"/>
<circle cx="77.3" cy="171.7" r="1.4" fill="#181818"/>
<circle cx="80.9" cy="169.1" r="1.4" fill="#181818"/>
<circle cx="80.6" cy="169.4" r="1.4" fill="#181818"/>
<circle cx="79.7" cy="170.2" r="1.4" fill="#181818"/>
<circle cx="77.1" cy="172.4" r="1.4" fill="#181818"/>
<circle cx="74.6" cy="174.3" r="1.4" fill="#181818"/>
<circle cx="76.8" cy="172.8" r="1.4" fill="#181818"/>
<circle cx="79.1" cy="171.9" r="1.4" fill="#171717"/>
<circle cx="79.4" cy="171.9" r="1.4" fill="#171717"/>
<circle cx="81.0" cy="170.9" r="1.4" fill="#171717"/>
<circle cx="76.5" cy="174.7" r="1.4" fill="#171717"/>
<circle cx="77.5" cy="174.1" r="1.4" fill="#171717"/>
<circle cx="77.0" cy="174.6" r="1.4" fill="#171717"/>
<circle cx="81.4" cy="171.2" r="1.4" fill="#171717"/>
<circle cx="76.9" cy="175.2" r="1.4" fill="#171717"/>
<circle cx="80.7" cy="172.5" r="1.4" fill="#171717"/>
<circle cx="73.4" cy="178.3" r="1.4" fill="#171717"/>
<circle cx="77.5" cy="175.3" r="1.4" fill="#171717"/>
<circle cx="82.2" cy="171.9" r="1.4" fill="#171717"/>
<circle cx="73.8" cy="178.7" r="1.4" fill="#171717"/>
<circle cx="73.0" cy="179.5" r="1.4" fill="#171717"/>
<circle cx="85.0" cy="170.5" r="1.4" fill="#171717"/>
<circle cx="84.3" cy="171.2" r="1.4" fill="#171717"/>
<circle cx="84.5" cy="171.3" r="1.4" fill="#171717"/>
<circle cx="76.2" cy="177.8" r="1.4" fill="#171717"/>
<circle cx="76.1" cy="178.6" r="1.4" fill="#171717"/>
<circle cx="78.0" cy="177.2" r="1.4" fill="#171717"/>
<circle cx="71.9" cy="182.0" r="1.4" fill="#171717"/>
<circle cx="75.8" cy="179.0" r="1.4" fill="#171717"/>
<circle cx="80.4" cy="175.8" r="1.4" fill="#171717"/>
<circle cx="79.8" cy="176.3" r="1.4" fill="#171717"/>
<circle cx="83.7" cy="173.9" r="1.4" fill="#161616"/>
<circle cx="79.4" cy="178.4" r="1.4" fill="#161616"/>
<circle cx="80.1" cy="177.9" r="1.4" fill="#161616"/>
<circle cx="72.9" cy="183.7" r="1.4" fill="#161616"/>
<circle cx="78.4" cy="179.7" r="1.4" fill="#161616"/>
<circle cx="81.9" cy="177.2" r="1.4" fill="#161616"/>
<circle cx="86.0" cy="174.7" r="1.4" fill="#161616"/>
<circle cx="73.0" cy="184.9" r="1.4" fill="#161616"/>
<circle cx="83.3" cy="176.9" r="1.4" fill="#161616"/>
<circle cx="84.1" cy="176.4" r="1.4" fill="#161616"/>
<circle cx="74.5" cy="183.9" r="1.4" fill="#161616"/>
<circle cx="83.0" cy="177.5" r="1.4" fill="#161616"/>
<circle cx="84.4" cy="176.7" r="1.4" fill="#161616"/>
<circle cx="85.0" cy="176.4" r="1.4" fill="#161616"/>
<circle cx="74.4" cy="184.7" r="1.4" fill="#161616"/>
<circle cx="79.7" cy="180.7" r="1.4" fill="#161616"/>
<circle cx="84.9" cy="177.2" r="1.4" fill="#161616"/>
<circle cx="85.9" cy="176.5" r="1.4" fill="#161616"/>
<circle cx="85.9" cy="176.6" r="1.4" fill="#161616"/>
<circle cx="80.7" cy="180.8" r="1.4" fill="#161616"/>
<circle cx="74.7" cy="185.4" r="1.4" fill="#161616"/>
<circle cx="84.4" cy="178.1" r="1.4" fill="#161616"/>
<circle cx="75.0" cy="185.7" r="1.4" fill="#161616"/>
<circle cx="76.2" cy="185.2" r="1.4" fill="#151515"/>
<circle cx="78.9" cy="183.3" r="1.4" fill="#151515"/>
<circle cx="83.5" cy="180.4" r="1.4" fill="#151515"/>
<circle cx="77.9" cy="184.9" r="1.4" fill="#151515"/>
<circle cx="82.9" cy="181.1" r="1.4" fill="#151515"/>
<circle cx="84.3" cy="180.0" r="1.4" fill="#151515"/>
<circle cx="87.0" cy="178.0" r="1.4" fill="#151515"/>
<circle cx="79.7" cy="183.9" r="1.4" fill="#151515"/>
<circle cx="77.1" cy="186.2" r="1.4" fill="#151515"/>
<circle cx="86.0" cy="179.6" r="1.4" fill="#151515"/>
<circle cx="75.8" cy="187.5" r="1.4" fill="#151515"/>
<circle cx="86.9" cy="178.9" r="1.4" fill="#151515"/>
<circle cx="77.1" cy="186.5" r="1.4" fill="#151515"/>
<circle cx="81.7" cy="183.6" r="1.4" fill="#151515"/>
<circle cx="85.2" cy="181.0" r="1.4" fill="#151515"/>
<circle cx="89.2" cy="178.1" r="1.4" fill="#151515"/>
<circle cx="87.9" cy="179.4" r="1.4" fill="#151515"/>
<circle cx="78.5" cy="187.2" r="1.4" fill="#151515"/>
<circle cx="76.2" cy="189.0" r="1.4" fill="#151515"/>
<circle cx="77.7" cy="188.1" r="1.4" fill="#151515"/>
<circle cx="76.5" cy="189.5" r="1.4" fill="#151515"/>
<circle cx="90.3" cy="179.0" r="1.4" fill="#151515"/>
<circle cx="87.3" cy="181.3" r="1.4" fill="#151515"/>
<circle cx="76.3" cy="189.8" r="1.4" fill="#151515"/>
<circle cx="77.6" cy="189.2" r="1.4" fill="#151515"/>
<circle cx="87.4" cy="182.0" r="1.4" fill="#151515"/>
<circle cx="87.6" cy="181.8" r="1.4" fill="#151515"/>
<circle cx="88.4" cy="181.3" r="1.4" fill="#151515"/>
<circle cx="90.3" cy="180.0" r="1.4" fill="#151515"/>
<circle cx="87.8" cy="182.1" r="1.4" fill="#141414"/>
<circle cx="82.7" cy="186.0" r="1.4" fill="#141414"/>
<circle cx="88.5" cy="181.6" r="1.4" fill="#141414"/>
<circle cx="77.3" cy="190.4" r="1.4" fill="#141414"/>
<circle cx="83.5" cy="185.6" r="1.4" fill="#141414"/>
<circle cx="84.4" cy="185.0" r="1.4" fill="#141414"/>
<circle cx="81.2" cy="187.6" r="1.4" fill="#141414"/>
<circle cx="81.8" cy="187.6" r="1.4" fill="#141414"/>
<circle cx="87.9" cy="182.9" r="1.4" fill="#141414"/>
<circle cx="86.9" cy="183.7" r="1.4" fill="#141414"/>
<circle cx="87.9" cy="183.0" r="1.4" fill="#141414"/>
<circle cx="86.0" cy="184.8" r="1.4" fill="#141414"/>
<circle cx="85.2" cy="185.6" r="1.4" fill="#141414"/>
<circle cx="81.0" cy="188.8" r="1.4" fill="#141414"/>
<circle cx="86.0" cy="185.1" r="1.4" fill="#141414"/>
<circle cx="79.2" cy="190.4" r="1.4" fill="#141414"/>
<circle cx="87.5" cy="184.0" r="1.4" fill="#141414"/>
<circle cx="89.5" cy="183.1" r="1.4" fill="#141414"/>
<circle cx="89.9" cy="182.9" r="1.4" fill="#141414"/>
<circle cx="89.9" cy="183.2" r="1.4" fill="#141414"/>
<circle cx="88.7" cy="184.6" r="1.4" fill="#141414"/>
<circle cx="78.4" cy="192.7" r="1.4" fill="#141414"/>
<circle cx="91.2" cy="183.4" r="1.4" fill="#141414"/>
<circle cx="80.9" cy="191.5" r="1.4" fill="#141414"/>
<circle cx="89.6" cy="184.9" r="1.4" fill="#141414"/>
<circle cx="85.3" cy="188.4" r="1.4" fill="#141414"/>
<circle cx="86.1" cy="187.8" r="1.4" fill="#141414"/>
<circle cx="92.0" cy="183.3" r="1.4" fill="#141414"/>
<circle cx="90.0" cy="185.1" r="1.4" fill="#141414"/>
<circle cx="79.0" cy="193.7" r="1.4" fill="#141414"/>
<circle cx="90.6" cy="185.3" r="1.4" fill="#141414"/>
<circle cx="84.0" cy="190.5" r="1.4" fill="#141414"/>
<circle cx="85.2" cy="189.8" r="1.4" fill="#141414"/>
<circle cx="80.6" cy="194.6" r="1.4" fill="#131313"/>
<circle cx="82.3" cy="193.4" r="1.4" fill="#131313"/>
<circle cx="88.9" cy="188.5" r="1.4" fill="#131313"/>
<circle cx="92.5" cy="185.7" r="1.4" fill="#131313"/>
<circle cx="90.9" cy="187.3" r="1.4" fill="#131313"/>
<circle cx="93.1" cy="186.1" r="1.4" fill="#131313"/>
<circle cx="89.8" cy="189.1" r="1.4" fill="#131313"/>
<circle cx="92.1" cy="188.0" r="1.4" fill="#131313"/>
<circle cx="87.5" cy="192.2" r="1.4" fill="#131313"/>
<circle cx="82.3" cy="196.3" r="1.4" fill="#131313"/>
<circle cx="87.2" cy="193.4" r="1.4" fill="#131313"/>
<circle cx="84.2" cy="195.9" r="1.4" fill="#131313"/>
<circle cx="84.2" cy="196.0" r="1.4" fill="#131313"/>
<circle cx="92.6" cy="189.8" r="1.4" fill="#131313"/>
<circle cx="83.9" cy="196.7" r="1.4" fill="#121212"/>
<circle cx="89.8" cy="192.3" r="1.4" fill="#121212"/>
<circle cx="91.5" cy="191.0" r="1.4" fill="#121212"/>
<circle cx="89.6" cy="192.9" r="1.4" fill="#121212"/>
<circle cx="88.5" cy="193.8" r="1.4" fill="#121212"/>
<circle cx="87.1" cy="195.3" r="1.4" fill="#121212"/>
<circle cx="88.3" cy="194.4" r="1.4" fill="#121212"/>
<circle cx="86.0" cy="196.6" r="1.4" fill="#121212"/>
<circle cx="92.5" cy="191.6" r="1.4" fill="#121212"/>
<circle cx="94.5" cy="190.2" r="1.4" fill="#121212"/>
<circle cx="90.6" cy="194.1" r="1.4" fill="#121212"/>
<circle cx="88.9" cy="195.7" r="1.4" fill="#121212"/>
<circle cx="91.6" cy="193.9" r="1.4" fill="#121212"/>
<circle cx="92.4" cy="196.2" r="1.4" fill="#111111"/>
<circle cx="93.9" cy="195.5" r="1.4" fill="#111111"/>
<circle cx="95.0" cy="194.7" r="1.4" fill="#111111"/>
<circle cx="93.6" cy="195.8" r="1.4" fill="#111111"/>
<circle cx="63.9" cy="140.3" r="1.4" fill="#111111"/>
<circle cx="62.1" cy="143.7" r="1.4" fill="#111111"/>
<circle cx="65.6" cy="145.4" r="1.4" fill="#111111"/>
<circle cx="70.2" cy="148.9" r="1.4" fill="#111111"/>
<circle cx="67.9" cy="145.4" r="1.4" fill="#111111"/>
<circle cx="59.6" cy="161.6" r="1.4" fill="#111111"/>
<circle cx="70.5" cy="163.1" r="1.4" fill="#111111"/>
<circle cx="74.1" cy="161.6" r="1.4" fill="#111111"/>
<circle cx="77.8" cy="155.8" r="1.4" fill="#111111"/>
<circle cx="66.8" cy="176.9" r="1.4" fill="#111111"/>
<circle cx="85.8" cy="164.6" r="1.4" fill="#111111"/>
<circle cx="87.2" cy="171.1" r="1.4" fill="#111111"/>
<circle cx="92.3" cy="172.6" r="1.4" fill="#111111"/>
<circle cx="94.5" cy="176.9" r="1.4" fill="#111111"/>
<circle cx="98.1" cy="182.8" r="1.4" fill="#111111"/>
<circle cx="96.7" cy="187.1" r="1.4" fill="#111111"/>
<circle cx="99.6" cy="191.5" r="1.4" fill="#111111"/>
<circle cx="106.1" cy="192.2" r="1.4" fill="#111111"/>
<circle cx="106.1" cy="196.6" r="1.4" fill="#111111"/>
<circle cx="98.9" cy="196.6" r="1.4" fill="#111111"/>
<line x1="63.5" y1="202.3" x2="63.5" y2="119" stroke="#111" stroke-width="0.75" stroke-dasharray="2,1.2"/>
</g>
<rect x="15" y="119" width="129.6" height="83.30000000000001" fill="none" stroke="#7a7a7a" stroke-width="0.7"/>
<line x1="19.60" y1="202.3" x2="19.60" y2="203.60000000000002" stroke="#7a7a7a" stroke-width="0.6"/>
<text x="19.60" y="208.4" font-size="5.3" text-anchor="middle" textLength="10.48" lengthAdjust="spacingAndGlyphs">0.010</text>
<line x1="37.77" y1="202.3" x2="37.77" y2="203.60000000000002" stroke="#7a7a7a" stroke-width="0.6"/>
<text x="37.77" y="208.4" font-size="5.3" text-anchor="middle" textLength="10.48" lengthAdjust="spacingAndGlyphs">0.015</text>
<line x1="55.93" y1="202.3" x2="55.93" y2="203.60000000000002" stroke="#7a7a7a" stroke-width="0.6"/>
<text x="55.93" y="208.4" font-size="5.3" text-anchor="middle" textLength="10.48" lengthAdjust="spacingAndGlyphs">0.020</text>
<line x1="74.10" y1="202.3" x2="74.10" y2="203.60000000000002" stroke="#7a7a7a" stroke-width="0.6"/>
<text x="74.10" y="208.4" font-size="5.3" text-anchor="middle" textLength="10.48" lengthAdjust="spacingAndGlyphs">0.025</text>
<line x1="92.27" y1="202.3" x2="92.27" y2="203.60000000000002" stroke="#7a7a7a" stroke-width="0.6"/>
<text x="92.27" y="208.4" font-size="5.3" text-anchor="middle" textLength="10.48" lengthAdjust="spacingAndGlyphs">0.030</text>
<line x1="110.43" y1="202.3" x2="110.43" y2="203.60000000000002" stroke="#7a7a7a" stroke-width="0.6"/>
<text x="110.43" y="208.4" font-size="5.3" text-anchor="middle" textLength="10.48" lengthAdjust="spacingAndGlyphs">0.035</text>
<line x1="128.60" y1="202.3" x2="128.60" y2="203.60000000000002" stroke="#7a7a7a" stroke-width="0.6"/>
<text x="128.60" y="208.4" font-size="5.3" text-anchor="middle" textLength="10.48" lengthAdjust="spacingAndGlyphs">0.040</text>
<line x1="13.7" y1="196.40" x2="15" y2="196.40" stroke="#7a7a7a" stroke-width="0.6"/>
<text x="12.3" y="198.10" font-size="5.3" text-anchor="end" textLength="5.82" lengthAdjust="spacingAndGlyphs">0.5</text>
<line x1="13.7" y1="181.66" x2="15" y2="181.66" stroke="#7a7a7a" stroke-width="0.6"/>
<text x="12.3" y="183.36" font-size="5.3" text-anchor="end" textLength="5.82" lengthAdjust="spacingAndGlyphs">0.6</text>
<line x1="13.7" y1="166.92" x2="15" y2="166.92" stroke="#7a7a7a" stroke-width="0.6"/>
<text x="12.3" y="168.62" font-size="5.3" text-anchor="end" textLength="5.82" lengthAdjust="spacingAndGlyphs">0.7</text>
<line x1="13.7" y1="152.18" x2="15" y2="152.18" stroke="#7a7a7a" stroke-width="0.6"/>
<text x="12.3" y="153.88" font-size="5.3" text-anchor="end" textLength="5.82" lengthAdjust="spacingAndGlyphs">0.8</text>
<line x1="13.7" y1="137.44" x2="15" y2="137.44" stroke="#7a7a7a" stroke-width="0.6"/>
<text x="12.3" y="139.14" font-size="5.3" text-anchor="end" textLength="5.82" lengthAdjust="spacingAndGlyphs">0.9</text>
<line x1="13.7" y1="122.70" x2="15" y2="122.70" stroke="#7a7a7a" stroke-width="0.6"/>
<text x="12.3" y="124.40" font-size="5.3" text-anchor="end" textLength="5.82" lengthAdjust="spacingAndGlyphs">1.0</text>
<text x="79.8" y="116.7" font-size="4.8" text-anchor="middle">MNIST</text>
<text x="79.8" y="213.5" font-size="4.3" text-anchor="middle">A3 Loss</text>
<text x="0" y="0" font-size="4.3" text-anchor="middle" transform="translate(2.0,160.65) rotate(-90)">AUCs</text>
<g clip-path="url(#c5)">
<rect x="206" y="119" width="52.5" height="83.30000000000001" fill="#b3b3b3"/>
<circle cx="206.6" cy="150.0" r="1.4" fill="#a8a8a8"/>
<circle cx="204.7" cy="129.0" r="1.4" fill="#a8a8a8"/>
<circle cx="206.9" cy="169.1" r="1.4" fill="#a5a5a5"/>
<circle cx="207.2" cy="146.6" r="1.4" fill="#a2a2a2"/>
<circle cx="206.3" cy="169.9" r="1.4" fill="#a1a1a1"/>
<circle cx="205.5" cy="173.8" r="1.4" fill="#9f9f9f"/>
<circle cx="208.6" cy="162.0" r="1.4" fill="#9e9e9e"/>
<circle cx="205.7" cy="171.2" r="1.4" fill="#9d9d9d"/>
<circle cx="208.8" cy="168.5" r="1.4" fill="#9d9d9d"/>
<circle cx="208.6" cy="149.2" r="1.4" fill="#9c9c9c"/>
<circle cx="205.2" cy="164.7" r="1.4" fill="#9b9b9b"/>
<circle cx="209.0" cy="164.4" r="1.4" fill="#9b9b9b"/>
<circle cx="206.0" cy="175.2" r="1.4" fill="#9a9a9a"/>
<circle cx="207.8" cy="162.9" r="1.4" fill="#999999"/>
<circle cx="206.7" cy="156.5" r="1.4" fill="#999999"/>
<circle cx="205.9" cy="134.6" r="1.4" fill="#979797"/>
<circle cx="208.1" cy="173.7" r="1.4" fill="#979797"/>
<circle cx="207.1" cy="152.4" r="1.4" fill="#969696"/>
<circle cx="205.3" cy="167.7" r="1.4" fill="#959595"/>
<circle cx="208.0" cy="156.5" r="1.4" fill="#949494"/>
<circle cx="206.7" cy="164.0" r="1.4" fill="#939393"/>
<circle cx="208.8" cy="169.4" r="1.4" fill="#929292"/>
<circle cx="207.2" cy="144.1" r="1.4" fill="#909090"/>
<circle cx="204.8" cy="144.0" r="1.4" fill="#909090"/>
<circle cx="205.5" cy="134.4" r="1.4" fill="#909090"/>
<circle cx="210.1" cy="174.1" r="1.4" fill="#8f8f8f"/>
<circle cx="205.0" cy="128.2" r="1.4" fill="#8e8e8e"/>
<circle cx="206.0" cy="171.5" r="1.4" fill="#8d8d8d"/>
<circle cx="205.4" cy="132.6" r="1.4" fill="#8d8d8d"/>
<circle cx="206.5" cy="148.7" r="1.4" fill="#8c8c8c"/>
<circle cx="205.3" cy="139.2" r="1.4" fill="#8b8b8b"/>
<circle cx="208.9" cy="160.1" r="1.4" fill="#8b8b8b"/>
<circle cx="205.8" cy="138.3" r="1.4" fill="#8a8a8a"/>
<circle cx="208.4" cy="173.3" r="1.4" fill="#898989"/>
<circle cx="210.7" cy="159.5" r="1.4" fill="#888888"/>
<circle cx="209.4" cy="140.0" r="1.4" fill="#888888"/>
<circle cx="208.6" cy="165.5" r="1.4" fill="#888888"/>
<circle cx="205.6" cy="134.7" r="1.4" fill="#888888"/>
<circle cx="210.7" cy="155.9" r="1.4" fill="#878787"/>
<circle cx="204.7" cy="132.0" r="1.4" fill="#878787"/>
<circle cx="210.3" cy="131.4" r="1.4" fill="#868686"/>
<circle cx="210.5" cy="155.6" r="1.4" fill="#858585"/>
<circle cx="209.8" cy="160.9" r="1.4" fill="#838383"/>
<circle cx="207.3" cy="166.6" r="1.4" fill="#838383"/>
<circle cx="210.7" cy="167.0" r="1.4" fill="#818181"/>
<circle cx="205.5" cy="175.0" r="1.4" fill="#808080"/>
<circle cx="207.3" cy="166.7" r="1.4" fill="#7c7c7c"/>
<circle cx="208.2" cy="153.1" r="1.4" fill="#7b7b7b"/>
<circle cx="206.9" cy="146.3" r="1.4" fill="#7b7b7b"/>
<circle cx="210.3" cy="153.8" r="1.4" fill="#7a7a7a"/>
<circle cx="206.4" cy="139.9" r="1.4" fill="#7a7a7a"/>
<circle cx="208.5" cy="150.9" r="1.4" fill="#797979"/>
<circle cx="206.3" cy="158.7" r="1.4" fill="#787878"/>
<circle cx="210.4" cy="142.3" r="1.4" fill="#787878"/>
<circle cx="212.8" cy="176.3" r="1.4" fill="#787878"/>
<circle cx="206.8" cy="136.0" r="1.4" fill="#787878"/>
<circle cx="208.0" cy="127.9" r="1.4" fill="#777777"/>
<circle cx="210.9" cy="146.2" r="1.4" fill="#757575"/>
<circle cx="208.3" cy="165.7" r="1.4" fill="#757575"/>
<circle cx="210.7" cy="145.2" r="1.4" fill="#757575"/>
<circle cx="211.4" cy="164.0" r="1.4" fill="#747474"/>
<circle cx="211.4" cy="167.4" r="1.4" fill="#747474"/>
<circle cx="213.4" cy="146.9" r="1.4" fill="#747474"/>
<circle cx="209.2" cy="167.4" r="1.4" fill="#737373"/>
<circle cx="213.3" cy="162.4" r="1.4" fill="#717171"/>
<circle cx="207.1" cy="133.6" r="1.4" fill="#717171"/>
<circle cx="210.5" cy="167.4" r="1.4" fill="#707070"/>
<circle cx="212.6" cy="153.6" r="1.4" fill="#6f6f6f"/>
<circle cx="208.1" cy="164.2" r="1.4" fill="#6e6e6e"/>
<circle cx="208.6" cy="136.1" r="1.4" fill="#6c6c6c"/>
<circle cx="208.1" cy="143.3" r="1.4" fill="#6a6a6a"/>
<circle cx="209.5" cy="174.2" r="1.4" fill="#696969"/>
<circle cx="210.2" cy="147.9" r="1.4" fill="#666666"/>
<circle cx="213.4" cy="151.2" r="1.4" fill="#656565"/>
<circle cx="215.0" cy="167.3" r="1.4" fill="#656565"/>
<circle cx="211.5" cy="174.5" r="1.4" fill="#626262"/>
<circle cx="208.9" cy="175.7" r="1.4" fill="#626262"/>
<circle cx="210.1" cy="134.9" r="1.4" fill="#616161"/>
<circle cx="210.6" cy="155.8" r="1.4" fill="#5e5e5e"/>
<circle cx="210.9" cy="173.4" r="1.4" fill="#5e5e5e"/>
<circle cx="211.3" cy="153.0" r="1.4" fill="#595959"/>
<circle cx="215.9" cy="163.0" r="1.4" fill="#545454"/>
<circle cx="213.2" cy="169.2" r="1.4" fill="#515151"/>
<circle cx="212.5" cy="148.2" r="1.4" fill="#505050"/>
<circle cx="211.1" cy="175.4" r="1.4" fill="#4f4f4f"/>
<circle cx="211.9" cy="170.6" r="1.4" fill="#4f4f4f"/>
<circle cx="215.6" cy="177.4" r="1.4" fill="#4c4c4c"/>
<circle cx="215.4" cy="160.2" r="1.4" fill="#454545"/>
<circle cx="212.5" cy="173.2" r="1.4" fill="#444444"/>
<circle cx="214.8" cy="171.8" r="1.4" fill="#444444"/>
<circle cx="215.8" cy="170.9" r="1.4" fill="#444444"/>
<circle cx="213.9" cy="168.7" r="1.4" fill="#444444"/>
<circle cx="216.0" cy="171.7" r="1.4" fill="#444444"/>
<circle cx="213.1" cy="149.7" r="1.4" fill="#444444"/>
<circle cx="215.6" cy="176.2" r="1.4" fill="#444444"/>
<circle cx="207" cy="123.3" r="1.4" fill="#555555"/>
<circle cx="215.9" cy="171.6" r="1.4" fill="#1e1e1e"/>
<circle cx="216.1" cy="171.6" r="1.4" fill="#1e1e1e"/>
<circle cx="216.6" cy="171.0" r="1.4" fill="#1e1e1e"/>
<circle cx="217.0" cy="172.4" r="1.4" fill="#1e1e1e"/>
<circle cx="217.0" cy="171.0" r="1.4" fill="#1e1e1e"/>
<circle cx="217.6" cy="170.8" r="1.4" fill="#1d1d1d"/>
<circle cx="217.8" cy="171.4" r="1.4" fill="#1d1d1d"/>
<circle cx="217.9" cy="173.2" r="1.4" fill="#1d1d1d"/>
<circle cx="218.3" cy="172.0" r="1.4" fill="#1d1d1d"/>
<circle cx="218.5" cy="172.1" r="1.4" fill="#1d1d1d"/>
<circle cx="218.8" cy="172.0" r="1.4" fill="#1d1d1d"/>
<circle cx="218.9" cy="173.1" r="1.4" fill="#1d1d1d"/>
<circle cx="219.3" cy="170.7" r="1.4" fill="#1d1d1d"/>
<circle cx="219.5" cy="171.8" r="1.4" fill="#1d1d1d"/>
<circle cx="219.5" cy="170.7" r="1.4" fill="#1d1d1d"/>
<circle cx="219.6" cy="171.8" r="1.4" fill="#1d1d1d"/>
<circle cx="220.2" cy="173.0" r="1.4" fill="#1d1d1d"/>
<circle cx="220.4" cy="170.6" r="1.4" fill="#1d1d1d"/>
<circle cx="221.5" cy="172.8" r="1.4" fill="#1d1d1d"/>
<circle cx="221.8" cy="172.9" r="1.4" fill="#1d1d1d"/>
<circle cx="222.2" cy="171.0" r="1.4" fill="#1c1c1c"/>
<circle cx="222.4" cy="171.0" r="1.4" fill="#1c1c1c"/>
<circle cx="222.7" cy="171.3" r="1.4" fill="#1c1c1c"/>
<circle cx="222.9" cy="170.6" r="1.4" fill="#1c1c1c"/>
<circle cx="223.0" cy="171.1" r="1.4" fill="#1c1c1c"/>
<circle cx="223.0" cy="172.2" r="1.4" fill="#1c1c1c"/>
<circle cx="223.2" cy="172.9" r="1.4" fill="#1c1c1c"/>
<circle cx="223.2" cy="172.9" r="1.4" fill="#1c1c1c"/>
<circle cx="223.6" cy="173.1" r="1.4" fill="#1c1c1c"/>
<circle cx="223.6" cy="170.6" r="1.4" fill="#1c1c1c"/>
<circle cx="223.7" cy="171.4" r="1.4" fill="#1c1c1c"/>
<circle cx="224.1" cy="172.2" r="1.4" fill="#1c1c1c"/>
<circle cx="224.4" cy="171.9" r="1.4" fill="#1c1c1c"/>
<circle cx="224.4" cy="171.9" r="1.4" fill="#1c1c1c"/>
<circle cx="224.4" cy="172.7" r="1.4" fill="#1c1c1c"/>
<circle cx="224.9" cy="171.3" r="1.4" fill="#1c1c1c"/>
<circle cx="225.0" cy="171.9" r="1.4" fill="#1c1c1c"/>
<circle cx="225.1" cy="172.7" r="1.4" fill="#1c1c1c"/>
<circle cx="226.7" cy="172.7" r="1.4" fill="#1b1b1b"/>
<circle cx="227.5" cy="173.0" r="1.4" fill="#1b1b1b"/>
<circle cx="227.6" cy="171.3" r="1.4" fill="#1b1b1b"/>
<circle cx="228.0" cy="171.3" r="1.4" fill="#1b1b1b"/>
<circle cx="228.1" cy="172.0" r="1.4" fill="#1b1b1b"/>
<circle cx="228.3" cy="172.5" r="1.4" fill="#1b1b1b"/>
<circle cx="228.5" cy="171.4" r="1.4" fill="#1b1b1b"/>
<circle cx="228.6" cy="171.8" r="1.4" fill="#1b1b1b"/>
<circle cx="229.5" cy="172.8" r="1.4" fill="#1b1b1b"/>
<circle cx="230.0" cy="171.2" r="1.4" fill="#1b1b1b"/>
<circle cx="230.0" cy="170.7" r="1.4" fill="#1b1b1b"/>
<circle cx="230.7" cy="172.4" r="1.4" fill="#1b1b1b"/>
<circle cx="230.7" cy="172.3" r="1.4" fill="#1b1b1b"/>
<circle cx="232.4" cy="172.4" r="1.4" fill="#1a1a1a"/>
<circle cx="232.5" cy="171.4" r="1.4" fill="#1a1a1a"/>
<circle cx="232.5" cy="171.9" r="1.4" fill="#1a1a1a"/>
<circle cx="232.5" cy="171.4" r="1.4" fill="#1a1a1a"/>
<circle cx="232.7" cy="172.5" r="1.4" fill="#1a1a1a"/>
<circle cx="233.0" cy="171.2" r="1.4" fill="#1a1a1a"/>
<circle cx="233.5" cy="171.1" r="1.4" fill="#1a1a1a"/>
<circle cx="233.5" cy="172.9" r="1.4" fill="#1a1a1a"/>
<circle cx="234.1" cy="172.0" r="1.4" fill="#1a1a1a"/>
<circle cx="235.3" cy="171.3" r="1.4" fill="#1a1a1a"/>
<circle cx="235.5" cy="170.4" r="1.4" fill="#191919"/>
<circle cx="235.6" cy="170.8" r="1.4" fill="#191919"/>
<circle cx="235.7" cy="170.7" r="1.4" fill="#191919"/>
<circle cx="235.7" cy="170.7" r="1.4" fill="#191919"/>
<circle cx="235.8" cy="172.2" r="1.4" fill="#191919"/>
<circle cx="236.0" cy="171.9" r="1.4" fill="#191919"/>
<circle cx="236.2" cy="171.9" r="1.4" fill="#191919"/>
<circle cx="236.2" cy="172.2" r="1.4" fill="#191919"/>
<circle cx="236.3" cy="172.6" r="1.4" fill="#191919"/>
<circle cx="237.2" cy="172.2" r="1.4" fill="#191919"/>
<circle cx="237.3" cy="172.0" r="1.4" fill="#191919"/>
<circle cx="237.8" cy="171.1" r="1.4" fill="#191919"/>
<circle cx="237.9" cy="172.5" r="1.4" fill="#191919"/>
<circle cx="238.0" cy="172.7" r="1.4" fill="#191919"/>
<circle cx="238.8" cy="172.7" r="1.4" fill="#191919"/>
<circle cx="238.8" cy="172.8" r="1.4" fill="#191919"/>
<circle cx="238.9" cy="172.9" r="1.4" fill="#191919"/>
<circle cx="239.3" cy="172.0" r="1.4" fill="#191919"/>
<circle cx="239.7" cy="172.7" r="1.4" fill="#191919"/>
<circle cx="239.8" cy="170.9" r="1.4" fill="#191919"/>
<circle cx="240.0" cy="172.3" r="1.4" fill="#181818"/>
<circle cx="240.1" cy="170.6" r="1.4" fill="#181818"/>
<circle cx="240.6" cy="172.1" r="1.4" fill="#181818"/>
<circle cx="241.0" cy="170.9" r="1.4" fill="#181818"/>
<circle cx="241.0" cy="172.4" r="1.4" fill="#181818"/>
<circle cx="241.4" cy="170.7" r="1.4" fill="#181818"/>
<circle cx="241.6" cy="171.0" r="1.4" fill="#181818"/>
<circle cx="241.9" cy="172.0" r="1.4" fill="#181818"/>
<circle cx="242.5" cy="170.9" r="1.4" fill="#181818"/>
<circle cx="242.7" cy="172.9" r="1.4" fill="#181818"/>
<circle cx="243.5" cy="170.9" r="1.4" fill="#181818"/>
<circle cx="243.8" cy="171.1" r="1.4" fill="#181818"/>
<circle cx="244.4" cy="171.9" r="1.4" fill="#181818"/>
<circle cx="244.9" cy="170.4" r="1.4" fill="#171717"/>
<circle cx="245.4" cy="171.7" r="1.4" fill="#171717"/>
<circle cx="245.9" cy="171.1" r="1.4" fill="#171717"/>
<circle cx="246.4" cy="171.9" r="1.4" fill="#171717"/>
<circle cx="246.6" cy="171.6" r="1.4" fill="#171717"/>
<circle cx="247.1" cy="170.5" r="1.4" fill="#171717"/>
<circle cx="247.1" cy="170.7" r="1.4" fill="#171717"/>
<circle cx="247.1" cy="170.4" r="1.4" fill="#171717"/>
<circle cx="247.2" cy="171.9" r="1.4" fill="#171717"/>
<circle cx="247.5" cy="172.6" r="1.4" fill="#171717"/>
<circle cx="247.9" cy="172.7" r="1.4" fill="#171717"/>
<circle cx="247.9" cy="172.7" r="1.4" fill="#171717"/>
<circle cx="247.9" cy="172.9" r="1.4" fill="#171717"/>
<circle cx="248.2" cy="171.1" r="1.4" fill="#171717"/>
<circle cx="248.3" cy="171.1" r="1.4" fill="#171717"/>
<circle cx="248.5" cy="172.7" r="1.4" fill="#171717"/>
<circle cx="249.1" cy="171.1" r="1.4" fill="#161616"/>
<circle cx="249.3" cy="172.1" r="1.4" fill="#161616"/>
<circle cx="249.3" cy="171.7" r="1.4" fill="#161616"/>
<circle cx="249.8" cy="170.9" r="1.4" fill="#161616"/>
<circle cx="251.0" cy="170.6" r="1.4" fill="#161616"/>
<circle cx="251.1" cy="171.0" r="1.4" fill="#161616"/>
<circle cx="251.1" cy="171.4" r="1.4" fill="#161616"/>
<circle cx="251.5" cy="172.9" r="1.4" fill="#161616"/>
<circle cx="251.7" cy="171.2" r="1.4" fill="#161616"/>
<circle cx="251.7" cy="172.0" r="1.4" fill="#161616"/>
<circle cx="252.2" cy="172.1" r="1.4" fill="#161616"/>
<circle cx="252.4" cy="171.9" r="1.4" fill="#161616"/>
<circle cx="252.4" cy="171.4" r="1.4" fill="#161616"/>
<circle cx="252.5" cy="170.7" r="1.4" fill="#161616"/>
<circle cx="252.6" cy="172.6" r="1.4" fill="#161616"/>
<circle cx="253.2" cy="170.9" r="1.4" fill="#161616"/>
<circle cx="253.3" cy="170.8" r="1.4" fill="#161616"/>
<circle cx="253.4" cy="172.0" r="1.4" fill="#161616"/>
<circle cx="254.4" cy="170.7" r="1.4" fill="#151515"/>
<circle cx="255.0" cy="171.1" r="1.4" fill="#151515"/>
<circle cx="255.2" cy="172.7" r="1.4" fill="#151515"/>
<circle cx="255.3" cy="172.6" r="1.4" fill="#151515"/>
<circle cx="255.5" cy="171.8" r="1.4" fill="#151515"/>
<circle cx="256.0" cy="171.5" r="1.4" fill="#151515"/>
<circle cx="256.0" cy="171.7" r="1.4" fill="#151515"/>
<circle cx="256.2" cy="172.2" r="1.4" fill="#151515"/>
<circle cx="256.3" cy="171.9" r="1.4" fill="#151515"/>
<circle cx="256.6" cy="172.8" r="1.4" fill="#151515"/>
<circle cx="256.8" cy="172.9" r="1.4" fill="#151515"/>
<circle cx="258.7" cy="170.9" r="1.4" fill="#141414"/>
<circle cx="259.5" cy="171.6" r="1.4" fill="#141414"/>
<circle cx="260.1" cy="171.8" r="1.4" fill="#141414"/>
<circle cx="260.1" cy="172.2" r="1.4" fill="#141414"/>
<circle cx="260.7" cy="171.1" r="1.4" fill="#141414"/>
<circle cx="261.6" cy="171.9" r="1.4" fill="#141414"/>
<circle cx="261.6" cy="171.7" r="1.4" fill="#141414"/>
<circle cx="262.7" cy="172.4" r="1.4" fill="#131313"/>
<circle cx="262.7" cy="172.4" r="1.4" fill="#131313"/>
<circle cx="264.4" cy="172.4" r="1.4" fill="#131313"/>
<circle cx="264.5" cy="171.0" r="1.4" fill="#131313"/>
<circle cx="264.9" cy="172.5" r="1.4" fill="#131313"/>
<circle cx="265.9" cy="172.2" r="1.4" fill="#131313"/>
<circle cx="266.4" cy="172.3" r="1.4" fill="#131313"/>
<circle cx="266.8" cy="171.3" r="1.4" fill="#131313"/>
<circle cx="267.0" cy="171.2" r="1.4" fill="#131313"/>
<circle cx="267.4" cy="171.0" r="1.4" fill="#121212"/>
<circle cx="268.3" cy="171.7" r="1.4" fill="#121212"/>
<circle cx="268.4" cy="171.6" r="1.4" fill="#121212"/>
<circle cx="268.9" cy="171.9" r="1.4" fill="#121212"/>
<circle cx="269.0" cy="170.9" r="1.4" fill="#121212"/>
<circle cx="269.2" cy="172.0" r="1.4" fill="#121212"/>
<circle cx="269.7" cy="171.7" r="1.4" fill="#121212"/>
<circle cx="269.8" cy="172.3" r="1.4" fill="#121212"/>
<circle cx="271.1" cy="171.8" r="1.4" fill="#121212"/>
<circle cx="271.3" cy="171.7" r="1.4" fill="#121212"/>
<circle cx="271.5" cy="171.1" r="1.4" fill="#121212"/>
<circle cx="272.3" cy="172.0" r="1.4" fill="#111111"/>
<circle cx="272.6" cy="172.7" r="1.4" fill="#111111"/>
<circle cx="273.1" cy="172.1" r="1.4" fill="#111111"/>
<circle cx="273.2" cy="171.3" r="1.4" fill="#111111"/>
<circle cx="277.6" cy="171.8" r="1.4" fill="#111111"/>
<circle cx="278.7" cy="171.3" r="1.4" fill="#111111"/>
<circle cx="281.2" cy="171.9" r="1.4" fill="#111111"/>
<circle cx="285.7" cy="172.0" r="1.4" fill="#111111"/>
<circle cx="286.8" cy="171.7" r="1.4" fill="#111111"/>
<circle cx="287.3" cy="172.0" r="1.4" fill="#111111"/>
<circle cx="289.3" cy="171.9" r="1.4" fill="#111111"/>
<circle cx="290.3" cy="171.4" r="1.4" fill="#111111"/>
<circle cx="290.6" cy="171.5" r="1.4" fill="#111111"/>
<circle cx="291.3" cy="172.1" r="1.4" fill="#111111"/>
<circle cx="291.5" cy="171.8" r="1.4" fill="#111111"/>
<circle cx="291.6" cy="171.9" r="1.4" fill="#111111"/>
<circle cx="214.1" cy="129.7" r="1.4" fill="#111111"/>
<circle cx="214.9" cy="138.3" r="1.4" fill="#111111"/>
<circle cx="225.6" cy="145.4" r="1.4" fill="#111111"/>
<circle cx="237.7" cy="144.4" r="1.4" fill="#111111"/>
<circle cx="220.6" cy="147.6" r="1.4" fill="#111111"/>
<circle cx="219.1" cy="149.7" r="1.4" fill="#111111"/>
<circle cx="223.4" cy="151.9" r="1.4" fill="#111111"/>
<circle cx="224.9" cy="153.3" r="1.4" fill="#111111"/>
<circle cx="237" cy="152.6" r="1.4" fill="#111111"/>
<circle cx="242.4" cy="155.4" r="1.4" fill="#111111"/>
<circle cx="237.7" cy="156.9" r="1.4" fill="#111111"/>
<circle cx="217" cy="153.3" r="1.4" fill="#111111"/>
<circle cx="215.6" cy="161.9" r="1.4" fill="#111111"/>
<circle cx="229.9" cy="161.9" r="1.4" fill="#111111"/>
<circle cx="224.9" cy="163.3" r="1.4" fill="#111111"/>
<circle cx="240.6" cy="160.4" r="1.4" fill="#111111"/>
<circle cx="242.7" cy="164" r="1.4" fill="#111111"/>
<circle cx="249.1" cy="161.9" r="1.4" fill="#111111"/>
<circle cx="252" cy="158.3" r="1.4" fill="#111111"/>
<circle cx="255.6" cy="156.1" r="1.4" fill="#111111"/>
<circle cx="252" cy="163.3" r="1.4" fill="#111111"/>
<circle cx="256.3" cy="149.7" r="1.4" fill="#111111"/>
<circle cx="219.9" cy="165.4" r="1.4" fill="#111111"/>
<circle cx="223.4" cy="166.1" r="1.4" fill="#111111"/>
<circle cx="227.7" cy="166.1" r="1.4" fill="#111111"/>
<circle cx="221.7" cy="181.2" r="1.4" fill="#111111"/>
<circle cx="225.8" cy="183.5" r="1.4" fill="#111111"/>
<circle cx="213.5" cy="181.2" r="1.4" fill="#111111"/>
<circle cx="217" cy="192.9" r="1.4" fill="#111111"/>
<circle cx="241.7" cy="185.9" r="1.4" fill="#111111"/>
<circle cx="244.1" cy="197.9" r="1.4" fill="#111111"/>
<circle cx="248.8" cy="195.9" r="1.4" fill="#111111"/>
<circle cx="258.2" cy="190.6" r="1.4" fill="#111111"/>
<circle cx="260.5" cy="182.4" r="1.4" fill="#111111"/>
<circle cx="261.1" cy="185.9" r="1.4" fill="#111111"/>
<circle cx="238.2" cy="177.6" r="1.4" fill="#111111"/>
<circle cx="244.1" cy="177.1" r="1.4" fill="#111111"/>
<circle cx="228.2" cy="175.3" r="1.4" fill="#111111"/>
<circle cx="221.7" cy="177.6" r="1.4" fill="#111111"/>
<circle cx="217.6" cy="177.6" r="1.4" fill="#111111"/>
<circle cx="253.5" cy="174.7" r="1.4" fill="#111111"/>
<circle cx="257" cy="177.1" r="1.4" fill="#111111"/>
<circle cx="215.8" cy="162.4" r="1.4" fill="#111111"/>
<circle cx="225.2" cy="162.4" r="1.4" fill="#111111"/>
<circle cx="229.9" cy="161.8" r="1.4" fill="#111111"/>
<circle cx="224.6" cy="165.3" r="1.4" fill="#111111"/>
<circle cx="228.8" cy="166.5" r="1.4" fill="#111111"/>
<circle cx="232.3" cy="168.8" r="1.4" fill="#111111"/>
<circle cx="241.1" cy="160.6" r="1.4" fill="#111111"/>
<circle cx="242.9" cy="164.1" r="1.4" fill="#111111"/>
<circle cx="248.8" cy="161.8" r="1.4" fill="#111111"/>
<circle cx="252.3" cy="162.9" r="1.4" fill="#111111"/>
<circle cx="255.8" cy="160.6" r="1.4" fill="#111111"/>
<circle cx="258.2" cy="164.1" r="1.4" fill="#111111"/>
<circle cx="261.7" cy="165.9" r="1.4" fill="#111111"/>
<circle cx="248.8" cy="165.3" r="1.4" fill="#111111"/>
<circle cx="244.6" cy="167.6" r="1.4" fill="#111111"/>
<circle cx="248.2" cy="167.6" r="1.4" fill="#111111"/>
<circle cx="256.7" cy="149.5" r="1.4" fill="#111111"/>
<circle cx="258.5" cy="153" r="1.4" fill="#111111"/>
<circle cx="262.8" cy="158.2" r="1.4" fill="#111111"/>
<circle cx="268.9" cy="158.2" r="1.4" fill="#111111"/>
<circle cx="272.4" cy="161.7" r="1.4" fill="#111111"/>
<circle cx="273.2" cy="166" r="1.4" fill="#111111"/>
<circle cx="276.7" cy="168.6" r="1.4" fill="#111111"/>
<circle cx="281" cy="169.2" r="1.4" fill="#111111"/>
<circle cx="292.3" cy="169.5" r="1.4" fill="#111111"/>
<circle cx="281" cy="173" r="1.4" fill="#111111"/>
<circle cx="285.4" cy="172.6" r="1.4" fill="#111111"/>
<circle cx="288" cy="172.1" r="1.4" fill="#111111"/>
<circle cx="285.9" cy="175.6" r="1.4" fill="#111111"/>
<circle cx="272.4" cy="176.5" r="1.4" fill="#111111"/>
<circle cx="260.2" cy="181.7" r="1.4" fill="#111111"/>
<circle cx="261.1" cy="186" r="1.4" fill="#111111"/>
<circle cx="258.5" cy="190.3" r="1.4" fill="#111111"/>
<circle cx="299.8" cy="151.3" r="1.4" fill="#111111"/>
<circle cx="318.4" cy="171.8" r="1.4" fill="#111111"/>
<circle cx="261.1" cy="164.3" r="1.4" fill="#111111"/>
<circle cx="259.3" cy="162.6" r="1.4" fill="#111111"/>
<line x1="218.7" y1="202.3" x2="218.7" y2="119" stroke="#111" stroke-width="0.75" stroke-dasharray="2,1.2"/>
</g>
<rect x="197" y="119" width="130" height="83.30000000000001" fill="none" stroke="#7a7a7a" stroke-width="0.7"/>
<line x1="218.50" y1="202.3" x2="218.50" y2="203.60000000000002" stroke="#7a7a7a" stroke-width="0.6"/>
<text x="218.50" y="208.4" font-size="5.3" text-anchor="middle" textLength="5.82" lengthAdjust="spacingAndGlyphs">0.1</text>
<line x1="246.00" y1="202.3" x2="246.00" y2="203.60000000000002" stroke="#7a7a7a" stroke-width="0.6"/>
<text x="246.00" y="208.4" font-size="5.3" text-anchor="middle" textLength="5.82" lengthAdjust="spacingAndGlyphs">0.2</text>
<line x1="273.50" y1="202.3" x2="273.50" y2="203.60000000000002" stroke="#7a7a7a" stroke-width="0.6"/>
<text x="273.50" y="208.4" font-size="5.3" text-anchor="middle" textLength="5.82" lengthAdjust="spacingAndGlyphs">0.3</text>
<line x1="301.00" y1="202.3" x2="301.00" y2="203.60000000000002" stroke="#7a7a7a" stroke-width="0.6"/>
<text x="301.00" y="208.4" font-size="5.3" text-anchor="middle" textLength="5.82" lengthAdjust="spacingAndGlyphs">0.4</text>
<line x1="195.7" y1="201.30" x2="197" y2="201.30" stroke="#7a7a7a" stroke-width="0.6"/>
<text x="194.3" y="203.00" font-size="5.3" text-anchor="end" textLength="8.15" lengthAdjust="spacingAndGlyphs">0.50</text>
<line x1="195.7" y1="190.20" x2="197" y2="190.20" stroke="#7a7a7a" stroke-width="0.6"/>
<text x="194.3" y="191.90" font-size="5.3" text-anchor="end" textLength="8.15" lengthAdjust="spacingAndGlyphs">0.51</text>
<line x1="195.7" y1="179.10" x2="197" y2="179.10" stroke="#7a7a7a" stroke-width="0.6"/>
<text x="194.3" y="180.80" font-size="5.3" text-anchor="end" textLength="8.15" lengthAdjust="spacingAndGlyphs">0.52</text>
<line x1="195.7" y1="168.00" x2="197" y2="168.00" stroke="#7a7a7a" stroke-width="0.6"/>
<text x="194.3" y="169.70" font-size="5.3" text-anchor="end" textLength="8.15" lengthAdjust="spacingAndGlyphs">0.53</text>
<line x1="195.7" y1="156.90" x2="197" y2="156.90" stroke="#7a7a7a" stroke-width="0.6"/>
<text x="194.3" y="158.60" font-size="5.3" text-anchor="end" textLength="8.15" lengthAdjust="spacingAndGlyphs">0.54</text>
<line x1="195.7" y1="145.80" x2="197" y2="145.80" stroke="#7a7a7a" stroke-width="0.6"/>
<text x="194.3" y="147.50" font-size="5.3" text-anchor="end" textLength="8.15" lengthAdjust="spacingAndGlyphs">0.55</text>
<line x1="195.7" y1="134.70" x2="197" y2="134.70" stroke="#7a7a7a" stroke-width="0.6"/>
<text x="194.3" y="136.40" font-size="5.3" text-anchor="end" textLength="8.15" lengthAdjust="spacingAndGlyphs">0.56</text>
<line x1="195.7" y1="123.60" x2="197" y2="123.60" stroke="#7a7a7a" stroke-width="0.6"/>
<text x="194.3" y="125.30" font-size="5.3" text-anchor="end" textLength="8.15" lengthAdjust="spacingAndGlyphs">0.57</text>
<text x="262.0" y="116.7" font-size="4.8" text-anchor="middle">STL10</text>
<text x="262.0" y="213.5" font-size="4.3" text-anchor="middle">A3 Loss</text>
<text x="0" y="0" font-size="4.3" text-anchor="middle" transform="translate(182.3,160.65) rotate(-90)">AUCs</text>
<g clip-path="url(#c6)">
<rect x="407.4" y="119" width="37.400000000000034" height="83.30000000000001" fill="#b3b3b3"/>
<circle cx="386.9" cy="123.6" r="1.4" fill="#c3c3c3"/>
<circle cx="386.3" cy="125.1" r="1.4" fill="#c2c2c2"/>
<circle cx="386.4" cy="125.3" r="1.4" fill="#c2c2c2"/>
<circle cx="387.5" cy="125.2" r="1.4" fill="#c2c2c2"/>
<circle cx="386.4" cy="125.6" r="1.4" fill="#c1c1c1"/>
<circle cx="389.5" cy="126.5" r="1.4" fill="#c0c0c0"/>
<circle cx="387.3" cy="127.0" r="1.4" fill="#c0c0c0"/>
<circle cx="389.3" cy="127.1" r="1.4" fill="#c0c0c0"/>
<circle cx="388.8" cy="127.5" r="1.4" fill="#bfbfbf"/>
<circle cx="389.4" cy="127.9" r="1.4" fill="#bfbfbf"/>
<circle cx="390.2" cy="129.0" r="1.4" fill="#bdbdbd"/>
<circle cx="388.6" cy="129.8" r="1.4" fill="#bdbdbd"/>
<circle cx="389.1" cy="129.8" r="1.4" fill="#bdbdbd"/>
<circle cx="386.6" cy="129.9" r="1.4" fill="#bdbdbd"/>
<circle cx="387.3" cy="130.2" r="1.4" fill="#bcbcbc"/>
<circle cx="388.6" cy="130.7" r="1.4" fill="#bcbcbc"/>
<circle cx="388.7" cy="131.0" r="1.4" fill="#bbbbbb"/>
<circle cx="387.8" cy="131.6" r="1.4" fill="#bbbbbb"/>
<circle cx="386.8" cy="131.7" r="1.4" fill="#bbbbbb"/>
<circle cx="387.5" cy="131.9" r="1.4" fill="#bababa"/>
<circle cx="387.4" cy="132.3" r="1.4" fill="#bababa"/>
<circle cx="386.8" cy="133.2" r="1.4" fill="#b9b9b9"/>
<circle cx="387.4" cy="133.6" r="1.4" fill="#b9b9b9"/>
<circle cx="388.9" cy="133.6" r="1.4" fill="#b9b9b9"/>
<circle cx="387.9" cy="134.5" r="1.4" fill="#b8b8b8"/>
<circle cx="389.0" cy="134.7" r="1.4" fill="#b7b7b7"/>
<circle cx="387.1" cy="134.9" r="1.4" fill="#b7b7b7"/>
<circle cx="387.2" cy="135.1" r="1.4" fill="#b7b7b7"/>
<circle cx="387.8" cy="135.2" r="1.4" fill="#b7b7b7"/>
<circle cx="389.7" cy="135.3" r="1.4" fill="#b7b7b7"/>
<circle cx="388.4" cy="135.7" r="1.4" fill="#b6b6b6"/>
<circle cx="388.3" cy="136.2" r="1.4" fill="#b6b6b6"/>
<circle cx="390.3" cy="136.4" r="1.4" fill="#b5b5b5"/>
<circle cx="387.5" cy="136.5" r="1.4" fill="#b5b5b5"/>
<circle cx="389.7" cy="137.2" r="1.4" fill="#b5b5b5"/>
<circle cx="390.4" cy="138.5" r="1.4" fill="#b3b3b3"/>
<circle cx="388.2" cy="138.6" r="1.4" fill="#b3b3b3"/>
<circle cx="390.5" cy="139.1" r="1.4" fill="#b3b3b3"/>
<circle cx="387.0" cy="139.2" r="1.4" fill="#b2b2b2"/>
<circle cx="387.9" cy="139.6" r="1.4" fill="#b2b2b2"/>
<circle cx="389.3" cy="139.9" r="1.4" fill="#b2b2b2"/>
<circle cx="389.8" cy="140.4" r="1.4" fill="#b1b1b1"/>
<circle cx="389.2" cy="140.6" r="1.4" fill="#b1b1b1"/>
<circle cx="386.2" cy="140.9" r="1.4" fill="#b1b1b1"/>
<circle cx="387.0" cy="141.2" r="1.4" fill="#b0b0b0"/>
<circle cx="387.3" cy="141.4" r="1.4" fill="#b0b0b0"/>
<circle cx="387.9" cy="141.6" r="1.4" fill="#b0b0b0"/>
<circle cx="390.5" cy="141.8" r="1.4" fill="#b0b0b0"/>
<circle cx="387.2" cy="141.9" r="1.4" fill="#b0b0b0"/>
<circle cx="387.5" cy="142.2" r="1.4" fill="#afafaf"/>
<circle cx="388.4" cy="142.8" r="1.4" fill="#afafaf"/>
<circle cx="387.8" cy="143.6" r="1.4" fill="#aeaeae"/>
<circle cx="386.8" cy="143.7" r="1.4" fill="#aeaeae"/>
<circle cx="387.0" cy="143.7" r="1.4" fill="#aeaeae"/>
<circle cx="389.0" cy="143.7" r="1.4" fill="#aeaeae"/>
<circle cx="389.5" cy="143.9" r="1.4" fill="#adadad"/>
<circle cx="390.1" cy="144.1" r="1.4" fill="#adadad"/>
<circle cx="390.3" cy="144.1" r="1.4" fill="#adadad"/>
<circle cx="386.3" cy="144.5" r="1.4" fill="#adadad"/>
<circle cx="388.2" cy="144.5" r="1.4" fill="#adadad"/>
<circle cx="386.5" cy="144.7" r="1.4" fill="#adadad"/>
<circle cx="388.1" cy="144.9" r="1.4" fill="#acacac"/>
<circle cx="388.4" cy="145.0" r="1.4" fill="#acacac"/>
<circle cx="388.6" cy="145.5" r="1.4" fill="#acacac"/>
<circle cx="386.9" cy="146.9" r="1.4" fill="#aaaaaa"/>
<circle cx="386.9" cy="147.9" r="1.4" fill="#a9a9a9"/>
<circle cx="389.0" cy="148.0" r="1.4" fill="#a9a9a9"/>
<circle cx="390.0" cy="149.1" r="1.4" fill="#a8a8a8"/>
<circle cx="387.6" cy="149.1" r="1.4" fill="#a8a8a8"/>
<circle cx="387.8" cy="150.0" r="1.4" fill="#a7a7a7"/>
<circle cx="388.7" cy="150.1" r="1.4" fill="#a7a7a7"/>
<circle cx="388.0" cy="150.2" r="1.4" fill="#a7a7a7"/>
<circle cx="388.3" cy="150.3" r="1.4" fill="#a6a6a6"/>
<circle cx="387.8" cy="151.0" r="1.4" fill="#a6a6a6"/>
<circle cx="386.7" cy="151.1" r="1.4" fill="#a6a6a6"/>
<circle cx="390.1" cy="151.3" r="1.4" fill="#a5a5a5"/>
<circle cx="386.9" cy="152.4" r="1.4" fill="#a4a4a4"/>
<circle cx="388.9" cy="152.6" r="1.4" fill="#a4a4a4"/>
<circle cx="387.8" cy="153.0" r="1.4" fill="#a4a4a4"/>
<circle cx="389.3" cy="153.0" r="1.4" fill="#a4a4a4"/>
<circle cx="389.1" cy="153.1" r="1.4" fill="#a3a3a3"/>
<circle cx="389.6" cy="154.1" r="1.4" fill="#a2a2a2"/>
<circle cx="388.2" cy="154.2" r="1.4" fill="#a2a2a2"/>
<circle cx="389.1" cy="154.2" r="1.4" fill="#a2a2a2"/>
<circle cx="387.7" cy="154.3" r="1.4" fill="#a2a2a2"/>
<circle cx="389.0" cy="154.3" r="1.4" fill="#a2a2a2"/>
<circle cx="387.4" cy="154.4" r="1.4" fill="#a2a2a2"/>
<circle cx="390.1" cy="154.6" r="1.4" fill="#a2a2a2"/>
<circle cx="390.4" cy="154.6" r="1.4" fill="#a2a2a2"/>
<circle cx="389.8" cy="155.5" r="1.4" fill="#a1a1a1"/>
<circle cx="388.1" cy="155.6" r="1.4" fill="#a1a1a1"/>
<circle cx="387.5" cy="156.0" r="1.4" fill="#a0a0a0"/>
<circle cx="389.1" cy="156.6" r="1.4" fill="#a0a0a0"/>
<circle cx="388.1" cy="156.6" r="1.4" fill="#a0a0a0"/>
<circle cx="389.5" cy="158.1" r="1.4" fill="#9e9e9e"/>
<circle cx="390.8" cy="162.2" r="1.4" fill="#8b8b8b"/>
<circle cx="389.8" cy="162.9" r="1.4" fill="#8b8b8b"/>
<circle cx="389.7" cy="164.4" r="1.4" fill="#898989"/>
<circle cx="391.2" cy="164.8" r="1.4" fill="#888888"/>
<circle cx="390.9" cy="165.0" r="1.4" fill="#888888"/>
<circle cx="392.8" cy="165.2" r="1.4" fill="#878787"/>
<circle cx="392.8" cy="165.7" r="1.4" fill="#868686"/>
<circle cx="389.7" cy="167.1" r="1.4" fill="#868686"/>
<circle cx="390.1" cy="167.6" r="1.4" fill="#858585"/>
<circle cx="389.8" cy="168.0" r="1.4" fill="#858585"/>
<circle cx="393.2" cy="167.0" r="1.4" fill="#858585"/>
<circle cx="393.4" cy="167.2" r="1.4" fill="#848484"/>
<circle cx="392.5" cy="169.0" r="1.4" fill="#838383"/>
<circle cx="391.1" cy="169.9" r="1.4" fill="#828282"/>
<circle cx="393.7" cy="169.0" r="1.4" fill="#828282"/>
<circle cx="392.8" cy="169.5" r="1.4" fill="#828282"/>
<circle cx="390.9" cy="170.6" r="1.4" fill="#828282"/>
<circle cx="393.8" cy="169.7" r="1.4" fill="#828282"/>
<circle cx="393.6" cy="170.2" r="1.4" fill="#818181"/>
<circle cx="391.6" cy="171.4" r="1.4" fill="#818181"/>
<circle cx="391.8" cy="171.5" r="1.4" fill="#808080"/>
<circle cx="392.7" cy="171.7" r="1.4" fill="#808080"/>
<circle cx="393.6" cy="171.7" r="1.4" fill="#7f7f7f"/>
<circle cx="393.9" cy="171.7" r="1.4" fill="#7f7f7f"/>
<circle cx="393.4" cy="172.1" r="1.4" fill="#7f7f7f"/>
<circle cx="394.4" cy="173.2" r="1.4" fill="#7d7d7d"/>
<circle cx="394.3" cy="174.3" r="1.4" fill="#7c7c7c"/>
<circle cx="392.5" cy="175.4" r="1.4" fill="#7c7c7c"/>
<circle cx="395.3" cy="174.8" r="1.4" fill="#7b7b7b"/>
<circle cx="394.6" cy="175.4" r="1.4" fill="#7b7b7b"/>
<circle cx="393.3" cy="176.2" r="1.4" fill="#7b7b7b"/>
<circle cx="392.8" cy="177.0" r="1.4" fill="#7a7a7a"/>
<circle cx="396.7" cy="175.6" r="1.4" fill="#7a7a7a"/>
<circle cx="394.6" cy="176.7" r="1.4" fill="#7a7a7a"/>
<circle cx="395.7" cy="176.8" r="1.4" fill="#797979"/>
<circle cx="391.9" cy="178.4" r="1.4" fill="#797979"/>
<circle cx="396.0" cy="176.8" r="1.4" fill="#797979"/>
<circle cx="395.5" cy="178.2" r="1.4" fill="#787878"/>
<circle cx="393.0" cy="180.0" r="1.4" fill="#777777"/>
<circle cx="398.7" cy="178.1" r="1.4" fill="#767676"/>
<circle cx="393.2" cy="180.4" r="1.4" fill="#767676"/>
<circle cx="394.2" cy="180.0" r="1.4" fill="#767676"/>
<circle cx="392.5" cy="181.1" r="1.4" fill="#767676"/>
<circle cx="396.8" cy="179.6" r="1.4" fill="#767676"/>
<circle cx="393.9" cy="181.1" r="1.4" fill="#757575"/>
<circle cx="393.0" cy="182.1" r="1.4" fill="#757575"/>
<circle cx="394.3" cy="182.2" r="1.4" fill="#747474"/>
<circle cx="398.6" cy="180.8" r="1.4" fill="#737373"/>
<circle cx="399.8" cy="180.5" r="1.4" fill="#737373"/>
<circle cx="395.5" cy="182.6" r="1.4" fill="#737373"/>
<circle cx="398.5" cy="181.6" r="1.4" fill="#737373"/>
<circle cx="400.4" cy="181.5" r="1.4" fill="#727272"/>
<circle cx="394.4" cy="184.0" r="1.4" fill="#727272"/>
<circle cx="402.0" cy="181.1" r="1.4" fill="#727272"/>
<circle cx="398.6" cy="182.4" r="1.4" fill="#727272"/>
<circle cx="401.0" cy="181.5" r="1.4" fill="#727272"/>
<circle cx="395.0" cy="184.1" r="1.4" fill="#727272"/>
<circle cx="396.6" cy="183.8" r="1.4" fill="#717171"/>
<circle cx="399.9" cy="182.7" r="1.4" fill="#717171"/>
<circle cx="398.8" cy="183.1" r="1.4" fill="#717171"/>
<circle cx="399.5" cy="183.0" r="1.4" fill="#717171"/>
<circle cx="397.4" cy="184.0" r="1.4" fill="#717171"/>
<circle cx="401.2" cy="182.9" r="1.4" fill="#707070"/>
<circle cx="395.9" cy="185.2" r="1.4" fill="#707070"/>
<circle cx="396.3" cy="185.4" r="1.4" fill="#707070"/>
<circle cx="398.3" cy="184.8" r="1.4" fill="#6f6f6f"/>
<circle cx="403.7" cy="182.8" r="1.4" fill="#6f6f6f"/>
<circle cx="397.5" cy="185.4" r="1.4" fill="#6f6f6f"/>
<circle cx="394.2" cy="186.8" r="1.4" fill="#6f6f6f"/>
<circle cx="397.1" cy="185.8" r="1.4" fill="#6f6f6f"/>
<circle cx="398.7" cy="185.3" r="1.4" fill="#6f6f6f"/>
<circle cx="400.7" cy="184.6" r="1.4" fill="#6f6f6f"/>
<circle cx="405.3" cy="183.8" r="1.4" fill="#6d6d6d"/>
<circle cx="395.7" cy="187.7" r="1.4" fill="#6d6d6d"/>
<circle cx="395.5" cy="188.0" r="1.4" fill="#6d6d6d"/>
<circle cx="404.8" cy="184.3" r="1.4" fill="#6d6d6d"/>
<circle cx="400.0" cy="186.7" r="1.4" fill="#6d6d6d"/>
<circle cx="400.7" cy="186.5" r="1.4" fill="#6c6c6c"/>
<circle cx="397.4" cy="187.8" r="1.4" fill="#6c6c6c"/>
<circle cx="396.0" cy="188.5" r="1.4" fill="#6c6c6c"/>
<circle cx="404.5" cy="185.3" r="1.4" fill="#6c6c6c"/>
<circle cx="399.6" cy="187.5" r="1.4" fill="#6c6c6c"/>
<circle cx="399.9" cy="187.4" r="1.4" fill="#6c6c6c"/>
<circle cx="395.3" cy="189.7" r="1.4" fill="#6b6b6b"/>
<circle cx="395.3" cy="189.8" r="1.4" fill="#6b6b6b"/>
<circle cx="395.8" cy="189.7" r="1.4" fill="#6b6b6b"/>
<circle cx="398.4" cy="189.1" r="1.4" fill="#6b6b6b"/>
<circle cx="400.2" cy="188.4" r="1.4" fill="#6b6b6b"/>
<circle cx="406.2" cy="186.1" r="1.4" fill="#6a6a6a"/>
<circle cx="402.6" cy="187.9" r="1.4" fill="#6a6a6a"/>
<circle cx="406.8" cy="186.2" r="1.4" fill="#6a6a6a"/>
<circle cx="398.4" cy="189.7" r="1.4" fill="#6a6a6a"/>
<circle cx="397.3" cy="190.1" r="1.4" fill="#6a6a6a"/>
<circle cx="399.5" cy="189.3" r="1.4" fill="#6a6a6a"/>
<circle cx="396.1" cy="190.8" r="1.4" fill="#6a6a6a"/>
<circle cx="401.7" cy="188.8" r="1.4" fill="#6a6a6a"/>
<circle cx="407.0" cy="186.7" r="1.4" fill="#696969"/>
<circle cx="404.9" cy="187.7" r="1.4" fill="#696969"/>
<circle cx="402.8" cy="188.6" r="1.4" fill="#696969"/>
<circle cx="406.4" cy="187.1" r="1.4" fill="#696969"/>
<circle cx="397.5" cy="191.1" r="1.4" fill="#696969"/>
<circle cx="403.1" cy="188.8" r="1.4" fill="#696969"/>
<circle cx="397.9" cy="191.0" r="1.4" fill="#696969"/>
<circle cx="403.3" cy="189.1" r="1.4" fill="#696969"/>
<circle cx="398.0" cy="191.6" r="1.4" fill="#686868"/>
<circle cx="401.5" cy="190.5" r="1.4" fill="#686868"/>
<circle cx="406.7" cy="188.4" r="1.4" fill="#686868"/>
<circle cx="407.0" cy="188.3" r="1.4" fill="#686868"/>
<circle cx="403.0" cy="190.1" r="1.4" fill="#686868"/>
<circle cx="399.1" cy="192.1" r="1.4" fill="#676767"/>
<circle cx="406.8" cy="189.2" r="1.4" fill="#676767"/>
<circle cx="401.0" cy="191.9" r="1.4" fill="#676767"/>
<circle cx="403.7" cy="191.0" r="1.4" fill="#666666"/>
<circle cx="402.1" cy="191.8" r="1.4" fill="#666666"/>
<circle cx="402.8" cy="191.5" r="1.4" fill="#666666"/>
<circle cx="402.1" cy="191.9" r="1.4" fill="#666666"/>
<circle cx="405.1" cy="190.7" r="1.4" fill="#666666"/>
<circle cx="405.5" cy="191.1" r="1.4" fill="#666666"/>
<circle cx="406.5" cy="190.8" r="1.4" fill="#666666"/>
<circle cx="405.6" cy="191.0" r="1.4" fill="#666666"/>
<circle cx="399.7" cy="176.7" r="1.4" fill="#333333"/>
<circle cx="403" cy="180" r="1.4" fill="#333333"/>
<circle cx="406.3" cy="179.3" r="1.4" fill="#333333"/>
<circle cx="410.3" cy="180.7" r="1.4" fill="#333333"/>
<circle cx="408.3" cy="183.3" r="1.4" fill="#333333"/>
<circle cx="404" cy="186" r="1.4" fill="#333333"/>
<circle cx="412.9" cy="187.2" r="1.4" fill="#333333"/>
<circle cx="415.5" cy="190.5" r="1.4" fill="#333333"/>
<circle cx="401" cy="189" r="1.4" fill="#333333"/>
<circle cx="398" cy="191" r="1.4" fill="#333333"/>
<circle cx="396.1" cy="192.9" r="1.4" fill="#1e1e1e"/>
<circle cx="396.3" cy="192.9" r="1.4" fill="#1e1e1e"/>
<circle cx="397.0" cy="193.2" r="1.4" fill="#1e1e1e"/>
<circle cx="397.6" cy="193.5" r="1.4" fill="#1e1e1e"/>
<circle cx="397.9" cy="193.2" r="1.4" fill="#1e1e1e"/>
<circle cx="398.4" cy="192.9" r="1.4" fill="#1e1e1e"/>
<circle cx="399.1" cy="193.4" r="1.4" fill="#1d1d1d"/>
<circle cx="399.5" cy="193.6" r="1.4" fill="#1d1d1d"/>
<circle cx="400.2" cy="194.0" r="1.4" fill="#1d1d1d"/>
<circle cx="401.0" cy="193.1" r="1.4" fill="#1d1d1d"/>
<circle cx="402.0" cy="194.3" r="1.4" fill="#1d1d1d"/>
<circle cx="403.6" cy="193.6" r="1.4" fill="#1d1d1d"/>
<circle cx="404.1" cy="193.3" r="1.4" fill="#1d1d1d"/>
<circle cx="404.2" cy="193.0" r="1.4" fill="#1d1d1d"/>
<circle cx="404.5" cy="193.1" r="1.4" fill="#1d1d1d"/>
<circle cx="404.5" cy="193.6" r="1.4" fill="#1d1d1d"/>
<circle cx="404.6" cy="193.6" r="1.4" fill="#1d1d1d"/>
<circle cx="404.6" cy="194.4" r="1.4" fill="#1d1d1d"/>
<circle cx="404.9" cy="194.0" r="1.4" fill="#1d1d1d"/>
<circle cx="406.1" cy="193.6" r="1.4" fill="#1c1c1c"/>
<circle cx="407.2" cy="193.2" r="1.4" fill="#1c1c1c"/>
<circle cx="407.9" cy="193.8" r="1.4" fill="#1c1c1c"/>
<circle cx="408.3" cy="194.1" r="1.4" fill="#1c1c1c"/>
<circle cx="408.3" cy="193.7" r="1.4" fill="#1c1c1c"/>
<circle cx="409.5" cy="193.1" r="1.4" fill="#1c1c1c"/>
<circle cx="409.5" cy="193.4" r="1.4" fill="#1c1c1c"/>
<circle cx="410.0" cy="193.4" r="1.4" fill="#1c1c1c"/>
<circle cx="410.7" cy="193.0" r="1.4" fill="#1c1c1c"/>
<circle cx="412.0" cy="193.5" r="1.4" fill="#1c1c1c"/>
<circle cx="412.5" cy="192.8" r="1.4" fill="#1c1c1c"/>
<circle cx="413.6" cy="192.9" r="1.4" fill="#1b1b1b"/>
<circle cx="413.8" cy="194.4" r="1.4" fill="#1b1b1b"/>
<circle cx="414.2" cy="193.3" r="1.4" fill="#1b1b1b"/>
<circle cx="414.4" cy="193.7" r="1.4" fill="#1b1b1b"/>
<circle cx="414.7" cy="193.9" r="1.4" fill="#1b1b1b"/>
<circle cx="415.2" cy="193.8" r="1.4" fill="#1b1b1b"/>
<circle cx="415.4" cy="192.9" r="1.4" fill="#1b1b1b"/>
<circle cx="415.6" cy="193.1" r="1.4" fill="#1b1b1b"/>
<circle cx="416.4" cy="193.6" r="1.4" fill="#1b1b1b"/>
<circle cx="417.8" cy="193.2" r="1.4" fill="#1b1b1b"/>
<circle cx="417.8" cy="193.2" r="1.4" fill="#1b1b1b"/>
<circle cx="418.2" cy="194.0" r="1.4" fill="#1b1b1b"/>
<circle cx="418.9" cy="193.2" r="1.4" fill="#1b1b1b"/>
<circle cx="419.3" cy="193.5" r="1.4" fill="#1b1b1b"/>
<circle cx="419.9" cy="194.3" r="1.4" fill="#1a1a1a"/>
<circle cx="420.1" cy="193.6" r="1.4" fill="#1a1a1a"/>
<circle cx="422.2" cy="193.0" r="1.4" fill="#1a1a1a"/>
<circle cx="422.5" cy="194.0" r="1.4" fill="#1a1a1a"/>
<circle cx="422.8" cy="192.9" r="1.4" fill="#1a1a1a"/>
<circle cx="423.0" cy="193.0" r="1.4" fill="#1a1a1a"/>
<circle cx="423.6" cy="193.0" r="1.4" fill="#1a1a1a"/>
<circle cx="423.6" cy="194.0" r="1.4" fill="#1a1a1a"/>
<circle cx="423.8" cy="193.4" r="1.4" fill="#1a1a1a"/>
<circle cx="425.1" cy="193.0" r="1.4" fill="#1a1a1a"/>
<circle cx="425.8" cy="193.9" r="1.4" fill="#1a1a1a"/>
<circle cx="426.7" cy="193.0" r="1.4" fill="#1a1a1a"/>
<circle cx="427.4" cy="193.4" r="1.4" fill="#191919"/>
<circle cx="428.0" cy="194.4" r="1.4" fill="#191919"/>
<circle cx="428.5" cy="194.2" r="1.4" fill="#191919"/>
<circle cx="428.6" cy="193.0" r="1.4" fill="#191919"/>
<circle cx="429.0" cy="193.7" r="1.4" fill="#191919"/>
<circle cx="429.5" cy="194.3" r="1.4" fill="#191919"/>
<circle cx="430.8" cy="193.0" r="1.4" fill="#191919"/>
<circle cx="431.1" cy="193.8" r="1.4" fill="#191919"/>
<circle cx="431.6" cy="193.3" r="1.4" fill="#191919"/>
<circle cx="432.2" cy="193.0" r="1.4" fill="#191919"/>
<circle cx="432.7" cy="193.7" r="1.4" fill="#191919"/>
<circle cx="432.9" cy="192.9" r="1.4" fill="#191919"/>
<circle cx="432.9" cy="194.4" r="1.4" fill="#191919"/>
<circle cx="433.2" cy="194.0" r="1.4" fill="#191919"/>
<circle cx="433.3" cy="194.2" r="1.4" fill="#191919"/>
<circle cx="433.7" cy="193.3" r="1.4" fill="#191919"/>
<circle cx="433.8" cy="193.0" r="1.4" fill="#191919"/>
<circle cx="436.8" cy="192.8" r="1.4" fill="#181818"/>
<circle cx="437.2" cy="193.4" r="1.4" fill="#181818"/>
<circle cx="437.7" cy="193.5" r="1.4" fill="#181818"/>
<circle cx="439.4" cy="193.3" r="1.4" fill="#181818"/>
<circle cx="440.2" cy="192.9" r="1.4" fill="#181818"/>
<circle cx="441.2" cy="193.0" r="1.4" fill="#171717"/>
<circle cx="441.3" cy="193.2" r="1.4" fill="#171717"/>
<circle cx="441.7" cy="194.3" r="1.4" fill="#171717"/>
<circle cx="442.2" cy="193.6" r="1.4" fill="#171717"/>
<circle cx="442.2" cy="194.0" r="1.4" fill="#171717"/>
<circle cx="442.4" cy="193.8" r="1.4" fill="#171717"/>
<circle cx="443.0" cy="193.4" r="1.4" fill="#171717"/>
<circle cx="443.0" cy="193.9" r="1.4" fill="#171717"/>
<circle cx="443.2" cy="194.3" r="1.4" fill="#171717"/>
<circle cx="443.3" cy="193.9" r="1.4" fill="#171717"/>
<circle cx="444.0" cy="194.0" r="1.4" fill="#171717"/>
<circle cx="445.2" cy="194.2" r="1.4" fill="#171717"/>
<circle cx="445.8" cy="194.3" r="1.4" fill="#171717"/>
<circle cx="445.8" cy="193.6" r="1.4" fill="#171717"/>
<circle cx="446.4" cy="193.7" r="1.4" fill="#171717"/>
<circle cx="447.3" cy="193.4" r="1.4" fill="#171717"/>
<circle cx="447.7" cy="193.7" r="1.4" fill="#171717"/>
<circle cx="448.8" cy="194.2" r="1.4" fill="#161616"/>
<circle cx="450.4" cy="193.5" r="1.4" fill="#161616"/>
<circle cx="451.1" cy="193.3" r="1.4" fill="#161616"/>
<circle cx="453.8" cy="193.8" r="1.4" fill="#161616"/>
<circle cx="454.0" cy="192.9" r="1.4" fill="#161616"/>
<circle cx="454.0" cy="194.1" r="1.4" fill="#161616"/>
<circle cx="454.2" cy="193.3" r="1.4" fill="#161616"/>
<circle cx="454.4" cy="193.9" r="1.4" fill="#161616"/>
<circle cx="454.7" cy="193.0" r="1.4" fill="#161616"/>
<circle cx="455.4" cy="194.4" r="1.4" fill="#151515"/>
<circle cx="455.5" cy="193.1" r="1.4" fill="#151515"/>
<circle cx="457.1" cy="193.0" r="1.4" fill="#151515"/>
<circle cx="457.3" cy="193.8" r="1.4" fill="#151515"/>
<circle cx="457.9" cy="193.4" r="1.4" fill="#151515"/>
<circle cx="458.8" cy="194.3" r="1.4" fill="#151515"/>
<circle cx="458.8" cy="193.4" r="1.4" fill="#151515"/>
<circle cx="459.3" cy="193.5" r="1.4" fill="#151515"/>
<circle cx="461.2" cy="193.5" r="1.4" fill="#151515"/>
<circle cx="463.1" cy="194.2" r="1.4" fill="#141414"/>
<circle cx="463.4" cy="193.3" r="1.4" fill="#141414"/>
<circle cx="463.5" cy="193.4" r="1.4" fill="#141414"/>
<circle cx="463.9" cy="194.1" r="1.4" fill="#141414"/>
<circle cx="465.7" cy="194.3" r="1.4" fill="#141414"/>
<circle cx="466.0" cy="194.0" r="1.4" fill="#141414"/>
<circle cx="466.3" cy="194.3" r="1.4" fill="#141414"/>
<circle cx="467.6" cy="193.4" r="1.4" fill="#141414"/>
<circle cx="469.5" cy="193.8" r="1.4" fill="#131313"/>
<circle cx="470.1" cy="193.1" r="1.4" fill="#131313"/>
<circle cx="470.3" cy="193.1" r="1.4" fill="#131313"/>
<circle cx="470.9" cy="193.7" r="1.4" fill="#131313"/>
<circle cx="472.0" cy="194.2" r="1.4" fill="#131313"/>
<circle cx="472.2" cy="193.3" r="1.4" fill="#131313"/>
<circle cx="473.4" cy="194.1" r="1.4" fill="#131313"/>
<circle cx="475.0" cy="193.5" r="1.4" fill="#131313"/>
<circle cx="475.9" cy="193.4" r="1.4" fill="#131313"/>
<circle cx="476.3" cy="193.6" r="1.4" fill="#131313"/>
<circle cx="478.0" cy="194.0" r="1.4" fill="#121212"/>
<circle cx="479.2" cy="194.2" r="1.4" fill="#121212"/>
<circle cx="479.6" cy="194.2" r="1.4" fill="#121212"/>
<circle cx="480.8" cy="193.9" r="1.4" fill="#121212"/>
<circle cx="481.6" cy="194.2" r="1.4" fill="#121212"/>
<circle cx="482.2" cy="193.3" r="1.4" fill="#121212"/>
<circle cx="482.3" cy="194.3" r="1.4" fill="#121212"/>
<circle cx="484.9" cy="193.3" r="1.4" fill="#111111"/>
<circle cx="485.1" cy="194.0" r="1.4" fill="#111111"/>
<circle cx="412.6" cy="185.7" r="1.4" fill="#1e1e1e"/>
<circle cx="438.2" cy="185.7" r="1.4" fill="#1a1a1a"/>
<circle cx="442.4" cy="188.5" r="1.4" fill="#191919"/>
<circle cx="443.4" cy="186.2" r="1.4" fill="#191919"/>
<circle cx="446.1" cy="186.5" r="1.4" fill="#181818"/>
<circle cx="446.4" cy="186.3" r="1.4" fill="#181818"/>
<circle cx="448.7" cy="187.0" r="1.4" fill="#181818"/>
<circle cx="451.3" cy="190.0" r="1.4" fill="#171717"/>
<circle cx="453.7" cy="186.7" r="1.4" fill="#171717"/>
<circle cx="454.5" cy="187.3" r="1.4" fill="#171717"/>
<circle cx="455.9" cy="187.0" r="1.4" fill="#171717"/>
<circle cx="458.2" cy="188.9" r="1.4" fill="#161616"/>
<circle cx="458.6" cy="189.7" r="1.4" fill="#161616"/>
<circle cx="466.1" cy="187.0" r="1.4" fill="#151515"/>
<circle cx="466.7" cy="188.7" r="1.4" fill="#151515"/>
<circle cx="467.9" cy="189.2" r="1.4" fill="#151515"/>
<circle cx="469.1" cy="188.3" r="1.4" fill="#151515"/>
<circle cx="469.4" cy="188.5" r="1.4" fill="#151515"/>
<circle cx="477.6" cy="188.2" r="1.4" fill="#131313"/>
<circle cx="480.9" cy="187.5" r="1.4" fill="#131313"/>
<circle cx="488.4" cy="187.6" r="1.4" fill="#121212"/>
<circle cx="491.0" cy="187.4" r="1.4" fill="#111111"/>
<circle cx="422.1" cy="182.6" r="1.4" fill="#111111"/>
<circle cx="426.1" cy="185.3" r="1.4" fill="#111111"/>
<circle cx="419.5" cy="186.6" r="1.4" fill="#111111"/>
<circle cx="424.7" cy="188.6" r="1.4" fill="#111111"/>
<circle cx="429.3" cy="188.6" r="1.4" fill="#111111"/>
<circle cx="437.2" cy="187.2" r="1.4" fill="#111111"/>
<circle cx="446.4" cy="186.1" r="1.4" fill="#111111"/>
<circle cx="450.5" cy="185.9" r="1.4" fill="#111111"/>
<circle cx="454" cy="187.3" r="1.4" fill="#111111"/>
<circle cx="437" cy="187.3" r="1.4" fill="#111111"/>
<circle cx="465.8" cy="188.5" r="1.4" fill="#111111"/>
<circle cx="476.3" cy="188.5" r="1.4" fill="#111111"/>
<circle cx="482.8" cy="190.2" r="1.4" fill="#111111"/>
<circle cx="490.4" cy="190.8" r="1.4" fill="#111111"/>
<circle cx="491" cy="194.9" r="1.4" fill="#111111"/>
<circle cx="431.2" cy="188.5" r="1.4" fill="#111111"/>
<line x1="422.6" y1="202.3" x2="422.6" y2="119" stroke="#111" stroke-width="0.75" stroke-dasharray="2,1.2"/>
</g>
<rect x="380" y="119" width="130" height="83.30000000000001" fill="none" stroke="#7a7a7a" stroke-width="0.7"/>
<line x1="402.50" y1="202.3" x2="402.50" y2="203.60000000000002" stroke="#7a7a7a" stroke-width="0.6"/>
<text x="402.50" y="208.4" font-size="5.3" text-anchor="middle" textLength="8.15" lengthAdjust="spacingAndGlyphs">0.02</text>
<line x1="429.33" y1="202.3" x2="429.33" y2="203.60000000000002" stroke="#7a7a7a" stroke-width="0.6"/>
<text x="429.33" y="208.4" font-size="5.3" text-anchor="middle" textLength="8.15" lengthAdjust="spacingAndGlyphs">0.04</text>
<line x1="456.17" y1="202.3" x2="456.17" y2="203.60000000000002" stroke="#7a7a7a" stroke-width="0.6"/>
<text x="456.17" y="208.4" font-size="5.3" text-anchor="middle" textLength="8.15" lengthAdjust="spacingAndGlyphs">0.06</text>
<line x1="483.00" y1="202.3" x2="483.00" y2="203.60000000000002" stroke="#7a7a7a" stroke-width="0.6"/>
<text x="483.00" y="208.4" font-size="5.3" text-anchor="middle" textLength="8.15" lengthAdjust="spacingAndGlyphs">0.08</text>
<line x1="378.7" y1="194.90" x2="380" y2="194.90" stroke="#7a7a7a" stroke-width="0.6"/>
<text x="377.3" y="196.60" font-size="5.3" text-anchor="end" textLength="8.15" lengthAdjust="spacingAndGlyphs">0.50</text>
<line x1="378.7" y1="181.36" x2="380" y2="181.36" stroke="#7a7a7a" stroke-width="0.6"/>
<text x="377.3" y="183.06" font-size="5.3" text-anchor="end" textLength="8.15" lengthAdjust="spacingAndGlyphs">0.55</text>
<line x1="378.7" y1="167.82" x2="380" y2="167.82" stroke="#7a7a7a" stroke-width="0.6"/>
<text x="377.3" y="169.52" font-size="5.3" text-anchor="end" textLength="8.15" lengthAdjust="spacingAndGlyphs">0.60</text>
<line x1="378.7" y1="154.28" x2="380" y2="154.28" stroke="#7a7a7a" stroke-width="0.6"/>
<text x="377.3" y="155.98" font-size="5.3" text-anchor="end" textLength="8.15" lengthAdjust="spacingAndGlyphs">0.65</text>
<line x1="378.7" y1="140.74" x2="380" y2="140.74" stroke="#7a7a7a" stroke-width="0.6"/>
<text x="377.3" y="142.44" font-size="5.3" text-anchor="end" textLength="8.15" lengthAdjust="spacingAndGlyphs">0.70</text>
<line x1="378.7" y1="127.20" x2="380" y2="127.20" stroke="#7a7a7a" stroke-width="0.6"/>
<text x="377.3" y="128.90" font-size="5.3" text-anchor="end" textLength="8.15" lengthAdjust="spacingAndGlyphs">0.75</text>
<text x="445.0" y="116.7" font-size="4.8" text-anchor="middle">CIFAR10</text>
<text x="445.0" y="213.5" font-size="4.3" text-anchor="middle">A3 Loss</text>
<text x="0" y="0" font-size="4.3" text-anchor="middle" transform="translate(365.6,160.65) rotate(-90)">AUCs</text>
<g clip-path="url(#c7)">
<rect x="559" y="119" width="57.700000000000045" height="83.30000000000001" fill="#b3b3b3"/>
<circle cx="560.5" cy="137.2" r="1.4" fill="#646464"/>
<circle cx="560.6" cy="138.0" r="1.4" fill="#646464"/>
<circle cx="561.2" cy="139.2" r="1.4" fill="#626262"/>
<circle cx="561.3" cy="136.8" r="1.4" fill="#616161"/>
<circle cx="561.4" cy="139.3" r="1.4" fill="#616161"/>
<circle cx="561.5" cy="136.6" r="1.4" fill="#616161"/>
<circle cx="561.5" cy="138.4" r="1.4" fill="#606060"/>
<circle cx="561.5" cy="138.8" r="1.4" fill="#606060"/>
<circle cx="561.5" cy="137.6" r="1.4" fill="#606060"/>
<circle cx="561.6" cy="138.4" r="1.4" fill="#606060"/>
<circle cx="561.6" cy="137.2" r="1.4" fill="#606060"/>
<circle cx="561.6" cy="138.5" r="1.4" fill="#606060"/>
<circle cx="561.8" cy="139.3" r="1.4" fill="#5f5f5f"/>
<circle cx="561.8" cy="136.4" r="1.4" fill="#5f5f5f"/>
<circle cx="561.9" cy="137.9" r="1.4" fill="#5f5f5f"/>
<circle cx="562.1" cy="135.7" r="1.4" fill="#5e5e5e"/>
<circle cx="562.1" cy="138.9" r="1.4" fill="#5e5e5e"/>
<circle cx="562.3" cy="137.6" r="1.4" fill="#5d5d5d"/>
<circle cx="562.4" cy="137.5" r="1.4" fill="#5d5d5d"/>
<circle cx="562.7" cy="138.4" r="1.4" fill="#5c5c5c"/>
<circle cx="563.0" cy="137.2" r="1.4" fill="#5b5b5b"/>
<circle cx="563.4" cy="136.0" r="1.4" fill="#595959"/>
<circle cx="563.5" cy="137.5" r="1.4" fill="#595959"/>
<circle cx="563.7" cy="135.7" r="1.4" fill="#585858"/>
<circle cx="563.7" cy="136.1" r="1.4" fill="#585858"/>
<circle cx="563.8" cy="138.5" r="1.4" fill="#585858"/>
<circle cx="564.3" cy="137.9" r="1.4" fill="#565656"/>
<circle cx="564.4" cy="137.1" r="1.4" fill="#555555"/>
<circle cx="564.6" cy="136.4" r="1.4" fill="#555555"/>
<circle cx="564.9" cy="138.2" r="1.4" fill="#545454"/>
<circle cx="565.0" cy="139.3" r="1.4" fill="#535353"/>
<circle cx="565.0" cy="139.4" r="1.4" fill="#535353"/>
<circle cx="565.3" cy="136.2" r="1.4" fill="#525252"/>
<circle cx="565.4" cy="137.3" r="1.4" fill="#525252"/>
<circle cx="565.4" cy="139.1" r="1.4" fill="#525252"/>
<circle cx="565.7" cy="138.6" r="1.4" fill="#515151"/>
<circle cx="565.9" cy="139.4" r="1.4" fill="#505050"/>
<circle cx="565.9" cy="139.4" r="1.4" fill="#505050"/>
<circle cx="566.0" cy="137.3" r="1.4" fill="#4f4f4f"/>
<circle cx="566.2" cy="136.8" r="1.4" fill="#4f4f4f"/>
<circle cx="566.2" cy="139.3" r="1.4" fill="#4e4e4e"/>
<circle cx="566.7" cy="136.7" r="1.4" fill="#4c4c4c"/>
<circle cx="567.0" cy="138.6" r="1.4" fill="#4c4c4c"/>
<circle cx="567.0" cy="138.0" r="1.4" fill="#4b4b4b"/>
<circle cx="567.5" cy="136.6" r="1.4" fill="#4a4a4a"/>
<circle cx="568.1" cy="136.0" r="1.4" fill="#474747"/>
<circle cx="568.2" cy="138.5" r="1.4" fill="#474747"/>
<circle cx="568.2" cy="136.5" r="1.4" fill="#474747"/>
<circle cx="568.8" cy="137.8" r="1.4" fill="#454545"/>
<circle cx="568.9" cy="137.4" r="1.4" fill="#444444"/>
<circle cx="574.5" cy="135.7" r="1.4" fill="#363636"/>
<circle cx="574.7" cy="136.0" r="1.4" fill="#353535"/>
<circle cx="574.7" cy="136.1" r="1.4" fill="#353535"/>
<circle cx="574.9" cy="136.4" r="1.4" fill="#353535"/>
<circle cx="574.9" cy="136.4" r="1.4" fill="#353535"/>
<circle cx="576.2" cy="136.3" r="1.4" fill="#343434"/>
<circle cx="575.2" cy="137.3" r="1.4" fill="#343434"/>
<circle cx="576.2" cy="137.3" r="1.4" fill="#333333"/>
<circle cx="575.3" cy="138.1" r="1.4" fill="#333333"/>
<circle cx="576.1" cy="138.0" r="1.4" fill="#323232"/>
<circle cx="575.2" cy="138.9" r="1.4" fill="#323232"/>
<circle cx="576.7" cy="138.1" r="1.4" fill="#323232"/>
<circle cx="576.7" cy="138.2" r="1.4" fill="#323232"/>
<circle cx="576.1" cy="138.6" r="1.4" fill="#313131"/>
<circle cx="576.6" cy="138.5" r="1.4" fill="#313131"/>
<circle cx="576.5" cy="139.3" r="1.4" fill="#303030"/>
<circle cx="585.9" cy="136.2" r="1.4" fill="#1a1a1a"/>
<circle cx="585.7" cy="137.8" r="1.4" fill="#1a1a1a"/>
<circle cx="586.4" cy="136.6" r="1.4" fill="#1a1a1a"/>
<circle cx="587.0" cy="136.8" r="1.4" fill="#1a1a1a"/>
<circle cx="587.3" cy="136.6" r="1.4" fill="#1a1a1a"/>
<circle cx="587.1" cy="137.7" r="1.4" fill="#1a1a1a"/>
<circle cx="587.9" cy="136.2" r="1.4" fill="#1a1a1a"/>
<circle cx="587.1" cy="139.0" r="1.4" fill="#1a1a1a"/>
<circle cx="588.0" cy="138.5" r="1.4" fill="#1a1a1a"/>
<circle cx="587.5" cy="139.7" r="1.4" fill="#1a1a1a"/>
<circle cx="587.9" cy="139.2" r="1.4" fill="#1a1a1a"/>
<circle cx="588.2" cy="139.0" r="1.4" fill="#1a1a1a"/>
<circle cx="590.1" cy="136.5" r="1.4" fill="#1a1a1a"/>
<circle cx="589.8" cy="136.9" r="1.4" fill="#1a1a1a"/>
<circle cx="588.5" cy="139.7" r="1.4" fill="#1a1a1a"/>
<circle cx="589.3" cy="138.6" r="1.4" fill="#1a1a1a"/>
<circle cx="590.2" cy="137.1" r="1.4" fill="#1a1a1a"/>
<circle cx="591.0" cy="136.3" r="1.4" fill="#1a1a1a"/>
<circle cx="589.5" cy="139.4" r="1.4" fill="#1a1a1a"/>
<circle cx="591.0" cy="137.0" r="1.4" fill="#1a1a1a"/>
<circle cx="589.8" cy="139.1" r="1.4" fill="#1a1a1a"/>
<circle cx="591.7" cy="136.4" r="1.4" fill="#1a1a1a"/>
<circle cx="591.3" cy="137.2" r="1.4" fill="#1a1a1a"/>
<circle cx="591.1" cy="138.1" r="1.4" fill="#1a1a1a"/>
<circle cx="590.8" cy="139.0" r="1.4" fill="#1a1a1a"/>
<circle cx="590.5" cy="139.7" r="1.4" fill="#1a1a1a"/>
<circle cx="591.6" cy="138.0" r="1.4" fill="#1a1a1a"/>
<circle cx="592.2" cy="137.7" r="1.4" fill="#1a1a1a"/>
<circle cx="591.3" cy="139.6" r="1.4" fill="#1a1a1a"/>
<circle cx="592.4" cy="137.7" r="1.4" fill="#1a1a1a"/>
<circle cx="592.6" cy="137.4" r="1.4" fill="#1a1a1a"/>
<circle cx="592.1" cy="139.7" r="1.4" fill="#1a1a1a"/>
<circle cx="607.6" cy="136.9" r="1.4" fill="#111111"/>
<circle cx="607.6" cy="137.2" r="1.4" fill="#111111"/>
<circle cx="607.8" cy="138.2" r="1.4" fill="#111111"/>
<circle cx="608.4" cy="136.4" r="1.4" fill="#111111"/>
<circle cx="608.7" cy="137.0" r="1.4" fill="#111111"/>
<circle cx="608.4" cy="138.3" r="1.4" fill="#111111"/>
<circle cx="609.0" cy="136.4" r="1.4" fill="#111111"/>
<circle cx="608.5" cy="138.6" r="1.4" fill="#111111"/>
<circle cx="609.3" cy="136.9" r="1.4" fill="#111111"/>
<circle cx="610.1" cy="135.8" r="1.4" fill="#111111"/>
<circle cx="610.0" cy="137.3" r="1.4" fill="#111111"/>
<circle cx="609.7" cy="138.9" r="1.4" fill="#111111"/>
<circle cx="609.9" cy="139.0" r="1.4" fill="#111111"/>
<circle cx="610.6" cy="138.2" r="1.4" fill="#111111"/>
<circle cx="610.8" cy="137.6" r="1.4" fill="#111111"/>
<circle cx="611.6" cy="136.0" r="1.4" fill="#111111"/>
<circle cx="611.1" cy="139.0" r="1.4" fill="#111111"/>
<circle cx="611.7" cy="136.7" r="1.4" fill="#111111"/>
<circle cx="611.8" cy="137.3" r="1.4" fill="#111111"/>
<circle cx="612.3" cy="136.0" r="1.4" fill="#111111"/>
<circle cx="612.0" cy="137.8" r="1.4" fill="#111111"/>
<circle cx="612.4" cy="136.8" r="1.4" fill="#111111"/>
<circle cx="613.6" cy="135.6" r="1.4" fill="#111111"/>
<circle cx="613.4" cy="137.8" r="1.4" fill="#111111"/>
<circle cx="614.2" cy="138.5" r="1.4" fill="#111111"/>
<circle cx="614.7" cy="136.3" r="1.4" fill="#111111"/>
<circle cx="614.4" cy="138.2" r="1.4" fill="#111111"/>
<circle cx="615.1" cy="136.1" r="1.4" fill="#111111"/>
<circle cx="614.5" cy="139.0" r="1.4" fill="#111111"/>
<circle cx="615.4" cy="135.9" r="1.4" fill="#111111"/>
<circle cx="615.4" cy="136.0" r="1.4" fill="#111111"/>
<circle cx="615.3" cy="138.2" r="1.4" fill="#111111"/>
<circle cx="615.7" cy="137.5" r="1.4" fill="#111111"/>
<circle cx="616.1" cy="136.0" r="1.4" fill="#111111"/>
<circle cx="616.0" cy="136.8" r="1.4" fill="#111111"/>
<circle cx="616.1" cy="136.8" r="1.4" fill="#111111"/>
<circle cx="616.5" cy="136.4" r="1.4" fill="#111111"/>
<circle cx="616.7" cy="135.7" r="1.4" fill="#111111"/>
<circle cx="617.0" cy="135.8" r="1.4" fill="#111111"/>
<circle cx="616.5" cy="138.8" r="1.4" fill="#111111"/>
<circle cx="617.3" cy="136.2" r="1.4" fill="#111111"/>
<circle cx="616.7" cy="138.6" r="1.4" fill="#111111"/>
<circle cx="616.8" cy="138.5" r="1.4" fill="#111111"/>
<circle cx="617.2" cy="136.7" r="1.4" fill="#111111"/>
<circle cx="617.6" cy="137.6" r="1.4" fill="#111111"/>
<circle cx="617.5" cy="138.2" r="1.4" fill="#111111"/>
<circle cx="617.8" cy="137.1" r="1.4" fill="#111111"/>
<circle cx="618.1" cy="136.8" r="1.4" fill="#111111"/>
<circle cx="618.5" cy="135.8" r="1.4" fill="#111111"/>
<circle cx="618.5" cy="136.2" r="1.4" fill="#111111"/>
<circle cx="618.5" cy="137.2" r="1.4" fill="#111111"/>
<circle cx="618.8" cy="135.8" r="1.4" fill="#111111"/>
<circle cx="618.2" cy="138.5" r="1.4" fill="#111111"/>
<circle cx="619.6" cy="135.8" r="1.4" fill="#111111"/>
<circle cx="619.4" cy="136.5" r="1.4" fill="#111111"/>
<circle cx="619.4" cy="137.4" r="1.4" fill="#111111"/>
<circle cx="619.6" cy="137.1" r="1.4" fill="#111111"/>
<circle cx="619.7" cy="136.8" r="1.4" fill="#111111"/>
<circle cx="619.5" cy="138.4" r="1.4" fill="#111111"/>
<circle cx="619.7" cy="138.0" r="1.4" fill="#111111"/>
<circle cx="656.4" cy="138.1" r="1.4" fill="#111111"/>
<circle cx="656.4" cy="138.6" r="1.4" fill="#111111"/>
<circle cx="656.9" cy="137.5" r="1.4" fill="#111111"/>
<circle cx="656.8" cy="138.0" r="1.4" fill="#111111"/>
<circle cx="656.8" cy="138.8" r="1.4" fill="#111111"/>
<circle cx="657.7" cy="137.1" r="1.4" fill="#111111"/>
<circle cx="657.2" cy="138.4" r="1.4" fill="#111111"/>
<circle cx="657.3" cy="138.6" r="1.4" fill="#111111"/>
<circle cx="657.2" cy="139.9" r="1.4" fill="#111111"/>
<circle cx="657.3" cy="139.5" r="1.4" fill="#111111"/>
<circle cx="657.4" cy="139.6" r="1.4" fill="#111111"/>
<circle cx="658.1" cy="138.0" r="1.4" fill="#111111"/>
<circle cx="657.4" cy="139.9" r="1.4" fill="#111111"/>
<circle cx="658.7" cy="137.0" r="1.4" fill="#111111"/>
<circle cx="658.4" cy="138.1" r="1.4" fill="#111111"/>
<circle cx="658.8" cy="137.3" r="1.4" fill="#111111"/>
<circle cx="658.5" cy="139.5" r="1.4" fill="#111111"/>
<circle cx="658.9" cy="139.1" r="1.4" fill="#111111"/>
<circle cx="659.0" cy="139.3" r="1.4" fill="#111111"/>
<circle cx="659.4" cy="138.2" r="1.4" fill="#111111"/>
<circle cx="659.5" cy="139.0" r="1.4" fill="#111111"/>
<circle cx="659.9" cy="138.1" r="1.4" fill="#111111"/>
<circle cx="660.4" cy="137.3" r="1.4" fill="#111111"/>
<circle cx="660.2" cy="138.3" r="1.4" fill="#111111"/>
<circle cx="660.7" cy="137.3" r="1.4" fill="#111111"/>
<circle cx="659.7" cy="140.0" r="1.4" fill="#111111"/>
<circle cx="660.5" cy="138.6" r="1.4" fill="#111111"/>
<circle cx="660.7" cy="139.1" r="1.4" fill="#111111"/>
<circle cx="661.1" cy="138.8" r="1.4" fill="#111111"/>
<circle cx="660.8" cy="139.9" r="1.4" fill="#111111"/>
<circle cx="662.0" cy="137.8" r="1.4" fill="#111111"/>
<circle cx="661.5" cy="139.3" r="1.4" fill="#111111"/>
<circle cx="662.1" cy="137.9" r="1.4" fill="#111111"/>
<circle cx="661.3" cy="140.0" r="1.4" fill="#111111"/>
<circle cx="662.3" cy="138.5" r="1.4" fill="#111111"/>
<circle cx="662.3" cy="138.9" r="1.4" fill="#111111"/>
<circle cx="662.9" cy="138.1" r="1.4" fill="#111111"/>
<circle cx="664.3" cy="137.3" r="1.4" fill="#111111"/>
<circle cx="664.6" cy="138.0" r="1.4" fill="#111111"/>
<circle cx="664.0" cy="140.0" r="1.4" fill="#111111"/>
<circle cx="621.1" cy="142.7" r="1.4" fill="#111111"/>
<circle cx="617.6" cy="145.6" r="1.4" fill="#111111"/>
<circle cx="619.4" cy="148.5" r="1.4" fill="#111111"/>
<circle cx="629.9" cy="138" r="1.4" fill="#111111"/>
<circle cx="637.2" cy="141.6" r="1.4" fill="#111111"/>
<circle cx="624.4" cy="174.3" r="1.4" fill="#111111"/>
<circle cx="646.9" cy="137" r="1.4" fill="#111111"/>
<circle cx="651.6" cy="134.5" r="1.4" fill="#111111"/>
<circle cx="651.6" cy="141" r="1.4" fill="#111111"/>
<circle cx="649.5" cy="140.5" r="1.4" fill="#111111"/>
<circle cx="661.5" cy="136.2" r="1.4" fill="#111111"/>
<circle cx="664" cy="136.2" r="1.4" fill="#111111"/>
<circle cx="667" cy="136.2" r="1.4" fill="#111111"/>
<circle cx="668" cy="146.2" r="1.4" fill="#111111"/>
<circle cx="666.9" cy="149.7" r="1.4" fill="#111111"/>
<circle cx="661.6" cy="150.3" r="1.4" fill="#111111"/>
<circle cx="670.4" cy="139.7" r="1.4" fill="#111111"/>
<circle cx="668" cy="140.5" r="1.4" fill="#111111"/>
<circle cx="653" cy="139" r="1.4" fill="#111111"/>
<circle cx="646.5" cy="176" r="1.4" fill="#111111"/>
<circle cx="650" cy="178.3" r="1.4" fill="#111111"/>
<circle cx="652.3" cy="174.8" r="1.4" fill="#111111"/>
<circle cx="654" cy="177.1" r="1.4" fill="#111111"/>
<circle cx="664" cy="179" r="1.4" fill="#111111"/>
<circle cx="647.7" cy="186.4" r="1.4" fill="#111111"/>
<circle cx="655.8" cy="186.4" r="1.4" fill="#111111"/>
<circle cx="658.1" cy="186.4" r="1.4" fill="#111111"/>
<circle cx="660.5" cy="186" r="1.4" fill="#111111"/>
<circle cx="662.8" cy="186.4" r="1.4" fill="#111111"/>
<circle cx="668.6" cy="186.4" r="1.4" fill="#111111"/>
<line x1="659.5" y1="202.3" x2="659.5" y2="119" stroke="#111" stroke-width="0.75" stroke-dasharray="2,1.2"/>
</g>
<rect x="552" y="119" width="129" height="83.30000000000001" fill="none" stroke="#7a7a7a" stroke-width="0.7"/>
<line x1="567.20" y1="202.3" x2="567.20" y2="203.60000000000002" stroke="#7a7a7a" stroke-width="0.6"/>
<text x="567.20" y="208.4" font-size="5.3" text-anchor="middle" textLength="8.15" lengthAdjust="spacingAndGlyphs">0.10</text>
<line x1="594.23" y1="202.3" x2="594.23" y2="203.60000000000002" stroke="#7a7a7a" stroke-width="0.6"/>
<text x="594.23" y="208.4" font-size="5.3" text-anchor="middle" textLength="8.15" lengthAdjust="spacingAndGlyphs">0.15</text>
<line x1="621.25" y1="202.3" x2="621.25" y2="203.60000000000002" stroke="#7a7a7a" stroke-width="0.6"/>
<text x="621.25" y="208.4" font-size="5.3" text-anchor="middle" textLength="8.15" lengthAdjust="spacingAndGlyphs">0.20</text>
<line x1="648.27" y1="202.3" x2="648.27" y2="203.60000000000002" stroke="#7a7a7a" stroke-width="0.6"/>
<text x="648.27" y="208.4" font-size="5.3" text-anchor="middle" textLength="8.15" lengthAdjust="spacingAndGlyphs">0.25</text>
<line x1="675.30" y1="202.3" x2="675.30" y2="203.60000000000002" stroke="#7a7a7a" stroke-width="0.6"/>
<text x="675.30" y="208.4" font-size="5.3" text-anchor="middle" textLength="8.15" lengthAdjust="spacingAndGlyphs">0.30</text>
<line x1="550.7" y1="198.70" x2="552" y2="198.70" stroke="#7a7a7a" stroke-width="0.6"/>
<text x="549.3" y="200.40" font-size="5.3" text-anchor="end" textLength="8.15" lengthAdjust="spacingAndGlyphs">0.46</text>
<line x1="550.7" y1="180.42" x2="552" y2="180.42" stroke="#7a7a7a" stroke-width="0.6"/>
<text x="549.3" y="182.12" font-size="5.3" text-anchor="end" textLength="8.15" lengthAdjust="spacingAndGlyphs">0.48</text>
<line x1="550.7" y1="162.15" x2="552" y2="162.15" stroke="#7a7a7a" stroke-width="0.6"/>
<text x="549.3" y="163.85" font-size="5.3" text-anchor="end" textLength="8.15" lengthAdjust="spacingAndGlyphs">0.50</text>
<line x1="550.7" y1="143.88" x2="552" y2="143.88" stroke="#7a7a7a" stroke-width="0.6"/>
<text x="549.3" y="145.57" font-size="5.3" text-anchor="end" textLength="8.15" lengthAdjust="spacingAndGlyphs">0.52</text>
<line x1="550.7" y1="125.60" x2="552" y2="125.60" stroke="#7a7a7a" stroke-width="0.6"/>
<text x="549.3" y="127.30" font-size="5.3" text-anchor="end" textLength="8.15" lengthAdjust="spacingAndGlyphs">0.54</text>
<text x="616.5" y="116.7" font-size="4.8" text-anchor="middle">Fake</text>
<text x="616.5" y="213.5" font-size="4.3" text-anchor="middle">A3 Loss</text>
<text x="0" y="0" font-size="4.3" text-anchor="middle" transform="translate(537,160.65) rotate(-90)">AUCs</text>
<g clip-path="url(#c8)">
<polyline points="22.2,236.2 24.0,237.4 25.8,244.0 26.4,256.1 27.0,268.0 28.0,280.0 29.0,295.0 29.5,306.0" fill="none" stroke="#1f77b4" stroke-width="0.8" stroke-linejoin="round" stroke-linecap="round" opacity="1"/>
<polyline points="20.4,240.4 22.8,247.7 24.6,256.1 25.8,264.5 27.0,273.0 28.6,297.9 31.4,305.7 35.0,309.3 38.6,311.4" fill="none" stroke="#ff7f0e" stroke-width="0.8" stroke-linejoin="round" stroke-linecap="round" opacity="1"/>
<polyline points="21.4,275.7 21.6,293.6 22.1,302.1 25.0,307.1 30.7,310.0 37.9,311.4 43.6,311.4 48.6,312.1" fill="none" stroke="#2ca02c" stroke-width="0.8" stroke-linejoin="round" stroke-linecap="round" opacity="1"/>
<polyline points="30.0,307.9 39.3,307.9 42.1,307.1 45.0,307.8 75.0,308.4 98.0,308.4" fill="none" stroke="#d62728" stroke-width="0.8" stroke-linejoin="round" stroke-linecap="round" opacity="1"/>
<polyline points="53.3,252.5 57.2,259.7 59.6,266.9 61.4,273.0 64.3,293.6 66.4,303.6 72.1,307.1 78.0,309.5 83.2,311.7" fill="none" stroke="#9467bd" stroke-width="0.8" stroke-linejoin="round" stroke-linecap="round" opacity="1"/>
<polyline points="39.7,239.2 45.1,242.8 48.7,247.7 51.1,254.9 52.3,263.3 53.3,271.8 54.3,293.6 56.4,303.6 62.1,306.4 75.0,309.3 80.0,310.0" fill="none" stroke="#8c564b" stroke-width="0.8" stroke-linejoin="round" stroke-linecap="round" opacity="1"/>
<polyline points="36.7,239.2 41.5,244.0 44.5,250.1 46.3,259.7 47.3,268.1 48.6,293.6 50.7,302.9 56.4,305.7 62.1,309.3 64.3,311.4" fill="none" stroke="#e377c2" stroke-width="0.8" stroke-linejoin="round" stroke-linecap="round" opacity="1"/>
<polyline points="58.0,308.4 98.0,308.4 120.0,309.5 138.8,310.3" fill="none" stroke="#7f7f7f" stroke-width="0.8" stroke-linejoin="round" stroke-linecap="round" opacity="1"/>
</g>
<rect x="112.6" y="234.2" width="29.700000000000017" height="46.60000000000002" rx="1" fill="#fff" fill-opacity="0.8" stroke="#d6d6d6" stroke-width="0.5"/>
<line x1="113.5" y1="236.90" x2="121.5" y2="236.90" stroke="#1f77b4" stroke-width="0.75"/>
<text x="124.6" y="238.50" font-size="4.6" textLength="12.44" lengthAdjust="spacingAndGlyphs">MNIST</text>
<line x1="113.5" y1="242.68" x2="121.5" y2="242.68" stroke="#ff7f0e" stroke-width="0.75"/>
<text x="124.6" y="244.28" font-size="4.6" textLength="14.89" lengthAdjust="spacingAndGlyphs">FMNIST</text>
<line x1="113.5" y1="248.46" x2="121.5" y2="248.46" stroke="#2ca02c" stroke-width="0.75"/>
<text x="124.6" y="250.06" font-size="4.6" textLength="16.23" lengthAdjust="spacingAndGlyphs">CIFAR10</text>
<line x1="113.5" y1="254.24" x2="121.5" y2="254.24" stroke="#d62728" stroke-width="0.75"/>
<text x="124.6" y="255.84" font-size="4.6" textLength="11.78" lengthAdjust="spacingAndGlyphs">STL10</text>
<line x1="113.5" y1="260.02" x2="121.5" y2="260.02" stroke="#9467bd" stroke-width="0.75"/>
<text x="124.6" y="261.62" font-size="4.6" textLength="15.11" lengthAdjust="spacingAndGlyphs">KMNIST</text>
<line x1="113.5" y1="265.80" x2="121.5" y2="265.80" stroke="#8c564b" stroke-width="0.75"/>
<text x="124.6" y="267.40" font-size="4.6" textLength="15.11" lengthAdjust="spacingAndGlyphs">EMNIST</text>
<line x1="113.5" y1="271.58" x2="121.5" y2="271.58" stroke="#e377c2" stroke-width="0.75"/>
<text x="124.6" y="273.18" font-size="4.6" textLength="15.55" lengthAdjust="spacingAndGlyphs">QMNIST</text>
<line x1="113.5" y1="277.36" x2="121.5" y2="277.36" stroke="#7f7f7f" stroke-width="0.75"/>
<text x="124.6" y="278.96" font-size="4.6" textLength="10.23" lengthAdjust="spacingAndGlyphs">FAKE</text>
<rect x="15" y="232.3" width="129.6" height="83.80000000000001" fill="none" stroke="#7a7a7a" stroke-width="0.7"/>
<line x1="17.60" y1="316.1" x2="17.60" y2="317.40000000000003" stroke="#7a7a7a" stroke-width="0.6"/>
<text x="17.60" y="322.20000000000005" font-size="5.3" text-anchor="middle" textLength="8.15" lengthAdjust="spacingAndGlyphs">0.00</text>
<line x1="40.00" y1="316.1" x2="40.00" y2="317.40000000000003" stroke="#7a7a7a" stroke-width="0.6"/>
<text x="40.00" y="322.20000000000005" font-size="5.3" text-anchor="middle" textLength="8.15" lengthAdjust="spacingAndGlyphs">0.05</text>
<line x1="62.40" y1="316.1" x2="62.40" y2="317.40000000000003" stroke="#7a7a7a" stroke-width="0.6"/>
<text x="62.40" y="322.20000000000005" font-size="5.3" text-anchor="middle" textLength="8.15" lengthAdjust="spacingAndGlyphs">0.10</text>
<line x1="84.80" y1="316.1" x2="84.80" y2="317.40000000000003" stroke="#7a7a7a" stroke-width="0.6"/>
<text x="84.80" y="322.20000000000005" font-size="5.3" text-anchor="middle" textLength="8.15" lengthAdjust="spacingAndGlyphs">0.15</text>
<line x1="107.20" y1="316.1" x2="107.20" y2="317.40000000000003" stroke="#7a7a7a" stroke-width="0.6"/>
<text x="107.20" y="322.20000000000005" font-size="5.3" text-anchor="middle" textLength="8.15" lengthAdjust="spacingAndGlyphs">0.20</text>
<line x1="129.60" y1="316.1" x2="129.60" y2="317.40000000000003" stroke="#7a7a7a" stroke-width="0.6"/>
<text x="129.60" y="322.20000000000005" font-size="5.3" text-anchor="middle" textLength="8.15" lengthAdjust="spacingAndGlyphs">0.25</text>
<line x1="13.7" y1="312.80" x2="15" y2="312.80" stroke="#7a7a7a" stroke-width="0.6"/>
<text x="12.3" y="314.50" font-size="5.3" text-anchor="end" textLength="5.82" lengthAdjust="spacingAndGlyphs">0.5</text>
<line x1="13.7" y1="297.20" x2="15" y2="297.20" stroke="#7a7a7a" stroke-width="0.6"/>
<text x="12.3" y="298.90" font-size="5.3" text-anchor="end" textLength="5.82" lengthAdjust="spacingAndGlyphs">0.6</text>
<line x1="13.7" y1="281.60" x2="15" y2="281.60" stroke="#7a7a7a" stroke-width="0.6"/>
<text x="12.3" y="283.30" font-size="5.3" text-anchor="end" textLength="5.82" lengthAdjust="spacingAndGlyphs">0.7</text>
<line x1="13.7" y1="266.00" x2="15" y2="266.00" stroke="#7a7a7a" stroke-width="0.6"/>
<text x="12.3" y="267.70" font-size="5.3" text-anchor="end" textLength="5.82" lengthAdjust="spacingAndGlyphs">0.8</text>
<line x1="13.7" y1="250.40" x2="15" y2="250.40" stroke="#7a7a7a" stroke-width="0.6"/>
<text x="12.3" y="252.10" font-size="5.3" text-anchor="end" textLength="5.82" lengthAdjust="spacingAndGlyphs">0.9</text>
<line x1="13.7" y1="234.80" x2="15" y2="234.80" stroke="#7a7a7a" stroke-width="0.6"/>
<text x="12.3" y="236.50" font-size="5.3" text-anchor="end" textLength="5.82" lengthAdjust="spacingAndGlyphs">1.0</text>
<text x="79.9" y="229.9" font-size="5.2" text-anchor="middle" textLength="92.5" lengthAdjust="spacingAndGlyphs">AUCs vs A3 Losses for Various Datasets</text>
<text x="79.8" y="327.3" font-size="4.3" text-anchor="middle">A3 Losses</text>
<text x="0" y="0" font-size="4.3" text-anchor="middle" transform="translate(2.0,274.20000000000005) rotate(-90)">FCN AUCs</text>
<g clip-path="url(#c9)">
<polyline points="203.1,310.2 240.7,307.5" fill="none" stroke="#7f7f7f" stroke-width="0.8" stroke-linejoin="round" stroke-linecap="round" opacity="1"/>
<polyline points="240.7,307.5 298.0,307.5 314.7,306.7" fill="none" stroke="#d62728" stroke-width="0.8" stroke-linejoin="round" stroke-linecap="round" opacity="1"/>
<polyline points="316.1,235.6 316.7,239.2 316.1,250.1 314.9,258.5 314.1,270.0 315.4,289.3 317.3,297.0 317.6,304.7" fill="none" stroke="#1f77b4" stroke-width="0.8" stroke-linejoin="round" stroke-linecap="round" opacity="1"/>
<polyline points="316.7,238.6 315.5,245.3 314.3,251.3 314.0,275.0 313.7,280.0 311.9,289.3 309.6,300.9 305.7,304.7 298.0,308.6" fill="none" stroke="#ff7f0e" stroke-width="0.8" stroke-linejoin="round" stroke-linecap="round" opacity="1"/>
<polyline points="317.6,275.1 317.3,299.6 315.4,304.7 312.2,308.6 305.7,310.5 298.0,311.2 321.2,311.2" fill="none" stroke="#2ca02c" stroke-width="0.8" stroke-linejoin="round" stroke-linecap="round" opacity="1"/>
<polyline points="313.5,242.0 314.0,250.0 314.5,270.0 313.5,290.0 311.0,300.0 306.0,304.0 299.0,306.0 310.0,307.0 316.0,306.0" fill="none" stroke="#9467bd" stroke-width="0.8" stroke-linejoin="round" stroke-linecap="round" opacity="1"/>
<polyline points="314.2,241.0 314.5,270.0 313.8,292.0 312.0,301.0 306.0,305.0 298.0,307.3 314.7,306.7" fill="none" stroke="#8c564b" stroke-width="0.8" stroke-linejoin="round" stroke-linecap="round" opacity="1"/>
<polyline points="310.7,239.2 315.5,238.0 311.9,241.6 313.1,244.0 313.1,256.1 313.7,275.0 313.0,290.0 310.0,302.0 305.0,306.0 300.0,308.0 310.0,309.0 316.0,310.0" fill="none" stroke="#e377c2" stroke-width="0.8" stroke-linejoin="round" stroke-linecap="round" opacity="1"/>
</g>
<rect x="198.2" y="232.8" width="30.700000000000017" height="48.39999999999998" rx="1" fill="#fff" fill-opacity="0.8" stroke="#d6d6d6" stroke-width="0.5"/>
<line x1="200.6" y1="236.00" x2="209" y2="236.00" stroke="#1f77b4" stroke-width="0.75"/>
<text x="211.8" y="237.60" font-size="4.6" textLength="12.44" lengthAdjust="spacingAndGlyphs">MNIST</text>
<line x1="200.6" y1="241.89" x2="209" y2="241.89" stroke="#ff7f0e" stroke-width="0.75"/>
<text x="211.8" y="243.49" font-size="4.6" textLength="14.89" lengthAdjust="spacingAndGlyphs">FMNIST</text>
<line x1="200.6" y1="247.78" x2="209" y2="247.78" stroke="#2ca02c" stroke-width="0.75"/>
<text x="211.8" y="249.38" font-size="4.6" textLength="16.23" lengthAdjust="spacingAndGlyphs">CIFAR10</text>
<line x1="200.6" y1="253.67" x2="209" y2="253.67" stroke="#d62728" stroke-width="0.75"/>
<text x="211.8" y="255.27" font-size="4.6" textLength="11.78" lengthAdjust="spacingAndGlyphs">STL10</text>
<line x1="200.6" y1="259.56" x2="209" y2="259.56" stroke="#9467bd" stroke-width="0.75"/>
<text x="211.8" y="261.16" font-size="4.6" textLength="15.11" lengthAdjust="spacingAndGlyphs">KMNIST</text>
<line x1="200.6" y1="265.45" x2="209" y2="265.45" stroke="#8c564b" stroke-width="0.75"/>
<text x="211.8" y="267.05" font-size="4.6" textLength="15.11" lengthAdjust="spacingAndGlyphs">EMNIST</text>
<line x1="200.6" y1="271.34" x2="209" y2="271.34" stroke="#e377c2" stroke-width="0.75"/>
<text x="211.8" y="272.94" font-size="4.6" textLength="15.55" lengthAdjust="spacingAndGlyphs">QMNIST</text>
<line x1="200.6" y1="277.23" x2="209" y2="277.23" stroke="#7f7f7f" stroke-width="0.75"/>
<text x="211.8" y="278.83" font-size="4.6" textLength="10.23" lengthAdjust="spacingAndGlyphs">FAKE</text>
<rect x="197" y="231.5" width="130.39999999999998" height="84.0" fill="none" stroke="#7a7a7a" stroke-width="0.7"/>
<line x1="198.80" y1="315.5" x2="198.80" y2="316.8" stroke="#7a7a7a" stroke-width="0.6"/>
<text x="198.80" y="321.6" font-size="5.3" text-anchor="middle" textLength="9.54" lengthAdjust="spacingAndGlyphs">−0.14</text>
<line x1="215.86" y1="315.5" x2="215.86" y2="316.8" stroke="#7a7a7a" stroke-width="0.6"/>
<text x="215.86" y="321.6" font-size="5.3" text-anchor="middle" textLength="9.54" lengthAdjust="spacingAndGlyphs">−0.12</text>
<line x1="232.91" y1="315.5" x2="232.91" y2="316.8" stroke="#7a7a7a" stroke-width="0.6"/>
<text x="232.91" y="321.6" font-size="5.3" text-anchor="middle" textLength="9.54" lengthAdjust="spacingAndGlyphs">−0.10</text>
<line x1="249.97" y1="315.5" x2="249.97" y2="316.8" stroke="#7a7a7a" stroke-width="0.6"/>
<text x="249.97" y="321.6" font-size="5.3" text-anchor="middle" textLength="9.54" lengthAdjust="spacingAndGlyphs">−0.08</text>
<line x1="267.03" y1="315.5" x2="267.03" y2="316.8" stroke="#7a7a7a" stroke-width="0.6"/>
<text x="267.03" y="321.6" font-size="5.3" text-anchor="middle" textLength="9.54" lengthAdjust="spacingAndGlyphs">−0.06</text>
<line x1="284.09" y1="315.5" x2="284.09" y2="316.8" stroke="#7a7a7a" stroke-width="0.6"/>
<text x="284.09" y="321.6" font-size="5.3" text-anchor="middle" textLength="9.54" lengthAdjust="spacingAndGlyphs">−0.04</text>
<line x1="301.14" y1="315.5" x2="301.14" y2="316.8" stroke="#7a7a7a" stroke-width="0.6"/>
<text x="301.14" y="321.6" font-size="5.3" text-anchor="middle" textLength="9.54" lengthAdjust="spacingAndGlyphs">−0.02</text>
<line x1="318.20" y1="315.5" x2="318.20" y2="316.8" stroke="#7a7a7a" stroke-width="0.6"/>
<text x="318.20" y="321.6" font-size="5.3" text-anchor="middle" textLength="8.15" lengthAdjust="spacingAndGlyphs">0.00</text>
<line x1="195.7" y1="312.00" x2="197" y2="312.00" stroke="#7a7a7a" stroke-width="0.6"/>
<text x="194.3" y="313.70" font-size="5.3" text-anchor="end" textLength="5.82" lengthAdjust="spacingAndGlyphs">0.5</text>
<line x1="195.7" y1="296.36" x2="197" y2="296.36" stroke="#7a7a7a" stroke-width="0.6"/>
<text x="194.3" y="298.06" font-size="5.3" text-anchor="end" textLength="5.82" lengthAdjust="spacingAndGlyphs">0.6</text>
<line x1="195.7" y1="280.72" x2="197" y2="280.72" stroke="#7a7a7a" stroke-width="0.6"/>
<text x="194.3" y="282.42" font-size="5.3" text-anchor="end" textLength="5.82" lengthAdjust="spacingAndGlyphs">0.7</text>
<line x1="195.7" y1="265.08" x2="197" y2="265.08" stroke="#7a7a7a" stroke-width="0.6"/>
<text x="194.3" y="266.78" font-size="5.3" text-anchor="end" textLength="5.82" lengthAdjust="spacingAndGlyphs">0.8</text>
<line x1="195.7" y1="249.44" x2="197" y2="249.44" stroke="#7a7a7a" stroke-width="0.6"/>
<text x="194.3" y="251.14" font-size="5.3" text-anchor="end" textLength="5.82" lengthAdjust="spacingAndGlyphs">0.9</text>
<line x1="195.7" y1="233.80" x2="197" y2="233.80" stroke="#7a7a7a" stroke-width="0.6"/>
<text x="194.3" y="235.50" font-size="5.3" text-anchor="end" textLength="5.82" lengthAdjust="spacingAndGlyphs">1.0</text>
<text x="261.5" y="229.9" font-size="5.2" text-anchor="middle" textLength="90.2" lengthAdjust="spacingAndGlyphs">AUCs vs A3 dL/dN for Various Datasets</text>
<text x="262.2" y="326.7" font-size="4.3" text-anchor="middle">A3 dL/dN</text>
<text x="0" y="0" font-size="4.3" text-anchor="middle" transform="translate(185.5,273.5) rotate(-90)">FCN AUCs</text>
<g clip-path="url(#c10)">
<polyline points="419.9,235.6 421.7,236.8 421.1,241.6 424.1,248.9 425.3,256.1 424.7,265.7 422.9,273.0 420.0,277.9 411.4,289.3 420.0,299.3 420.7,307.9 421.0,311.0" fill="none" stroke="#1f77b4" stroke-width="0.8" stroke-linejoin="round" stroke-linecap="round" opacity="1"/>
<polyline points="424.1,242.8 427.7,247.7 424.1,251.3 421.1,256.1 421.7,265.7 425.3,274.2 429.3,293.6 432.1,303.6 432.0,309.3 395.7,309.3" fill="none" stroke="#ff7f0e" stroke-width="0.8" stroke-linejoin="round" stroke-linecap="round" opacity="1"/>
<polyline points="422.1,283.6 422.9,289.3 421.4,297.9 424.3,304.3 437.6,308.5 437.6,311.0 385.0,311.0" fill="none" stroke="#2ca02c" stroke-width="0.8" stroke-linejoin="round" stroke-linecap="round" opacity="1"/>
<polyline points="395.0,306.4 487.5,307.1" fill="none" stroke="#d62728" stroke-width="0.8" stroke-linejoin="round" stroke-linecap="round" opacity="1"/>
<polyline points="418.7,260.3 420.7,282.1 422.1,303.6 438.2,305.9" fill="none" stroke="#9467bd" stroke-width="0.8" stroke-linejoin="round" stroke-linecap="round" opacity="1"/>
<polyline points="430.7,239.2 420.5,242.8 422.0,250.0 420.0,265.0 421.0,285.0 423.0,300.0 425.0,306.0 487.5,306.8" fill="none" stroke="#8c564b" stroke-width="0.8" stroke-linejoin="round" stroke-linecap="round" opacity="1"/>
<polyline points="410.2,239.8 419.3,240.4 430.1,239.2" fill="none" stroke="#e377c2" stroke-width="0.8" stroke-linejoin="round" stroke-linecap="round" opacity="1"/>
<polyline points="421.1,244.0 415.1,246.5 421.7,251.3 419.9,256.1 418.7,260.9 421.4,265.0 424.3,286.4 425.7,299.3 422.9,304.3 457.6,304.9" fill="none" stroke="#e377c2" stroke-width="0.8" stroke-linejoin="round" stroke-linecap="round" opacity="1"/>
<polyline points="430.7,307.1 395.0,307.1 395.0,311.0" fill="none" stroke="#e377c2" stroke-width="0.8" stroke-linejoin="round" stroke-linecap="round" opacity="1"/>
<polyline points="487.5,307.1 500.4,307.1 503.3,309.6" fill="none" stroke="#7f7f7f" stroke-width="0.8" stroke-linejoin="round" stroke-linecap="round" opacity="1"/>
</g>
<rect x="477" y="232.8" width="30.30000000000001" height="47.89999999999998" rx="1" fill="#fff" fill-opacity="0.8" stroke="#d6d6d6" stroke-width="0.5"/>
<line x1="478.1" y1="236.30" x2="486.6" y2="236.30" stroke="#1f77b4" stroke-width="0.75"/>
<text x="489.3" y="237.90" font-size="4.6" textLength="12.44" lengthAdjust="spacingAndGlyphs">MNIST</text>
<line x1="478.1" y1="242.13" x2="486.6" y2="242.13" stroke="#ff7f0e" stroke-width="0.75"/>
<text x="489.3" y="243.73" font-size="4.6" textLength="14.89" lengthAdjust="spacingAndGlyphs">FMNIST</text>
<line x1="478.1" y1="247.96" x2="486.6" y2="247.96" stroke="#2ca02c" stroke-width="0.75"/>
<text x="489.3" y="249.56" font-size="4.6" textLength="16.23" lengthAdjust="spacingAndGlyphs">CIFAR10</text>
<line x1="478.1" y1="253.79" x2="486.6" y2="253.79" stroke="#d62728" stroke-width="0.75"/>
<text x="489.3" y="255.39" font-size="4.6" textLength="11.78" lengthAdjust="spacingAndGlyphs">STL10</text>
<line x1="478.1" y1="259.62" x2="486.6" y2="259.62" stroke="#9467bd" stroke-width="0.75"/>
<text x="489.3" y="261.22" font-size="4.6" textLength="15.11" lengthAdjust="spacingAndGlyphs">KMNIST</text>
<line x1="478.1" y1="265.45" x2="486.6" y2="265.45" stroke="#8c564b" stroke-width="0.75"/>
<text x="489.3" y="267.05" font-size="4.6" textLength="15.11" lengthAdjust="spacingAndGlyphs">EMNIST</text>
<line x1="478.1" y1="271.28" x2="486.6" y2="271.28" stroke="#e377c2" stroke-width="0.75"/>
<text x="489.3" y="272.88" font-size="4.6" textLength="15.55" lengthAdjust="spacingAndGlyphs">QMNIST</text>
<line x1="478.1" y1="277.11" x2="486.6" y2="277.11" stroke="#7f7f7f" stroke-width="0.75"/>
<text x="489.3" y="278.71" font-size="4.6" textLength="10.23" lengthAdjust="spacingAndGlyphs">FAKE</text>
<rect x="380" y="231.5" width="129.8" height="84.0" fill="none" stroke="#7a7a7a" stroke-width="0.7"/>
<line x1="393.23" y1="315.5" x2="393.23" y2="316.8" stroke="#7a7a7a" stroke-width="0.6"/>
<text x="393.23" y="321.6" font-size="5.3" text-anchor="middle" textLength="9.54" lengthAdjust="spacingAndGlyphs">−0.02</text>
<line x1="421.20" y1="315.5" x2="421.20" y2="316.8" stroke="#7a7a7a" stroke-width="0.6"/>
<text x="421.20" y="321.6" font-size="5.3" text-anchor="middle" textLength="8.15" lengthAdjust="spacingAndGlyphs">0.00</text>
<line x1="449.17" y1="315.5" x2="449.17" y2="316.8" stroke="#7a7a7a" stroke-width="0.6"/>
<text x="449.17" y="321.6" font-size="5.3" text-anchor="middle" textLength="8.15" lengthAdjust="spacingAndGlyphs">0.02</text>
<line x1="477.13" y1="315.5" x2="477.13" y2="316.8" stroke="#7a7a7a" stroke-width="0.6"/>
<text x="477.13" y="321.6" font-size="5.3" text-anchor="middle" textLength="8.15" lengthAdjust="spacingAndGlyphs">0.04</text>
<line x1="505.10" y1="315.5" x2="505.10" y2="316.8" stroke="#7a7a7a" stroke-width="0.6"/>
<text x="505.10" y="321.6" font-size="5.3" text-anchor="middle" textLength="8.15" lengthAdjust="spacingAndGlyphs">0.06</text>
<line x1="378.7" y1="312.00" x2="380" y2="312.00" stroke="#7a7a7a" stroke-width="0.6"/>
<text x="377.3" y="313.70" font-size="5.3" text-anchor="end" textLength="5.82" lengthAdjust="spacingAndGlyphs">0.5</text>
<line x1="378.7" y1="296.36" x2="380" y2="296.36" stroke="#7a7a7a" stroke-width="0.6"/>
<text x="377.3" y="298.06" font-size="5.3" text-anchor="end" textLength="5.82" lengthAdjust="spacingAndGlyphs">0.6</text>
<line x1="378.7" y1="280.72" x2="380" y2="280.72" stroke="#7a7a7a" stroke-width="0.6"/>
<text x="377.3" y="282.42" font-size="5.3" text-anchor="end" textLength="5.82" lengthAdjust="spacingAndGlyphs">0.7</text>
<line x1="378.7" y1="265.08" x2="380" y2="265.08" stroke="#7a7a7a" stroke-width="0.6"/>
<text x="377.3" y="266.78" font-size="5.3" text-anchor="end" textLength="5.82" lengthAdjust="spacingAndGlyphs">0.8</text>
<line x1="378.7" y1="249.44" x2="380" y2="249.44" stroke="#7a7a7a" stroke-width="0.6"/>
<text x="377.3" y="251.14" font-size="5.3" text-anchor="end" textLength="5.82" lengthAdjust="spacingAndGlyphs">0.9</text>
<line x1="378.7" y1="233.80" x2="380" y2="233.80" stroke="#7a7a7a" stroke-width="0.6"/>
<text x="377.3" y="235.50" font-size="5.3" text-anchor="end" textLength="5.82" lengthAdjust="spacingAndGlyphs">1.0</text>
<text x="444.1" y="229.9" font-size="5.2" text-anchor="middle" textLength="95.6" lengthAdjust="spacingAndGlyphs">AUCs vs A3 dL2/dN2 for Various Datasets</text>
<text x="444.9" y="326.7" font-size="4.3" text-anchor="middle">A3 dL2/dN2</text>
<text x="0" y="0" font-size="4.3" text-anchor="middle" transform="translate(368,273.5) rotate(-90)">FCN AUCs</text>
<g clip-path="url(#c11)">
<polyline points="557.5,235.7 561.2,235.7 564.6,311.2 675.3,311.9" fill="none" stroke="#1f77b4" stroke-width="0.7" stroke-linejoin="round" stroke-linecap="round" opacity="1"/>
<polyline points="557.5,235.7 560.0,235.7 563.4,307.5 564.3,308.0 569.4,310.8 572.0,311.9 675.3,311.9" fill="none" stroke="#ff7f0e" stroke-width="0.7" stroke-linejoin="round" stroke-linecap="round" opacity="1"/>
<polyline points="557.5,235.7 574.4,235.7 585.4,311.6 585.6,308.3 596.0,311.9 675.3,311.9" fill="none" stroke="#2ca02c" stroke-width="0.7" stroke-linejoin="round" stroke-linecap="round" opacity="1"/>
<polyline points="557.5,235.7 570.6,235.7 580.6,307.4 585.8,308.3 595.0,311.9 675.3,311.9" fill="none" stroke="#d62728" stroke-width="0.7" stroke-linejoin="round" stroke-linecap="round" opacity="1"/>
<polyline points="557.4,279.7 563.7,311.9 675.3,311.9" fill="none" stroke="#9467bd" stroke-width="0.7" stroke-linejoin="round" stroke-linecap="round" opacity="1"/>
<polyline points="557.5,235.7 568.8,235.7 576.4,305.2 579.1,306.7 584.3,311.3 586.0,311.9 675.3,311.9" fill="none" stroke="#8c564b" stroke-width="0.7" stroke-linejoin="round" stroke-linecap="round" opacity="1"/>
<polyline points="557.5,307.8 675.3,307.8" fill="none" stroke="#e377c2" stroke-width="0.7" stroke-linejoin="round" stroke-linecap="round" opacity="1"/>
<polyline points="557.3,307.4 564.5,307.4 568.0,311.9 604.0,311.9 675.3,304.1" fill="none" stroke="#7f7f7f" stroke-width="0.7" stroke-linejoin="round" stroke-linecap="round" opacity="1"/>
</g>
<rect x="649.3" y="234" width="30.300000000000068" height="46.69999999999999" rx="1" fill="#fff" fill-opacity="0.8" stroke="#d6d6d6" stroke-width="0.5"/>
<line x1="650.4" y1="237.30" x2="658.4" y2="237.30" stroke="#1f77b4" stroke-width="0.75"/>
<text x="661.6" y="238.90" font-size="4.6" textLength="12.44" lengthAdjust="spacingAndGlyphs">MNIST</text>
<line x1="650.4" y1="243.11" x2="658.4" y2="243.11" stroke="#ff7f0e" stroke-width="0.75"/>
<text x="661.6" y="244.71" font-size="4.6" textLength="14.89" lengthAdjust="spacingAndGlyphs">FMNIST</text>
<line x1="650.4" y1="248.92" x2="658.4" y2="248.92" stroke="#2ca02c" stroke-width="0.75"/>
<text x="661.6" y="250.52" font-size="4.6" textLength="15.11" lengthAdjust="spacingAndGlyphs">KMNIST</text>
<line x1="650.4" y1="254.73" x2="658.4" y2="254.73" stroke="#d62728" stroke-width="0.75"/>
<text x="661.6" y="256.33" font-size="4.6" textLength="15.11" lengthAdjust="spacingAndGlyphs">EMNIST</text>
<line x1="650.4" y1="260.54" x2="658.4" y2="260.54" stroke="#9467bd" stroke-width="0.75"/>
<text x="661.6" y="262.14" font-size="4.6" textLength="16.23" lengthAdjust="spacingAndGlyphs">CIFAR10</text>
<line x1="650.4" y1="266.35" x2="658.4" y2="266.35" stroke="#8c564b" stroke-width="0.75"/>
<text x="661.6" y="267.95" font-size="4.6" textLength="15.55" lengthAdjust="spacingAndGlyphs">QMNIST</text>
<line x1="650.4" y1="272.16" x2="658.4" y2="272.16" stroke="#e377c2" stroke-width="0.75"/>
<text x="661.6" y="273.76" font-size="4.6" textLength="11.78" lengthAdjust="spacingAndGlyphs">STL10</text>
<line x1="650.4" y1="277.97" x2="658.4" y2="277.97" stroke="#7f7f7f" stroke-width="0.75"/>
<text x="661.6" y="279.57" font-size="4.6" textLength="10.23" lengthAdjust="spacingAndGlyphs">FAKE</text>
<rect x="552" y="232.8" width="129" height="83.19999999999999" fill="none" stroke="#7a7a7a" stroke-width="0.7"/>
<line x1="557.60" y1="316" x2="557.60" y2="317.3" stroke="#7a7a7a" stroke-width="0.6"/>
<text x="557.60" y="322.1" font-size="5.3" text-anchor="middle" textLength="5.82" lengthAdjust="spacingAndGlyphs">0.0</text>
<line x1="581.22" y1="316" x2="581.22" y2="317.3" stroke="#7a7a7a" stroke-width="0.6"/>
<text x="581.22" y="322.1" font-size="5.3" text-anchor="middle" textLength="5.82" lengthAdjust="spacingAndGlyphs">0.1</text>
<line x1="604.84" y1="316" x2="604.84" y2="317.3" stroke="#7a7a7a" stroke-width="0.6"/>
<text x="604.84" y="322.1" font-size="5.3" text-anchor="middle" textLength="5.82" lengthAdjust="spacingAndGlyphs">0.2</text>
<line x1="628.46" y1="316" x2="628.46" y2="317.3" stroke="#7a7a7a" stroke-width="0.6"/>
<text x="628.46" y="322.1" font-size="5.3" text-anchor="middle" textLength="5.82" lengthAdjust="spacingAndGlyphs">0.3</text>
<line x1="652.08" y1="316" x2="652.08" y2="317.3" stroke="#7a7a7a" stroke-width="0.6"/>
<text x="652.08" y="322.1" font-size="5.3" text-anchor="middle" textLength="5.82" lengthAdjust="spacingAndGlyphs">0.4</text>
<line x1="675.70" y1="316" x2="675.70" y2="317.3" stroke="#7a7a7a" stroke-width="0.6"/>
<text x="675.70" y="322.1" font-size="5.3" text-anchor="middle" textLength="5.82" lengthAdjust="spacingAndGlyphs">0.5</text>
<line x1="550.7" y1="312.00" x2="552" y2="312.00" stroke="#7a7a7a" stroke-width="0.6"/>
<text x="549.3" y="313.70" font-size="5.3" text-anchor="end" textLength="5.82" lengthAdjust="spacingAndGlyphs">0.5</text>
<line x1="550.7" y1="296.72" x2="552" y2="296.72" stroke="#7a7a7a" stroke-width="0.6"/>
<text x="549.3" y="298.42" font-size="5.3" text-anchor="end" textLength="5.82" lengthAdjust="spacingAndGlyphs">0.6</text>
<line x1="550.7" y1="281.44" x2="552" y2="281.44" stroke="#7a7a7a" stroke-width="0.6"/>
<text x="549.3" y="283.14" font-size="5.3" text-anchor="end" textLength="5.82" lengthAdjust="spacingAndGlyphs">0.7</text>
<line x1="550.7" y1="266.16" x2="552" y2="266.16" stroke="#7a7a7a" stroke-width="0.6"/>
<text x="549.3" y="267.86" font-size="5.3" text-anchor="end" textLength="5.82" lengthAdjust="spacingAndGlyphs">0.8</text>
<line x1="550.7" y1="250.88" x2="552" y2="250.88" stroke="#7a7a7a" stroke-width="0.6"/>
<text x="549.3" y="252.58" font-size="5.3" text-anchor="end" textLength="5.82" lengthAdjust="spacingAndGlyphs">0.9</text>
<line x1="550.7" y1="235.60" x2="552" y2="235.60" stroke="#7a7a7a" stroke-width="0.6"/>
<text x="549.3" y="237.30" font-size="5.3" text-anchor="end" textLength="5.82" lengthAdjust="spacingAndGlyphs">1.0</text>
<text x="616.6" y="229.9" font-size="5.2" text-anchor="middle" textLength="66.8" lengthAdjust="spacingAndGlyphs">Rectified Linear Interpolation</text>
<text x="616.5" y="327.2" font-size="4.3" text-anchor="middle">Autoencoder Loss</text>
<text x="0" y="0" font-size="4.3" text-anchor="middle" transform="translate(539.5,274.4) rotate(-90)">AUC</text>
<text x="50.8" y="352.3" font-size="15.5" class="cs" style="font-weight:bold" textLength="17.9" lengthAdjust="spacingAndGlyphs">(a)</text>
<text x="75.6" y="352.3" font-size="14.5" class="cs" style="font-style:italic" textLength="6.6" lengthAdjust="spacingAndGlyphs">f</text>
<text x="82.9" y="353.8" font-size="10.5" class="cs" style="font-style:italic" textLength="20.6" lengthAdjust="spacingAndGlyphs">g(n)</text>
<text x="232.7" y="352.3" font-size="15.5" class="cs" style="font-weight:bold" textLength="19.2" lengthAdjust="spacingAndGlyphs">(b)</text>
<text x="258.5" y="352.3" font-size="14.5" class="cs" style="font-style:italic" textLength="6.6" lengthAdjust="spacingAndGlyphs">f</text>
<path d="M269.8,340.2 L267.4,344.0" stroke="#111" stroke-width="1.3" stroke-linecap="round"/>
<text x="265.6" y="354.2" font-size="10.5" class="cs" style="font-style:italic" textLength="20.6" lengthAdjust="spacingAndGlyphs">g(n)</text>
<text x="415.8" y="352.3" font-size="15.5" class="cs" style="font-weight:bold" textLength="17.6" lengthAdjust="spacingAndGlyphs">(c)</text>
<text x="440.0" y="352.3" font-size="14.5" class="cs" style="font-style:italic" textLength="6.6" lengthAdjust="spacingAndGlyphs">f</text>
<path d="M450.9,340.2 L448.5,344.0 M455.0,340.2 L452.6,344.0" stroke="#111" stroke-width="1.3" stroke-linecap="round"/>
<text x="447.1" y="354.2" font-size="10.5" class="cs" style="font-style:italic" textLength="20.8" lengthAdjust="spacingAndGlyphs">g(n)</text>
<text x="559.7" y="352.3" font-size="15.5" class="cs" style="font-weight:bold" textLength="19.3" lengthAdjust="spacingAndGlyphs">(d)</text>
<text x="585.9" y="352.3" font-size="14.5" class="cs" style="font-style:italic" textLength="6.6" lengthAdjust="spacingAndGlyphs">f</text>
<text x="592.8" y="353.8" font-size="10.5" class="cs" style="font-style:italic" textLength="21.1" lengthAdjust="spacingAndGlyphs">g(n)</text>
<text x="619.0" y="353.3" font-size="14" class="cs" style="" textLength="9.8" lengthAdjust="spacingAndGlyphs">=</text>
<text x="633.8" y="352.3" font-size="14.5" class="cs" style="font-style:italic" textLength="7.8" lengthAdjust="spacingAndGlyphs">&#946;</text>
<text x="643.0" y="352.3" font-size="15.5" class="cs" style="font-style:italic" textLength="25.5" lengthAdjust="spacingAndGlyphs">g(n)</text>
</svg>
</body></html>
